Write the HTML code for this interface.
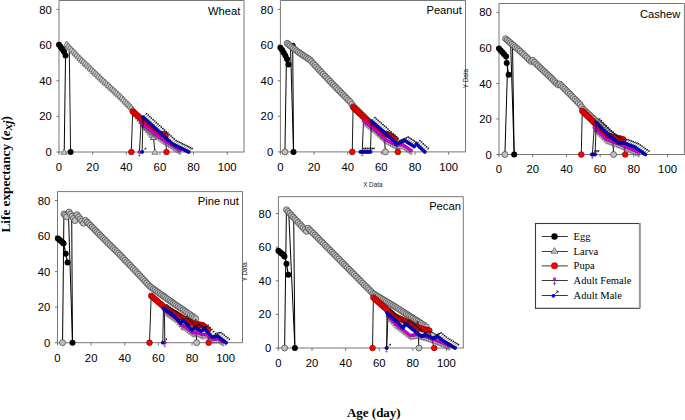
<!DOCTYPE html>
<html><head><meta charset="utf-8"><title>Life expectancy</title>
<style>
html,body{margin:0;padding:0;background:#fff;}
body{width:685px;height:420px;overflow:hidden;}
svg{display:block;}
.tk{font-family:"Liberation Sans",sans-serif;font-size:11.3px;fill:#000;}
.ti{font-family:"Liberation Sans",sans-serif;font-size:11.2px;fill:#000;}
.sm{font-family:"Liberation Sans",sans-serif;font-size:6.3px;fill:#222;}
.lg{font-family:"Liberation Serif",serif;font-size:11.3px;fill:#000;}
.ax{font-family:"Liberation Serif",serif;font-size:13px;font-weight:bold;fill:#000;}
</style></head>
<body>
<svg width="685" height="420" viewBox="0 0 685 420">
<rect width="685" height="420" fill="#fff"/>
<path d="M59.00 153.00V0.50H244.00V152.00M58.50 152.00H244.50" fill="none" stroke="#777" stroke-width="1"/>
<line x1="56.40" y1="152.00" x2="59.00" y2="152.00" stroke="#666" stroke-width="0.9"/>
<text x="51.80" y="156.10" class="tk" text-anchor="end">0</text>
<line x1="56.40" y1="116.35" x2="59.00" y2="116.35" stroke="#666" stroke-width="0.9"/>
<text x="51.80" y="120.45" class="tk" text-anchor="end">20</text>
<line x1="56.40" y1="80.71" x2="59.00" y2="80.71" stroke="#666" stroke-width="0.9"/>
<text x="51.80" y="84.81" class="tk" text-anchor="end">40</text>
<line x1="56.40" y1="45.06" x2="59.00" y2="45.06" stroke="#666" stroke-width="0.9"/>
<text x="51.80" y="49.16" class="tk" text-anchor="end">60</text>
<line x1="56.40" y1="9.41" x2="59.00" y2="9.41" stroke="#666" stroke-width="0.9"/>
<text x="51.80" y="13.51" class="tk" text-anchor="end">80</text>
<line x1="59.00" y1="152.00" x2="59.00" y2="154.80" stroke="#666" stroke-width="0.9"/>
<text x="59.00" y="170.90" class="tk" text-anchor="middle">0</text>
<line x1="92.64" y1="152.00" x2="92.64" y2="154.80" stroke="#666" stroke-width="0.9"/>
<text x="92.64" y="170.90" class="tk" text-anchor="middle">20</text>
<line x1="126.27" y1="152.00" x2="126.27" y2="154.80" stroke="#666" stroke-width="0.9"/>
<text x="126.27" y="170.90" class="tk" text-anchor="middle">40</text>
<line x1="159.91" y1="152.00" x2="159.91" y2="154.80" stroke="#666" stroke-width="0.9"/>
<text x="159.91" y="170.90" class="tk" text-anchor="middle">60</text>
<line x1="193.55" y1="152.00" x2="193.55" y2="154.80" stroke="#666" stroke-width="0.9"/>
<text x="193.55" y="170.90" class="tk" text-anchor="middle">80</text>
<line x1="227.18" y1="152.00" x2="227.18" y2="154.80" stroke="#666" stroke-width="0.9"/>
<text x="227.18" y="170.90" class="tk" text-anchor="middle">100</text>
<text x="240.40" y="15.00" class="ti" text-anchor="end">Wheat</text>
<path d="M280.40 152.90V0.50H465.50V151.90M279.90 151.90H466.00" fill="none" stroke="#777" stroke-width="1"/>
<line x1="277.80" y1="151.90" x2="280.40" y2="151.90" stroke="#666" stroke-width="0.9"/>
<text x="273.20" y="156.00" class="tk" text-anchor="end">0</text>
<line x1="277.80" y1="116.28" x2="280.40" y2="116.28" stroke="#666" stroke-width="0.9"/>
<text x="273.20" y="120.38" class="tk" text-anchor="end">20</text>
<line x1="277.80" y1="80.65" x2="280.40" y2="80.65" stroke="#666" stroke-width="0.9"/>
<text x="273.20" y="84.75" class="tk" text-anchor="end">40</text>
<line x1="277.80" y1="45.03" x2="280.40" y2="45.03" stroke="#666" stroke-width="0.9"/>
<text x="273.20" y="49.13" class="tk" text-anchor="end">60</text>
<line x1="277.80" y1="9.41" x2="280.40" y2="9.41" stroke="#666" stroke-width="0.9"/>
<text x="273.20" y="13.51" class="tk" text-anchor="end">80</text>
<line x1="280.40" y1="151.90" x2="280.40" y2="154.70" stroke="#666" stroke-width="0.9"/>
<text x="280.40" y="170.80" class="tk" text-anchor="middle">0</text>
<line x1="314.05" y1="151.90" x2="314.05" y2="154.70" stroke="#666" stroke-width="0.9"/>
<text x="314.05" y="170.80" class="tk" text-anchor="middle">20</text>
<line x1="347.71" y1="151.90" x2="347.71" y2="154.70" stroke="#666" stroke-width="0.9"/>
<text x="347.71" y="170.80" class="tk" text-anchor="middle">40</text>
<line x1="381.36" y1="151.90" x2="381.36" y2="154.70" stroke="#666" stroke-width="0.9"/>
<text x="381.36" y="170.80" class="tk" text-anchor="middle">60</text>
<line x1="415.02" y1="151.90" x2="415.02" y2="154.70" stroke="#666" stroke-width="0.9"/>
<text x="415.02" y="170.80" class="tk" text-anchor="middle">80</text>
<line x1="448.67" y1="151.90" x2="448.67" y2="154.70" stroke="#666" stroke-width="0.9"/>
<text x="448.67" y="170.80" class="tk" text-anchor="middle">100</text>
<text x="461.90" y="14.40" class="ti" text-anchor="end">Peanut</text>
<path d="M499.00 155.50V3.50H684.40V154.50M498.50 154.50H684.90" fill="none" stroke="#777" stroke-width="1"/>
<line x1="496.40" y1="154.50" x2="499.00" y2="154.50" stroke="#666" stroke-width="0.9"/>
<text x="491.80" y="158.60" class="tk" text-anchor="end">0</text>
<line x1="496.40" y1="118.97" x2="499.00" y2="118.97" stroke="#666" stroke-width="0.9"/>
<text x="491.80" y="123.07" class="tk" text-anchor="end">20</text>
<line x1="496.40" y1="83.44" x2="499.00" y2="83.44" stroke="#666" stroke-width="0.9"/>
<text x="491.80" y="87.54" class="tk" text-anchor="end">40</text>
<line x1="496.40" y1="47.91" x2="499.00" y2="47.91" stroke="#666" stroke-width="0.9"/>
<text x="491.80" y="52.01" class="tk" text-anchor="end">60</text>
<line x1="496.40" y1="12.38" x2="499.00" y2="12.38" stroke="#666" stroke-width="0.9"/>
<text x="491.80" y="16.48" class="tk" text-anchor="end">80</text>
<line x1="499.00" y1="154.50" x2="499.00" y2="157.30" stroke="#666" stroke-width="0.9"/>
<text x="499.00" y="173.40" class="tk" text-anchor="middle">0</text>
<line x1="532.71" y1="154.50" x2="532.71" y2="157.30" stroke="#666" stroke-width="0.9"/>
<text x="532.71" y="173.40" class="tk" text-anchor="middle">20</text>
<line x1="566.42" y1="154.50" x2="566.42" y2="157.30" stroke="#666" stroke-width="0.9"/>
<text x="566.42" y="173.40" class="tk" text-anchor="middle">40</text>
<line x1="600.13" y1="154.50" x2="600.13" y2="157.30" stroke="#666" stroke-width="0.9"/>
<text x="600.13" y="173.40" class="tk" text-anchor="middle">60</text>
<line x1="633.84" y1="154.50" x2="633.84" y2="157.30" stroke="#666" stroke-width="0.9"/>
<text x="633.84" y="173.40" class="tk" text-anchor="middle">80</text>
<line x1="667.55" y1="154.50" x2="667.55" y2="157.30" stroke="#666" stroke-width="0.9"/>
<text x="667.55" y="173.40" class="tk" text-anchor="middle">100</text>
<text x="680.30" y="17.90" class="ti" text-anchor="end">Cashew</text>
<path d="M57.50 343.70V191.60H242.50V342.70M57.00 342.70H243.00" fill="none" stroke="#777" stroke-width="1"/>
<line x1="54.90" y1="342.70" x2="57.50" y2="342.70" stroke="#666" stroke-width="0.9"/>
<text x="50.30" y="346.80" class="tk" text-anchor="end">0</text>
<line x1="54.90" y1="307.15" x2="57.50" y2="307.15" stroke="#666" stroke-width="0.9"/>
<text x="50.30" y="311.25" class="tk" text-anchor="end">20</text>
<line x1="54.90" y1="271.59" x2="57.50" y2="271.59" stroke="#666" stroke-width="0.9"/>
<text x="50.30" y="275.69" class="tk" text-anchor="end">40</text>
<line x1="54.90" y1="236.04" x2="57.50" y2="236.04" stroke="#666" stroke-width="0.9"/>
<text x="50.30" y="240.14" class="tk" text-anchor="end">60</text>
<line x1="54.90" y1="200.49" x2="57.50" y2="200.49" stroke="#666" stroke-width="0.9"/>
<text x="50.30" y="204.59" class="tk" text-anchor="end">80</text>
<line x1="57.50" y1="342.70" x2="57.50" y2="345.50" stroke="#666" stroke-width="0.9"/>
<text x="57.50" y="361.60" class="tk" text-anchor="middle">0</text>
<line x1="91.14" y1="342.70" x2="91.14" y2="345.50" stroke="#666" stroke-width="0.9"/>
<text x="91.14" y="361.60" class="tk" text-anchor="middle">20</text>
<line x1="124.77" y1="342.70" x2="124.77" y2="345.50" stroke="#666" stroke-width="0.9"/>
<text x="124.77" y="361.60" class="tk" text-anchor="middle">40</text>
<line x1="158.41" y1="342.70" x2="158.41" y2="345.50" stroke="#666" stroke-width="0.9"/>
<text x="158.41" y="361.60" class="tk" text-anchor="middle">60</text>
<line x1="192.05" y1="342.70" x2="192.05" y2="345.50" stroke="#666" stroke-width="0.9"/>
<text x="192.05" y="361.60" class="tk" text-anchor="middle">80</text>
<line x1="225.68" y1="342.70" x2="225.68" y2="345.50" stroke="#666" stroke-width="0.9"/>
<text x="225.68" y="361.60" class="tk" text-anchor="middle">100</text>
<text x="238.90" y="204.60" class="ti" text-anchor="end">Pine nut</text>
<path d="M278.40 349.00V196.70H463.30V348.00M277.90 348.00H463.80" fill="none" stroke="#777" stroke-width="1"/>
<line x1="275.80" y1="348.00" x2="278.40" y2="348.00" stroke="#666" stroke-width="0.9"/>
<text x="271.20" y="352.10" class="tk" text-anchor="end">0</text>
<line x1="275.80" y1="314.38" x2="278.40" y2="314.38" stroke="#666" stroke-width="0.9"/>
<text x="271.20" y="318.48" class="tk" text-anchor="end">20</text>
<line x1="275.80" y1="280.76" x2="278.40" y2="280.76" stroke="#666" stroke-width="0.9"/>
<text x="271.20" y="284.86" class="tk" text-anchor="end">40</text>
<line x1="275.80" y1="247.13" x2="278.40" y2="247.13" stroke="#666" stroke-width="0.9"/>
<text x="271.20" y="251.23" class="tk" text-anchor="end">60</text>
<line x1="275.80" y1="213.51" x2="278.40" y2="213.51" stroke="#666" stroke-width="0.9"/>
<text x="271.20" y="217.61" class="tk" text-anchor="end">80</text>
<line x1="278.40" y1="348.00" x2="278.40" y2="350.80" stroke="#666" stroke-width="0.9"/>
<text x="278.40" y="366.90" class="tk" text-anchor="middle">0</text>
<line x1="312.02" y1="348.00" x2="312.02" y2="350.80" stroke="#666" stroke-width="0.9"/>
<text x="312.02" y="366.90" class="tk" text-anchor="middle">20</text>
<line x1="345.64" y1="348.00" x2="345.64" y2="350.80" stroke="#666" stroke-width="0.9"/>
<text x="345.64" y="366.90" class="tk" text-anchor="middle">40</text>
<line x1="379.25" y1="348.00" x2="379.25" y2="350.80" stroke="#666" stroke-width="0.9"/>
<text x="379.25" y="366.90" class="tk" text-anchor="middle">60</text>
<line x1="412.87" y1="348.00" x2="412.87" y2="350.80" stroke="#666" stroke-width="0.9"/>
<text x="412.87" y="366.90" class="tk" text-anchor="middle">80</text>
<line x1="446.49" y1="348.00" x2="446.49" y2="350.80" stroke="#666" stroke-width="0.9"/>
<text x="446.49" y="366.90" class="tk" text-anchor="middle">100</text>
<text x="460.90" y="209.70" class="ti" text-anchor="end">Pecan</text>
<line x1="65.56" y1="55.40" x2="64.21" y2="152.00" stroke="#000" stroke-width="1.0"/>
<path d="M59.00 44.70 L60.68 47.02 L62.36 49.34 L64.05 51.83 L65.56 55.40" fill="none" stroke="#000" stroke-width="1.2"/>
<circle cx="59.00" cy="44.70" r="3" fill="#000"/><circle cx="60.68" cy="47.02" r="3" fill="#000"/><circle cx="62.36" cy="49.34" r="3" fill="#000"/><circle cx="64.05" cy="51.83" r="3" fill="#000"/><circle cx="65.56" cy="55.40" r="3" fill="#000"/>
<line x1="69.30" y1="52.00" x2="70.60" y2="152.00" stroke="#000" stroke-width="0.9"/>
<circle cx="70.60" cy="152.00" r="3" fill="#000"/>
<path d="M66.57 44.17 L68.25 45.93 L69.93 47.69 L71.61 49.45 L73.30 51.21 L74.98 52.97 L76.66 54.73 L78.34 56.49 L80.02 58.25 L81.69 59.85 L83.36 61.46 L85.03 63.06 L86.69 64.66 L88.36 66.27 L90.03 67.87 L91.70 69.48 L93.37 71.08 L95.03 72.69 L96.70 74.29 L98.37 75.89 L100.04 77.50 L101.70 79.04 L103.37 80.59 L105.04 82.13 L106.71 83.68 L108.38 85.22 L110.04 86.77 L111.71 88.31 L113.38 89.86 L115.05 91.40 L116.71 92.94 L118.38 94.49 L120.05 96.03 L121.66 97.66 L123.27 99.29 L124.88 100.92 L126.49 102.55 L128.10 104.18 L129.71 105.81 L131.32 107.44 L133.03 109.73 L134.73 112.02 L136.44 114.31 L138.15 116.60 L139.86 118.89 L141.56 121.18 L143.27 123.47 L144.98 125.76 L146.69 128.05 L148.40 130.34 L150.10 132.63 L151.81 134.92 L153.52 137.21" fill="none" stroke="#000" stroke-width="0.9"/>
<path d="M66.57 41.07L69.57 46.49L63.57 46.49Z" fill="#c8c8c8" stroke="#3a3a3a" stroke-width="0.6"/><path d="M68.25 42.83L71.25 48.25L65.25 48.25Z" fill="#c8c8c8" stroke="#3a3a3a" stroke-width="0.6"/><path d="M69.93 44.59L72.93 50.01L66.93 50.01Z" fill="#c8c8c8" stroke="#3a3a3a" stroke-width="0.6"/><path d="M71.61 46.35L74.61 51.77L68.61 51.77Z" fill="#c8c8c8" stroke="#3a3a3a" stroke-width="0.6"/><path d="M73.30 48.11L76.30 53.53L70.30 53.53Z" fill="#c8c8c8" stroke="#3a3a3a" stroke-width="0.6"/><path d="M74.98 49.87L77.98 55.29L71.98 55.29Z" fill="#c8c8c8" stroke="#3a3a3a" stroke-width="0.6"/><path d="M76.66 51.63L79.66 57.05L73.66 57.05Z" fill="#c8c8c8" stroke="#3a3a3a" stroke-width="0.6"/><path d="M78.34 53.39L81.34 58.81L75.34 58.81Z" fill="#c8c8c8" stroke="#3a3a3a" stroke-width="0.6"/><path d="M80.02 55.15L83.02 60.57L77.02 60.57Z" fill="#c8c8c8" stroke="#3a3a3a" stroke-width="0.6"/><path d="M81.69 56.75L84.69 62.18L78.69 62.18Z" fill="#c8c8c8" stroke="#3a3a3a" stroke-width="0.6"/><path d="M83.36 58.36L86.36 63.78L80.36 63.78Z" fill="#c8c8c8" stroke="#3a3a3a" stroke-width="0.6"/><path d="M85.03 59.96L88.03 65.39L82.03 65.39Z" fill="#c8c8c8" stroke="#3a3a3a" stroke-width="0.6"/><path d="M86.69 61.56L89.69 66.99L83.69 66.99Z" fill="#c8c8c8" stroke="#3a3a3a" stroke-width="0.6"/><path d="M88.36 63.17L91.36 68.59L85.36 68.59Z" fill="#c8c8c8" stroke="#3a3a3a" stroke-width="0.6"/><path d="M90.03 64.77L93.03 70.20L87.03 70.20Z" fill="#c8c8c8" stroke="#3a3a3a" stroke-width="0.6"/><path d="M91.70 66.38L94.70 71.80L88.70 71.80Z" fill="#c8c8c8" stroke="#3a3a3a" stroke-width="0.6"/><path d="M93.37 67.98L96.37 73.41L90.37 73.41Z" fill="#c8c8c8" stroke="#3a3a3a" stroke-width="0.6"/><path d="M95.03 69.59L98.03 75.01L92.03 75.01Z" fill="#c8c8c8" stroke="#3a3a3a" stroke-width="0.6"/><path d="M96.70 71.19L99.70 76.61L93.70 76.61Z" fill="#c8c8c8" stroke="#3a3a3a" stroke-width="0.6"/><path d="M98.37 72.79L101.37 78.22L95.37 78.22Z" fill="#c8c8c8" stroke="#3a3a3a" stroke-width="0.6"/><path d="M100.04 74.40L103.04 79.82L97.04 79.82Z" fill="#c8c8c8" stroke="#3a3a3a" stroke-width="0.6"/><path d="M101.70 75.94L104.70 81.37L98.70 81.37Z" fill="#c8c8c8" stroke="#3a3a3a" stroke-width="0.6"/><path d="M103.37 77.49L106.37 82.91L100.37 82.91Z" fill="#c8c8c8" stroke="#3a3a3a" stroke-width="0.6"/><path d="M105.04 79.03L108.04 84.46L102.04 84.46Z" fill="#c8c8c8" stroke="#3a3a3a" stroke-width="0.6"/><path d="M106.71 80.58L109.71 86.00L103.71 86.00Z" fill="#c8c8c8" stroke="#3a3a3a" stroke-width="0.6"/><path d="M108.38 82.12L111.38 87.55L105.38 87.55Z" fill="#c8c8c8" stroke="#3a3a3a" stroke-width="0.6"/><path d="M110.04 83.67L113.04 89.09L107.04 89.09Z" fill="#c8c8c8" stroke="#3a3a3a" stroke-width="0.6"/><path d="M111.71 85.21L114.71 90.64L108.71 90.64Z" fill="#c8c8c8" stroke="#3a3a3a" stroke-width="0.6"/><path d="M113.38 86.76L116.38 92.18L110.38 92.18Z" fill="#c8c8c8" stroke="#3a3a3a" stroke-width="0.6"/><path d="M115.05 88.30L118.05 93.73L112.05 93.73Z" fill="#c8c8c8" stroke="#3a3a3a" stroke-width="0.6"/><path d="M116.71 89.84L119.71 95.27L113.71 95.27Z" fill="#c8c8c8" stroke="#3a3a3a" stroke-width="0.6"/><path d="M118.38 91.39L121.38 96.81L115.38 96.81Z" fill="#c8c8c8" stroke="#3a3a3a" stroke-width="0.6"/><path d="M120.05 92.93L123.05 98.36L117.05 98.36Z" fill="#c8c8c8" stroke="#3a3a3a" stroke-width="0.6"/><path d="M121.66 94.56L124.66 99.99L118.66 99.99Z" fill="#c8c8c8" stroke="#3a3a3a" stroke-width="0.6"/><path d="M123.27 96.19L126.27 101.62L120.27 101.62Z" fill="#c8c8c8" stroke="#3a3a3a" stroke-width="0.6"/><path d="M124.88 97.82L127.88 103.25L121.88 103.25Z" fill="#c8c8c8" stroke="#3a3a3a" stroke-width="0.6"/><path d="M126.49 99.45L129.49 104.88L123.49 104.88Z" fill="#c8c8c8" stroke="#3a3a3a" stroke-width="0.6"/><path d="M128.10 101.08L131.10 106.51L125.10 106.51Z" fill="#c8c8c8" stroke="#3a3a3a" stroke-width="0.6"/><path d="M129.71 102.71L132.71 108.14L126.71 108.14Z" fill="#c8c8c8" stroke="#3a3a3a" stroke-width="0.6"/><path d="M131.32 104.34L134.32 109.77L128.32 109.77Z" fill="#c8c8c8" stroke="#3a3a3a" stroke-width="0.6"/><path d="M133.03 106.63L136.03 112.06L130.03 112.06Z" fill="#c8c8c8" stroke="#3a3a3a" stroke-width="0.6"/><path d="M134.73 108.92L137.73 114.35L131.73 114.35Z" fill="#c8c8c8" stroke="#3a3a3a" stroke-width="0.6"/><path d="M136.44 111.21L139.44 116.64L133.44 116.64Z" fill="#c8c8c8" stroke="#3a3a3a" stroke-width="0.6"/><path d="M138.15 113.50L141.15 118.92L135.15 118.92Z" fill="#c8c8c8" stroke="#3a3a3a" stroke-width="0.6"/><path d="M139.86 115.79L142.86 121.21L136.86 121.21Z" fill="#c8c8c8" stroke="#3a3a3a" stroke-width="0.6"/><path d="M141.56 118.08L144.56 123.50L138.56 123.50Z" fill="#c8c8c8" stroke="#3a3a3a" stroke-width="0.6"/><path d="M143.27 120.37L146.27 125.79L140.27 125.79Z" fill="#c8c8c8" stroke="#3a3a3a" stroke-width="0.6"/><path d="M144.98 122.66L147.98 128.08L141.98 128.08Z" fill="#c8c8c8" stroke="#3a3a3a" stroke-width="0.6"/><path d="M146.69 124.95L149.69 130.37L143.69 130.37Z" fill="#c8c8c8" stroke="#3a3a3a" stroke-width="0.6"/><path d="M148.40 127.24L151.40 132.66L145.40 132.66Z" fill="#c8c8c8" stroke="#3a3a3a" stroke-width="0.6"/><path d="M150.10 129.53L153.10 134.95L147.10 134.95Z" fill="#c8c8c8" stroke="#3a3a3a" stroke-width="0.6"/><path d="M151.81 131.82L154.81 137.24L148.81 137.24Z" fill="#c8c8c8" stroke="#3a3a3a" stroke-width="0.6"/><path d="M153.52 134.11L156.52 139.53L150.52 139.53Z" fill="#c8c8c8" stroke="#3a3a3a" stroke-width="0.6"/>
<path d="M153.52 137.21 L154.86 152.00" fill="none" stroke="#000" stroke-width="0.9"/>
<path d="M153.52 134.11L156.52 139.53L150.52 139.53Z" fill="#c8c8c8" stroke="#3a3a3a" stroke-width="0.6"/><path d="M154.86 148.90L157.86 154.32L151.86 154.32Z" fill="#c8c8c8" stroke="#3a3a3a" stroke-width="0.6"/>
<path d="M64.21 148.90L67.21 154.32L61.21 154.32Z" fill="#c8c8c8" stroke="#3a3a3a" stroke-width="0.6"/>
<path d="M131.32 152.00 L132.66 111.36 L134.37 112.86 L136.07 114.35 L137.77 115.84 L139.47 117.33 L141.18 118.83 L142.88 120.32 L144.58 121.81 L146.29 123.30 L147.99 124.80 L149.69 126.29 L151.39 127.78 L153.10 129.28 L154.80 130.77 L156.50 132.26 L158.21 133.75 L159.91 135.25 L162.10 134.18 L164.11 134.00 L165.63 135.60 L166.47 152.00" fill="none" stroke="#000" stroke-width="0.9"/>
<circle cx="131.32" cy="152.00" r="2.85" fill="#ff0000" stroke="#700000" stroke-width="0.6"/><circle cx="132.66" cy="111.36" r="2.85" fill="#ff0000" stroke="#700000" stroke-width="0.6"/><circle cx="134.37" cy="112.86" r="2.85" fill="#ff0000" stroke="#700000" stroke-width="0.6"/><circle cx="136.07" cy="114.35" r="2.85" fill="#ff0000" stroke="#700000" stroke-width="0.6"/><circle cx="137.77" cy="115.84" r="2.85" fill="#ff0000" stroke="#700000" stroke-width="0.6"/><circle cx="139.47" cy="117.33" r="2.85" fill="#ff0000" stroke="#700000" stroke-width="0.6"/><circle cx="141.18" cy="118.83" r="2.85" fill="#ff0000" stroke="#700000" stroke-width="0.6"/><circle cx="142.88" cy="120.32" r="2.85" fill="#ff0000" stroke="#700000" stroke-width="0.6"/><circle cx="144.58" cy="121.81" r="2.85" fill="#ff0000" stroke="#700000" stroke-width="0.6"/><circle cx="146.29" cy="123.30" r="2.85" fill="#ff0000" stroke="#700000" stroke-width="0.6"/><circle cx="147.99" cy="124.80" r="2.85" fill="#ff0000" stroke="#700000" stroke-width="0.6"/><circle cx="149.69" cy="126.29" r="2.85" fill="#ff0000" stroke="#700000" stroke-width="0.6"/><circle cx="151.39" cy="127.78" r="2.85" fill="#ff0000" stroke="#700000" stroke-width="0.6"/><circle cx="153.10" cy="129.28" r="2.85" fill="#ff0000" stroke="#700000" stroke-width="0.6"/><circle cx="154.80" cy="130.77" r="2.85" fill="#ff0000" stroke="#700000" stroke-width="0.6"/><circle cx="156.50" cy="132.26" r="2.85" fill="#ff0000" stroke="#700000" stroke-width="0.6"/><circle cx="158.21" cy="133.75" r="2.85" fill="#ff0000" stroke="#700000" stroke-width="0.6"/><circle cx="159.91" cy="135.25" r="2.85" fill="#ff0000" stroke="#700000" stroke-width="0.6"/><circle cx="162.10" cy="134.18" r="2.85" fill="#ff0000" stroke="#700000" stroke-width="0.6"/><circle cx="164.11" cy="134.00" r="2.85" fill="#ff0000" stroke="#700000" stroke-width="0.6"/><circle cx="165.63" cy="135.60" r="2.85" fill="#ff0000" stroke="#700000" stroke-width="0.6"/><circle cx="166.47" cy="152.00" r="2.85" fill="#ff0000" stroke="#700000" stroke-width="0.6"/>
<path d="M139.39 152.00 L141.07 123.13 L142.81 124.46 L144.55 125.80 L146.29 127.14 L148.02 128.47 L149.76 129.81 L151.50 131.15 L153.24 132.48 L154.98 133.82 L156.71 135.16 L158.45 136.49 L160.19 137.83 L161.93 139.17 L163.58 140.19 L165.23 141.21 L166.88 142.23 L168.53 143.25 L170.18 144.27 L171.83 145.29 L173.49 146.31 L175.14 147.33 L176.79 148.35 L178.44 149.38 L180.09 150.40" fill="none" stroke="#000" stroke-width="0.9"/>
<path d="M139.39 153.30V156.80M138.09 155.40H140.69" stroke="#555" stroke-width="0.6" fill="none"/><circle cx="139.39" cy="152.00" r="1.45" fill="#ff00ff" stroke="#800080" stroke-width="0.7"/><path d="M141.07 124.43V127.93M139.77 126.53H142.37" stroke="#555" stroke-width="0.6" fill="none"/><circle cx="141.07" cy="123.13" r="1.45" fill="#ff00ff" stroke="#800080" stroke-width="0.7"/><path d="M142.81 125.76V129.26M141.51 127.86H144.11" stroke="#555" stroke-width="0.6" fill="none"/><circle cx="142.81" cy="124.46" r="1.45" fill="#ff00ff" stroke="#800080" stroke-width="0.7"/><path d="M144.55 127.10V130.60M143.25 129.20H145.85" stroke="#555" stroke-width="0.6" fill="none"/><circle cx="144.55" cy="125.80" r="1.45" fill="#ff00ff" stroke="#800080" stroke-width="0.7"/><path d="M146.29 128.44V131.94M144.99 130.54H147.59" stroke="#555" stroke-width="0.6" fill="none"/><circle cx="146.29" cy="127.14" r="1.45" fill="#ff00ff" stroke="#800080" stroke-width="0.7"/><path d="M148.02 129.77V133.27M146.72 131.87H149.32" stroke="#555" stroke-width="0.6" fill="none"/><circle cx="148.02" cy="128.47" r="1.45" fill="#ff00ff" stroke="#800080" stroke-width="0.7"/><path d="M149.76 131.11V134.61M148.46 133.21H151.06" stroke="#555" stroke-width="0.6" fill="none"/><circle cx="149.76" cy="129.81" r="1.45" fill="#ff00ff" stroke="#800080" stroke-width="0.7"/><path d="M151.50 132.45V135.95M150.20 134.55H152.80" stroke="#555" stroke-width="0.6" fill="none"/><circle cx="151.50" cy="131.15" r="1.45" fill="#ff00ff" stroke="#800080" stroke-width="0.7"/><path d="M153.24 133.78V137.28M151.94 135.88H154.54" stroke="#555" stroke-width="0.6" fill="none"/><circle cx="153.24" cy="132.48" r="1.45" fill="#ff00ff" stroke="#800080" stroke-width="0.7"/><path d="M154.98 135.12V138.62M153.68 137.22H156.28" stroke="#555" stroke-width="0.6" fill="none"/><circle cx="154.98" cy="133.82" r="1.45" fill="#ff00ff" stroke="#800080" stroke-width="0.7"/><path d="M156.71 136.46V139.96M155.41 138.56H158.01" stroke="#555" stroke-width="0.6" fill="none"/><circle cx="156.71" cy="135.16" r="1.45" fill="#ff00ff" stroke="#800080" stroke-width="0.7"/><path d="M158.45 137.79V141.29M157.15 139.89H159.75" stroke="#555" stroke-width="0.6" fill="none"/><circle cx="158.45" cy="136.49" r="1.45" fill="#ff00ff" stroke="#800080" stroke-width="0.7"/><path d="M160.19 139.13V142.63M158.89 141.23H161.49" stroke="#555" stroke-width="0.6" fill="none"/><circle cx="160.19" cy="137.83" r="1.45" fill="#ff00ff" stroke="#800080" stroke-width="0.7"/><path d="M161.93 140.47V143.97M160.63 142.57H163.23" stroke="#555" stroke-width="0.6" fill="none"/><circle cx="161.93" cy="139.17" r="1.45" fill="#ff00ff" stroke="#800080" stroke-width="0.7"/><path d="M163.58 141.49V144.99M162.28 143.59H164.88" stroke="#555" stroke-width="0.6" fill="none"/><circle cx="163.58" cy="140.19" r="1.45" fill="#ff00ff" stroke="#800080" stroke-width="0.7"/><path d="M165.23 142.51V146.01M163.93 144.61H166.53" stroke="#555" stroke-width="0.6" fill="none"/><circle cx="165.23" cy="141.21" r="1.45" fill="#ff00ff" stroke="#800080" stroke-width="0.7"/><path d="M166.88 143.53V147.03M165.58 145.63H168.18" stroke="#555" stroke-width="0.6" fill="none"/><circle cx="166.88" cy="142.23" r="1.45" fill="#ff00ff" stroke="#800080" stroke-width="0.7"/><path d="M168.53 144.55V148.05M167.23 146.65H169.83" stroke="#555" stroke-width="0.6" fill="none"/><circle cx="168.53" cy="143.25" r="1.45" fill="#ff00ff" stroke="#800080" stroke-width="0.7"/><path d="M170.18 145.57V149.07M168.88 147.67H171.48" stroke="#555" stroke-width="0.6" fill="none"/><circle cx="170.18" cy="144.27" r="1.45" fill="#ff00ff" stroke="#800080" stroke-width="0.7"/><path d="M171.83 146.59V150.09M170.53 148.69H173.13" stroke="#555" stroke-width="0.6" fill="none"/><circle cx="171.83" cy="145.29" r="1.45" fill="#ff00ff" stroke="#800080" stroke-width="0.7"/><path d="M173.49 147.61V151.11M172.19 149.71H174.79" stroke="#555" stroke-width="0.6" fill="none"/><circle cx="173.49" cy="146.31" r="1.45" fill="#ff00ff" stroke="#800080" stroke-width="0.7"/><path d="M175.14 148.63V152.13M173.84 150.73H176.44" stroke="#555" stroke-width="0.6" fill="none"/><circle cx="175.14" cy="147.33" r="1.45" fill="#ff00ff" stroke="#800080" stroke-width="0.7"/><path d="M176.79 149.65V153.15M175.49 151.75H178.09" stroke="#555" stroke-width="0.6" fill="none"/><circle cx="176.79" cy="148.35" r="1.45" fill="#ff00ff" stroke="#800080" stroke-width="0.7"/><path d="M178.44 150.68V154.18M177.14 152.78H179.74" stroke="#555" stroke-width="0.6" fill="none"/><circle cx="178.44" cy="149.38" r="1.45" fill="#ff00ff" stroke="#800080" stroke-width="0.7"/><path d="M180.09 151.70V155.20M178.79 153.80H181.39" stroke="#555" stroke-width="0.6" fill="none"/><circle cx="180.09" cy="150.40" r="1.45" fill="#ff00ff" stroke="#800080" stroke-width="0.7"/>
<path d="M142.08 152.00 L143.09 117.07 L144.73 118.56 L146.36 120.06 L148.00 121.55 L149.63 123.05 L151.27 124.54 L152.90 126.04 L154.54 127.53 L156.17 129.03 L157.81 130.52 L159.44 132.02 L161.08 133.51 L162.71 135.01 L164.35 136.50 L165.98 138.00 L167.62 139.49 L169.25 140.99 L170.89 142.48 L172.52 143.98 L174.14 144.78 L175.75 145.58 L177.37 146.39 L178.98 147.19 L180.60 147.99 L182.21 148.79 L183.82 149.59 L185.44 150.40 L187.05 151.20 L188.67 152.00" fill="none" stroke="#000" stroke-width="0.9"/>
<path d="M143.08 151.00L145.48 148.60" stroke="#333" stroke-width="0.55" fill="none"/><path d="M146.38 147.70L144.38 148.10L145.98 149.70Z" fill="#000"/><circle cx="142.08" cy="152.00" r="1.55" fill="#0000ff" stroke="#000060" stroke-width="0.7"/><path d="M144.09 116.07L146.49 113.67" stroke="#333" stroke-width="0.55" fill="none"/><path d="M147.39 112.77L145.39 113.17L146.99 114.77Z" fill="#000"/><circle cx="143.09" cy="117.07" r="1.55" fill="#0000ff" stroke="#000060" stroke-width="0.7"/><path d="M145.73 117.56L148.13 115.16" stroke="#333" stroke-width="0.55" fill="none"/><path d="M149.03 114.26L147.03 114.66L148.63 116.26Z" fill="#000"/><circle cx="144.73" cy="118.56" r="1.55" fill="#0000ff" stroke="#000060" stroke-width="0.7"/><path d="M147.36 119.06L149.76 116.66" stroke="#333" stroke-width="0.55" fill="none"/><path d="M150.66 115.76L148.66 116.16L150.26 117.76Z" fill="#000"/><circle cx="146.36" cy="120.06" r="1.55" fill="#0000ff" stroke="#000060" stroke-width="0.7"/><path d="M149.00 120.55L151.40 118.15" stroke="#333" stroke-width="0.55" fill="none"/><path d="M152.30 117.25L150.30 117.65L151.90 119.25Z" fill="#000"/><circle cx="148.00" cy="121.55" r="1.55" fill="#0000ff" stroke="#000060" stroke-width="0.7"/><path d="M150.63 122.05L153.03 119.65" stroke="#333" stroke-width="0.55" fill="none"/><path d="M153.93 118.75L151.93 119.15L153.53 120.75Z" fill="#000"/><circle cx="149.63" cy="123.05" r="1.55" fill="#0000ff" stroke="#000060" stroke-width="0.7"/><path d="M152.27 123.54L154.67 121.14" stroke="#333" stroke-width="0.55" fill="none"/><path d="M155.57 120.24L153.57 120.64L155.17 122.24Z" fill="#000"/><circle cx="151.27" cy="124.54" r="1.55" fill="#0000ff" stroke="#000060" stroke-width="0.7"/><path d="M153.90 125.04L156.30 122.64" stroke="#333" stroke-width="0.55" fill="none"/><path d="M157.20 121.74L155.20 122.14L156.80 123.74Z" fill="#000"/><circle cx="152.90" cy="126.04" r="1.55" fill="#0000ff" stroke="#000060" stroke-width="0.7"/><path d="M155.54 126.53L157.94 124.13" stroke="#333" stroke-width="0.55" fill="none"/><path d="M158.84 123.23L156.84 123.63L158.44 125.23Z" fill="#000"/><circle cx="154.54" cy="127.53" r="1.55" fill="#0000ff" stroke="#000060" stroke-width="0.7"/><path d="M157.17 128.03L159.57 125.63" stroke="#333" stroke-width="0.55" fill="none"/><path d="M160.47 124.73L158.47 125.13L160.07 126.73Z" fill="#000"/><circle cx="156.17" cy="129.03" r="1.55" fill="#0000ff" stroke="#000060" stroke-width="0.7"/><path d="M158.81 129.52L161.21 127.12" stroke="#333" stroke-width="0.55" fill="none"/><path d="M162.11 126.22L160.11 126.62L161.71 128.22Z" fill="#000"/><circle cx="157.81" cy="130.52" r="1.55" fill="#0000ff" stroke="#000060" stroke-width="0.7"/><path d="M160.44 131.02L162.84 128.62" stroke="#333" stroke-width="0.55" fill="none"/><path d="M163.74 127.72L161.74 128.12L163.34 129.72Z" fill="#000"/><circle cx="159.44" cy="132.02" r="1.55" fill="#0000ff" stroke="#000060" stroke-width="0.7"/><path d="M162.08 132.51L164.48 130.11" stroke="#333" stroke-width="0.55" fill="none"/><path d="M165.38 129.21L163.38 129.61L164.98 131.21Z" fill="#000"/><circle cx="161.08" cy="133.51" r="1.55" fill="#0000ff" stroke="#000060" stroke-width="0.7"/><path d="M163.71 134.01L166.11 131.61" stroke="#333" stroke-width="0.55" fill="none"/><path d="M167.01 130.71L165.01 131.11L166.61 132.71Z" fill="#000"/><circle cx="162.71" cy="135.01" r="1.55" fill="#0000ff" stroke="#000060" stroke-width="0.7"/><path d="M165.35 135.50L167.75 133.10" stroke="#333" stroke-width="0.55" fill="none"/><path d="M168.65 132.20L166.65 132.60L168.25 134.20Z" fill="#000"/><circle cx="164.35" cy="136.50" r="1.55" fill="#0000ff" stroke="#000060" stroke-width="0.7"/><path d="M166.98 137.00L169.38 134.60" stroke="#333" stroke-width="0.55" fill="none"/><path d="M170.28 133.70L168.28 134.10L169.88 135.70Z" fill="#000"/><circle cx="165.98" cy="138.00" r="1.55" fill="#0000ff" stroke="#000060" stroke-width="0.7"/><path d="M168.62 138.49L171.02 136.09" stroke="#333" stroke-width="0.55" fill="none"/><path d="M171.92 135.19L169.92 135.59L171.52 137.19Z" fill="#000"/><circle cx="167.62" cy="139.49" r="1.55" fill="#0000ff" stroke="#000060" stroke-width="0.7"/><path d="M170.25 139.99L172.65 137.59" stroke="#333" stroke-width="0.55" fill="none"/><path d="M173.55 136.69L171.55 137.09L173.15 138.69Z" fill="#000"/><circle cx="169.25" cy="140.99" r="1.55" fill="#0000ff" stroke="#000060" stroke-width="0.7"/><path d="M171.89 141.48L174.29 139.08" stroke="#333" stroke-width="0.55" fill="none"/><path d="M175.19 138.18L173.19 138.58L174.79 140.18Z" fill="#000"/><circle cx="170.89" cy="142.48" r="1.55" fill="#0000ff" stroke="#000060" stroke-width="0.7"/><path d="M173.52 142.98L175.92 140.58" stroke="#333" stroke-width="0.55" fill="none"/><path d="M176.82 139.68L174.82 140.08L176.42 141.68Z" fill="#000"/><circle cx="172.52" cy="143.98" r="1.55" fill="#0000ff" stroke="#000060" stroke-width="0.7"/><path d="M175.14 143.78L177.54 141.38" stroke="#333" stroke-width="0.55" fill="none"/><path d="M178.44 140.48L176.44 140.88L178.04 142.48Z" fill="#000"/><circle cx="174.14" cy="144.78" r="1.55" fill="#0000ff" stroke="#000060" stroke-width="0.7"/><path d="M176.75 144.58L179.15 142.18" stroke="#333" stroke-width="0.55" fill="none"/><path d="M180.05 141.28L178.05 141.68L179.65 143.28Z" fill="#000"/><circle cx="175.75" cy="145.58" r="1.55" fill="#0000ff" stroke="#000060" stroke-width="0.7"/><path d="M178.37 145.39L180.77 142.99" stroke="#333" stroke-width="0.55" fill="none"/><path d="M181.67 142.09L179.67 142.49L181.27 144.09Z" fill="#000"/><circle cx="177.37" cy="146.39" r="1.55" fill="#0000ff" stroke="#000060" stroke-width="0.7"/><path d="M179.98 146.19L182.38 143.79" stroke="#333" stroke-width="0.55" fill="none"/><path d="M183.28 142.89L181.28 143.29L182.88 144.89Z" fill="#000"/><circle cx="178.98" cy="147.19" r="1.55" fill="#0000ff" stroke="#000060" stroke-width="0.7"/><path d="M181.60 146.99L184.00 144.59" stroke="#333" stroke-width="0.55" fill="none"/><path d="M184.90 143.69L182.90 144.09L184.50 145.69Z" fill="#000"/><circle cx="180.60" cy="147.99" r="1.55" fill="#0000ff" stroke="#000060" stroke-width="0.7"/><path d="M183.21 147.79L185.61 145.39" stroke="#333" stroke-width="0.55" fill="none"/><path d="M186.51 144.49L184.51 144.89L186.11 146.49Z" fill="#000"/><circle cx="182.21" cy="148.79" r="1.55" fill="#0000ff" stroke="#000060" stroke-width="0.7"/><path d="M184.82 148.59L187.22 146.19" stroke="#333" stroke-width="0.55" fill="none"/><path d="M188.12 145.29L186.12 145.69L187.72 147.29Z" fill="#000"/><circle cx="183.82" cy="149.59" r="1.55" fill="#0000ff" stroke="#000060" stroke-width="0.7"/><path d="M186.44 149.40L188.84 147.00" stroke="#333" stroke-width="0.55" fill="none"/><path d="M189.74 146.10L187.74 146.50L189.34 148.10Z" fill="#000"/><circle cx="185.44" cy="150.40" r="1.55" fill="#0000ff" stroke="#000060" stroke-width="0.7"/><path d="M188.05 150.20L190.45 147.80" stroke="#333" stroke-width="0.55" fill="none"/><path d="M191.35 146.90L189.35 147.30L190.95 148.90Z" fill="#000"/><circle cx="187.05" cy="151.20" r="1.55" fill="#0000ff" stroke="#000060" stroke-width="0.7"/><path d="M189.67 151.00L192.07 148.60" stroke="#333" stroke-width="0.55" fill="none"/><path d="M192.97 147.70L190.97 148.10L192.57 149.70Z" fill="#000"/><circle cx="188.67" cy="152.00" r="1.55" fill="#0000ff" stroke="#000060" stroke-width="0.7"/>
<path d="M280.40 47.70 L282.08 50.02 L283.77 52.87 L285.45 55.72 L287.13 59.28 L288.48 64.62" fill="none" stroke="#000" stroke-width="1.2"/>
<circle cx="280.40" cy="47.70" r="3" fill="#000"/><circle cx="282.08" cy="50.02" r="3" fill="#000"/><circle cx="283.77" cy="52.87" r="3" fill="#000"/><circle cx="285.45" cy="55.72" r="3" fill="#000"/><circle cx="287.13" cy="59.28" r="3" fill="#000"/><circle cx="288.48" cy="64.62" r="3" fill="#000"/>
<circle cx="292.68" cy="45.74" r="3" fill="#000"/>
<line x1="290.60" y1="50.00" x2="293.53" y2="151.90" stroke="#000" stroke-width="1.0"/>
<line x1="292.70" y1="46.00" x2="293.53" y2="151.90" stroke="#000" stroke-width="1.0"/>
<line x1="284.94" y1="151.90" x2="286.40" y2="60.00" stroke="#000" stroke-width="1.0"/>
<circle cx="284.94" cy="151.90" r="3.0" fill="#c0c0c0" stroke="#333" stroke-width="0.65"/>
<circle cx="293.53" cy="151.90" r="3" fill="#000"/>
<path d="M287.13 43.25 L288.56 44.50 L289.99 45.74 L291.65 46.99 L293.30 48.24 L294.96 49.48 L296.61 50.73 L298.26 51.98 L299.92 53.22 L301.60 54.32 L303.29 55.42 L304.97 56.52 L306.65 57.62 L308.33 58.71 L310.02 59.81 L311.67 61.62 L313.33 63.43 L314.98 65.25 L316.63 67.06 L318.29 68.87 L319.94 70.68 L321.63 72.46 L323.31 74.24 L324.99 76.02 L326.67 77.80 L328.36 79.58 L330.04 81.37 L331.70 83.06 L333.35 84.75 L335.00 86.44 L336.66 88.13 L338.31 89.83 L339.97 91.52 L341.65 93.21 L343.33 94.90 L345.02 96.59 L346.70 98.29 L348.38 99.98 L350.06 101.67 L351.83 104.08 L353.60 106.48 L355.31 108.16 L357.02 109.84 L358.73 111.53 L360.44 113.21 L362.15 114.89 L363.86 116.57 L365.57 118.26 L367.28 119.94 L369.00 121.62 L370.71 123.30 L372.42 124.98 L374.13 126.67 L375.84 128.35 L377.55 130.03 L379.26 131.71 L380.97 133.40 L382.68 135.08 L384.39 136.76" fill="none" stroke="#000" stroke-width="0.9"/>
<circle cx="287.13" cy="43.25" r="3.0" fill="#c0c0c0" stroke="#333" stroke-width="0.65"/><circle cx="288.56" cy="44.50" r="3.0" fill="#c0c0c0" stroke="#333" stroke-width="0.65"/><circle cx="289.99" cy="45.74" r="3.0" fill="#c0c0c0" stroke="#333" stroke-width="0.65"/><circle cx="291.65" cy="46.99" r="3.0" fill="#c0c0c0" stroke="#333" stroke-width="0.65"/><circle cx="293.30" cy="48.24" r="3.0" fill="#c0c0c0" stroke="#333" stroke-width="0.65"/><circle cx="294.96" cy="49.48" r="3.0" fill="#c0c0c0" stroke="#333" stroke-width="0.65"/><circle cx="296.61" cy="50.73" r="3.0" fill="#c0c0c0" stroke="#333" stroke-width="0.65"/><circle cx="298.26" cy="51.98" r="3.0" fill="#c0c0c0" stroke="#333" stroke-width="0.65"/><circle cx="299.92" cy="53.22" r="3.0" fill="#c0c0c0" stroke="#333" stroke-width="0.65"/><circle cx="301.60" cy="54.32" r="3.0" fill="#c0c0c0" stroke="#333" stroke-width="0.65"/><circle cx="303.29" cy="55.42" r="3.0" fill="#c0c0c0" stroke="#333" stroke-width="0.65"/><circle cx="304.97" cy="56.52" r="3.0" fill="#c0c0c0" stroke="#333" stroke-width="0.65"/><circle cx="306.65" cy="57.62" r="3.0" fill="#c0c0c0" stroke="#333" stroke-width="0.65"/><circle cx="308.33" cy="58.71" r="3.0" fill="#c0c0c0" stroke="#333" stroke-width="0.65"/><circle cx="310.02" cy="59.81" r="3.0" fill="#c0c0c0" stroke="#333" stroke-width="0.65"/><circle cx="311.67" cy="61.62" r="3.0" fill="#c0c0c0" stroke="#333" stroke-width="0.65"/><circle cx="313.33" cy="63.43" r="3.0" fill="#c0c0c0" stroke="#333" stroke-width="0.65"/><circle cx="314.98" cy="65.25" r="3.0" fill="#c0c0c0" stroke="#333" stroke-width="0.65"/><circle cx="316.63" cy="67.06" r="3.0" fill="#c0c0c0" stroke="#333" stroke-width="0.65"/><circle cx="318.29" cy="68.87" r="3.0" fill="#c0c0c0" stroke="#333" stroke-width="0.65"/><circle cx="319.94" cy="70.68" r="3.0" fill="#c0c0c0" stroke="#333" stroke-width="0.65"/><circle cx="321.63" cy="72.46" r="3.0" fill="#c0c0c0" stroke="#333" stroke-width="0.65"/><circle cx="323.31" cy="74.24" r="3.0" fill="#c0c0c0" stroke="#333" stroke-width="0.65"/><circle cx="324.99" cy="76.02" r="3.0" fill="#c0c0c0" stroke="#333" stroke-width="0.65"/><circle cx="326.67" cy="77.80" r="3.0" fill="#c0c0c0" stroke="#333" stroke-width="0.65"/><circle cx="328.36" cy="79.58" r="3.0" fill="#c0c0c0" stroke="#333" stroke-width="0.65"/><circle cx="330.04" cy="81.37" r="3.0" fill="#c0c0c0" stroke="#333" stroke-width="0.65"/><circle cx="331.70" cy="83.06" r="3.0" fill="#c0c0c0" stroke="#333" stroke-width="0.65"/><circle cx="333.35" cy="84.75" r="3.0" fill="#c0c0c0" stroke="#333" stroke-width="0.65"/><circle cx="335.00" cy="86.44" r="3.0" fill="#c0c0c0" stroke="#333" stroke-width="0.65"/><circle cx="336.66" cy="88.13" r="3.0" fill="#c0c0c0" stroke="#333" stroke-width="0.65"/><circle cx="338.31" cy="89.83" r="3.0" fill="#c0c0c0" stroke="#333" stroke-width="0.65"/><circle cx="339.97" cy="91.52" r="3.0" fill="#c0c0c0" stroke="#333" stroke-width="0.65"/><circle cx="341.65" cy="93.21" r="3.0" fill="#c0c0c0" stroke="#333" stroke-width="0.65"/><circle cx="343.33" cy="94.90" r="3.0" fill="#c0c0c0" stroke="#333" stroke-width="0.65"/><circle cx="345.02" cy="96.59" r="3.0" fill="#c0c0c0" stroke="#333" stroke-width="0.65"/><circle cx="346.70" cy="98.29" r="3.0" fill="#c0c0c0" stroke="#333" stroke-width="0.65"/><circle cx="348.38" cy="99.98" r="3.0" fill="#c0c0c0" stroke="#333" stroke-width="0.65"/><circle cx="350.06" cy="101.67" r="3.0" fill="#c0c0c0" stroke="#333" stroke-width="0.65"/><circle cx="351.83" cy="104.08" r="3.0" fill="#c0c0c0" stroke="#333" stroke-width="0.65"/><circle cx="353.60" cy="106.48" r="3.0" fill="#c0c0c0" stroke="#333" stroke-width="0.65"/><circle cx="355.31" cy="108.16" r="3.0" fill="#c0c0c0" stroke="#333" stroke-width="0.65"/><circle cx="357.02" cy="109.84" r="3.0" fill="#c0c0c0" stroke="#333" stroke-width="0.65"/><circle cx="358.73" cy="111.53" r="3.0" fill="#c0c0c0" stroke="#333" stroke-width="0.65"/><circle cx="360.44" cy="113.21" r="3.0" fill="#c0c0c0" stroke="#333" stroke-width="0.65"/><circle cx="362.15" cy="114.89" r="3.0" fill="#c0c0c0" stroke="#333" stroke-width="0.65"/><circle cx="363.86" cy="116.57" r="3.0" fill="#c0c0c0" stroke="#333" stroke-width="0.65"/><circle cx="365.57" cy="118.26" r="3.0" fill="#c0c0c0" stroke="#333" stroke-width="0.65"/><circle cx="367.28" cy="119.94" r="3.0" fill="#c0c0c0" stroke="#333" stroke-width="0.65"/><circle cx="369.00" cy="121.62" r="3.0" fill="#c0c0c0" stroke="#333" stroke-width="0.65"/><circle cx="370.71" cy="123.30" r="3.0" fill="#c0c0c0" stroke="#333" stroke-width="0.65"/><circle cx="372.42" cy="124.98" r="3.0" fill="#c0c0c0" stroke="#333" stroke-width="0.65"/><circle cx="374.13" cy="126.67" r="3.0" fill="#c0c0c0" stroke="#333" stroke-width="0.65"/><circle cx="375.84" cy="128.35" r="3.0" fill="#c0c0c0" stroke="#333" stroke-width="0.65"/><circle cx="377.55" cy="130.03" r="3.0" fill="#c0c0c0" stroke="#333" stroke-width="0.65"/><circle cx="379.26" cy="131.71" r="3.0" fill="#c0c0c0" stroke="#333" stroke-width="0.65"/><circle cx="380.97" cy="133.40" r="3.0" fill="#c0c0c0" stroke="#333" stroke-width="0.65"/><circle cx="382.68" cy="135.08" r="3.0" fill="#c0c0c0" stroke="#333" stroke-width="0.65"/><circle cx="384.39" cy="136.76" r="3.0" fill="#c0c0c0" stroke="#333" stroke-width="0.65"/>
<line x1="384.39" y1="136.76" x2="385.40" y2="151.90" stroke="#000" stroke-width="1.0"/>
<circle cx="385.40" cy="151.90" r="3.0" fill="#c0c0c0" stroke="#333" stroke-width="0.65"/>
<path d="M352.25 151.90 L353.09 107.19 L354.74 108.76 L356.39 110.33 L358.04 111.89 L359.69 113.46 L361.34 115.03 L362.99 116.60 L364.64 118.16 L366.29 119.73 L367.94 121.30 L369.58 122.87 L371.27 124.20 L372.95 125.54 L374.63 126.87 L376.32 128.21 L378.00 129.55 L379.68 130.88 L381.36 132.22 L383.05 133.55 L384.73 133.85 L386.41 134.15 L388.09 134.44 L389.90 135.60 L391.71 136.76 L393.52 137.92 L395.33 139.08 L397.85 151.90" fill="none" stroke="#000" stroke-width="0.9"/>
<circle cx="352.25" cy="151.90" r="2.85" fill="#ff0000" stroke="#700000" stroke-width="0.6"/><circle cx="353.09" cy="107.19" r="2.85" fill="#ff0000" stroke="#700000" stroke-width="0.6"/><circle cx="354.74" cy="108.76" r="2.85" fill="#ff0000" stroke="#700000" stroke-width="0.6"/><circle cx="356.39" cy="110.33" r="2.85" fill="#ff0000" stroke="#700000" stroke-width="0.6"/><circle cx="358.04" cy="111.89" r="2.85" fill="#ff0000" stroke="#700000" stroke-width="0.6"/><circle cx="359.69" cy="113.46" r="2.85" fill="#ff0000" stroke="#700000" stroke-width="0.6"/><circle cx="361.34" cy="115.03" r="2.85" fill="#ff0000" stroke="#700000" stroke-width="0.6"/><circle cx="362.99" cy="116.60" r="2.85" fill="#ff0000" stroke="#700000" stroke-width="0.6"/><circle cx="364.64" cy="118.16" r="2.85" fill="#ff0000" stroke="#700000" stroke-width="0.6"/><circle cx="366.29" cy="119.73" r="2.85" fill="#ff0000" stroke="#700000" stroke-width="0.6"/><circle cx="367.94" cy="121.30" r="2.85" fill="#ff0000" stroke="#700000" stroke-width="0.6"/><circle cx="369.58" cy="122.87" r="2.85" fill="#ff0000" stroke="#700000" stroke-width="0.6"/><circle cx="371.27" cy="124.20" r="2.85" fill="#ff0000" stroke="#700000" stroke-width="0.6"/><circle cx="372.95" cy="125.54" r="2.85" fill="#ff0000" stroke="#700000" stroke-width="0.6"/><circle cx="374.63" cy="126.87" r="2.85" fill="#ff0000" stroke="#700000" stroke-width="0.6"/><circle cx="376.32" cy="128.21" r="2.85" fill="#ff0000" stroke="#700000" stroke-width="0.6"/><circle cx="378.00" cy="129.55" r="2.85" fill="#ff0000" stroke="#700000" stroke-width="0.6"/><circle cx="379.68" cy="130.88" r="2.85" fill="#ff0000" stroke="#700000" stroke-width="0.6"/><circle cx="381.36" cy="132.22" r="2.85" fill="#ff0000" stroke="#700000" stroke-width="0.6"/><circle cx="383.05" cy="133.55" r="2.85" fill="#ff0000" stroke="#700000" stroke-width="0.6"/><circle cx="384.73" cy="133.85" r="2.85" fill="#ff0000" stroke="#700000" stroke-width="0.6"/><circle cx="386.41" cy="134.15" r="2.85" fill="#ff0000" stroke="#700000" stroke-width="0.6"/><circle cx="388.09" cy="134.44" r="2.85" fill="#ff0000" stroke="#700000" stroke-width="0.6"/><circle cx="389.90" cy="135.60" r="2.85" fill="#ff0000" stroke="#700000" stroke-width="0.6"/><circle cx="391.71" cy="136.76" r="2.85" fill="#ff0000" stroke="#700000" stroke-width="0.6"/><circle cx="393.52" cy="137.92" r="2.85" fill="#ff0000" stroke="#700000" stroke-width="0.6"/><circle cx="395.33" cy="139.08" r="2.85" fill="#ff0000" stroke="#700000" stroke-width="0.6"/><circle cx="397.85" cy="151.90" r="2.85" fill="#ff0000" stroke="#700000" stroke-width="0.6"/>
<path d="M362.18 151.90 L363.53 121.09 L365.31 122.49 L367.08 123.88 L368.86 125.28 L370.64 126.68 L372.42 128.08 L374.20 129.48 L375.98 130.88 L377.52 132.31 L379.06 133.73 L380.61 135.16 L382.15 136.58 L383.69 138.01 L385.23 139.43 L387.00 140.38 L388.77 141.33 L390.53 142.28 L392.30 143.23 L394.07 144.18 L395.84 145.13 L397.56 145.04 L399.28 144.95 L401.01 144.86 L402.73 144.78 L404.42 145.92 L406.10 147.06 L407.78 148.20 L409.47 149.34 L411.15 150.48" fill="none" stroke="#000" stroke-width="0.9"/>
<path d="M362.18 153.20V156.70M360.88 155.30H363.48" stroke="#555" stroke-width="0.6" fill="none"/><circle cx="362.18" cy="151.90" r="1.45" fill="#ff00ff" stroke="#800080" stroke-width="0.7"/><path d="M363.53 122.39V125.89M362.23 124.49H364.83" stroke="#555" stroke-width="0.6" fill="none"/><circle cx="363.53" cy="121.09" r="1.45" fill="#ff00ff" stroke="#800080" stroke-width="0.7"/><path d="M365.31 123.79V127.29M364.01 125.89H366.61" stroke="#555" stroke-width="0.6" fill="none"/><circle cx="365.31" cy="122.49" r="1.45" fill="#ff00ff" stroke="#800080" stroke-width="0.7"/><path d="M367.08 125.18V128.68M365.78 127.28H368.38" stroke="#555" stroke-width="0.6" fill="none"/><circle cx="367.08" cy="123.88" r="1.45" fill="#ff00ff" stroke="#800080" stroke-width="0.7"/><path d="M368.86 126.58V130.08M367.56 128.68H370.16" stroke="#555" stroke-width="0.6" fill="none"/><circle cx="368.86" cy="125.28" r="1.45" fill="#ff00ff" stroke="#800080" stroke-width="0.7"/><path d="M370.64 127.98V131.48M369.34 130.08H371.94" stroke="#555" stroke-width="0.6" fill="none"/><circle cx="370.64" cy="126.68" r="1.45" fill="#ff00ff" stroke="#800080" stroke-width="0.7"/><path d="M372.42 129.38V132.88M371.12 131.48H373.72" stroke="#555" stroke-width="0.6" fill="none"/><circle cx="372.42" cy="128.08" r="1.45" fill="#ff00ff" stroke="#800080" stroke-width="0.7"/><path d="M374.20 130.78V134.28M372.90 132.88H375.50" stroke="#555" stroke-width="0.6" fill="none"/><circle cx="374.20" cy="129.48" r="1.45" fill="#ff00ff" stroke="#800080" stroke-width="0.7"/><path d="M375.98 132.18V135.68M374.68 134.28H377.28" stroke="#555" stroke-width="0.6" fill="none"/><circle cx="375.98" cy="130.88" r="1.45" fill="#ff00ff" stroke="#800080" stroke-width="0.7"/><path d="M377.52 133.61V137.11M376.22 135.71H378.82" stroke="#555" stroke-width="0.6" fill="none"/><circle cx="377.52" cy="132.31" r="1.45" fill="#ff00ff" stroke="#800080" stroke-width="0.7"/><path d="M379.06 135.03V138.53M377.76 137.13H380.36" stroke="#555" stroke-width="0.6" fill="none"/><circle cx="379.06" cy="133.73" r="1.45" fill="#ff00ff" stroke="#800080" stroke-width="0.7"/><path d="M380.61 136.46V139.96M379.31 138.56H381.91" stroke="#555" stroke-width="0.6" fill="none"/><circle cx="380.61" cy="135.16" r="1.45" fill="#ff00ff" stroke="#800080" stroke-width="0.7"/><path d="M382.15 137.88V141.38M380.85 139.98H383.45" stroke="#555" stroke-width="0.6" fill="none"/><circle cx="382.15" cy="136.58" r="1.45" fill="#ff00ff" stroke="#800080" stroke-width="0.7"/><path d="M383.69 139.31V142.81M382.39 141.41H384.99" stroke="#555" stroke-width="0.6" fill="none"/><circle cx="383.69" cy="138.01" r="1.45" fill="#ff00ff" stroke="#800080" stroke-width="0.7"/><path d="M385.23 140.73V144.23M383.93 142.83H386.53" stroke="#555" stroke-width="0.6" fill="none"/><circle cx="385.23" cy="139.43" r="1.45" fill="#ff00ff" stroke="#800080" stroke-width="0.7"/><path d="M387.00 141.68V145.18M385.70 143.78H388.30" stroke="#555" stroke-width="0.6" fill="none"/><circle cx="387.00" cy="140.38" r="1.45" fill="#ff00ff" stroke="#800080" stroke-width="0.7"/><path d="M388.77 142.63V146.13M387.47 144.73H390.07" stroke="#555" stroke-width="0.6" fill="none"/><circle cx="388.77" cy="141.33" r="1.45" fill="#ff00ff" stroke="#800080" stroke-width="0.7"/><path d="M390.53 143.58V147.08M389.23 145.68H391.83" stroke="#555" stroke-width="0.6" fill="none"/><circle cx="390.53" cy="142.28" r="1.45" fill="#ff00ff" stroke="#800080" stroke-width="0.7"/><path d="M392.30 144.53V148.03M391.00 146.63H393.60" stroke="#555" stroke-width="0.6" fill="none"/><circle cx="392.30" cy="143.23" r="1.45" fill="#ff00ff" stroke="#800080" stroke-width="0.7"/><path d="M394.07 145.48V148.98M392.77 147.58H395.37" stroke="#555" stroke-width="0.6" fill="none"/><circle cx="394.07" cy="144.18" r="1.45" fill="#ff00ff" stroke="#800080" stroke-width="0.7"/><path d="M395.84 146.43V149.93M394.54 148.53H397.14" stroke="#555" stroke-width="0.6" fill="none"/><circle cx="395.84" cy="145.13" r="1.45" fill="#ff00ff" stroke="#800080" stroke-width="0.7"/><path d="M397.56 146.34V149.84M396.26 148.44H398.86" stroke="#555" stroke-width="0.6" fill="none"/><circle cx="397.56" cy="145.04" r="1.45" fill="#ff00ff" stroke="#800080" stroke-width="0.7"/><path d="M399.28 146.25V149.75M397.98 148.35H400.58" stroke="#555" stroke-width="0.6" fill="none"/><circle cx="399.28" cy="144.95" r="1.45" fill="#ff00ff" stroke="#800080" stroke-width="0.7"/><path d="M401.01 146.16V149.66M399.71 148.26H402.31" stroke="#555" stroke-width="0.6" fill="none"/><circle cx="401.01" cy="144.86" r="1.45" fill="#ff00ff" stroke="#800080" stroke-width="0.7"/><path d="M402.73 146.08V149.58M401.43 148.18H404.03" stroke="#555" stroke-width="0.6" fill="none"/><circle cx="402.73" cy="144.78" r="1.45" fill="#ff00ff" stroke="#800080" stroke-width="0.7"/><path d="M404.42 147.22V150.72M403.12 149.32H405.72" stroke="#555" stroke-width="0.6" fill="none"/><circle cx="404.42" cy="145.92" r="1.45" fill="#ff00ff" stroke="#800080" stroke-width="0.7"/><path d="M406.10 148.36V151.86M404.80 150.46H407.40" stroke="#555" stroke-width="0.6" fill="none"/><circle cx="406.10" cy="147.06" r="1.45" fill="#ff00ff" stroke="#800080" stroke-width="0.7"/><path d="M407.78 149.50V153.00M406.48 151.60H409.08" stroke="#555" stroke-width="0.6" fill="none"/><circle cx="407.78" cy="148.20" r="1.45" fill="#ff00ff" stroke="#800080" stroke-width="0.7"/><path d="M409.47 150.64V154.14M408.17 152.74H410.77" stroke="#555" stroke-width="0.6" fill="none"/><circle cx="409.47" cy="149.34" r="1.45" fill="#ff00ff" stroke="#800080" stroke-width="0.7"/><path d="M411.15 151.78V155.28M409.85 153.88H412.45" stroke="#555" stroke-width="0.6" fill="none"/><circle cx="411.15" cy="150.48" r="1.45" fill="#ff00ff" stroke="#800080" stroke-width="0.7"/>
<path d="M360.33 151.90 L362.01 151.90 L363.69 151.90 L365.38 151.90 L367.06 151.90 L368.74 151.90 L370.43 151.90 L371.44 121.09 L373.05 122.49 L374.66 123.88 L376.27 125.28 L377.88 126.68 L379.49 128.08 L381.10 129.48 L382.71 130.88 L384.42 132.43 L386.13 133.97 L387.84 135.51 L389.55 137.06 L391.26 138.60 L392.97 140.14 L394.57 142.10 L396.17 144.06 L397.89 143.35 L399.60 142.64 L401.32 141.93 L403.04 141.21 L404.75 140.50 L406.32 141.51 L407.89 142.52 L409.47 143.53 L411.04 144.54 L412.61 145.55 L414.18 146.56 L416.53 144.06 L418.18 145.63 L419.83 147.20 L421.48 148.77 L423.13 150.33 L424.78 151.90" fill="none" stroke="#000" stroke-width="0.9"/>
<path d="M361.33 150.90L363.73 148.50" stroke="#333" stroke-width="0.55" fill="none"/><path d="M364.63 147.60L362.63 148.00L364.23 149.60Z" fill="#000"/><circle cx="360.33" cy="151.90" r="1.55" fill="#0000ff" stroke="#000060" stroke-width="0.7"/><path d="M363.01 150.90L365.41 148.50" stroke="#333" stroke-width="0.55" fill="none"/><path d="M366.31 147.60L364.31 148.00L365.91 149.60Z" fill="#000"/><circle cx="362.01" cy="151.90" r="1.55" fill="#0000ff" stroke="#000060" stroke-width="0.7"/><path d="M364.69 150.90L367.09 148.50" stroke="#333" stroke-width="0.55" fill="none"/><path d="M368.00 147.60L366.00 148.00L367.59 149.60Z" fill="#000"/><circle cx="363.69" cy="151.90" r="1.55" fill="#0000ff" stroke="#000060" stroke-width="0.7"/><path d="M366.38 150.90L368.78 148.50" stroke="#333" stroke-width="0.55" fill="none"/><path d="M369.68 147.60L367.68 148.00L369.28 149.60Z" fill="#000"/><circle cx="365.38" cy="151.90" r="1.55" fill="#0000ff" stroke="#000060" stroke-width="0.7"/><path d="M368.06 150.90L370.46 148.50" stroke="#333" stroke-width="0.55" fill="none"/><path d="M371.36 147.60L369.36 148.00L370.96 149.60Z" fill="#000"/><circle cx="367.06" cy="151.90" r="1.55" fill="#0000ff" stroke="#000060" stroke-width="0.7"/><path d="M369.74 150.90L372.14 148.50" stroke="#333" stroke-width="0.55" fill="none"/><path d="M373.04 147.60L371.04 148.00L372.64 149.60Z" fill="#000"/><circle cx="368.74" cy="151.90" r="1.55" fill="#0000ff" stroke="#000060" stroke-width="0.7"/><path d="M371.43 150.90L373.83 148.50" stroke="#333" stroke-width="0.55" fill="none"/><path d="M374.73 147.60L372.73 148.00L374.33 149.60Z" fill="#000"/><circle cx="370.43" cy="151.90" r="1.55" fill="#0000ff" stroke="#000060" stroke-width="0.7"/><path d="M372.44 120.09L374.84 117.69" stroke="#333" stroke-width="0.55" fill="none"/><path d="M375.74 116.79L373.74 117.19L375.34 118.79Z" fill="#000"/><circle cx="371.44" cy="121.09" r="1.55" fill="#0000ff" stroke="#000060" stroke-width="0.7"/><path d="M374.05 121.49L376.45 119.09" stroke="#333" stroke-width="0.55" fill="none"/><path d="M377.35 118.19L375.35 118.59L376.95 120.19Z" fill="#000"/><circle cx="373.05" cy="122.49" r="1.55" fill="#0000ff" stroke="#000060" stroke-width="0.7"/><path d="M375.66 122.88L378.06 120.48" stroke="#333" stroke-width="0.55" fill="none"/><path d="M378.96 119.58L376.96 119.98L378.56 121.58Z" fill="#000"/><circle cx="374.66" cy="123.88" r="1.55" fill="#0000ff" stroke="#000060" stroke-width="0.7"/><path d="M377.27 124.28L379.67 121.88" stroke="#333" stroke-width="0.55" fill="none"/><path d="M380.57 120.98L378.57 121.38L380.17 122.98Z" fill="#000"/><circle cx="376.27" cy="125.28" r="1.55" fill="#0000ff" stroke="#000060" stroke-width="0.7"/><path d="M378.88 125.68L381.28 123.28" stroke="#333" stroke-width="0.55" fill="none"/><path d="M382.18 122.38L380.18 122.78L381.78 124.38Z" fill="#000"/><circle cx="377.88" cy="126.68" r="1.55" fill="#0000ff" stroke="#000060" stroke-width="0.7"/><path d="M380.49 127.08L382.89 124.68" stroke="#333" stroke-width="0.55" fill="none"/><path d="M383.79 123.78L381.79 124.18L383.39 125.78Z" fill="#000"/><circle cx="379.49" cy="128.08" r="1.55" fill="#0000ff" stroke="#000060" stroke-width="0.7"/><path d="M382.10 128.48L384.50 126.08" stroke="#333" stroke-width="0.55" fill="none"/><path d="M385.40 125.18L383.40 125.58L385.00 127.18Z" fill="#000"/><circle cx="381.10" cy="129.48" r="1.55" fill="#0000ff" stroke="#000060" stroke-width="0.7"/><path d="M383.71 129.88L386.11 127.48" stroke="#333" stroke-width="0.55" fill="none"/><path d="M387.01 126.58L385.01 126.98L386.61 128.58Z" fill="#000"/><circle cx="382.71" cy="130.88" r="1.55" fill="#0000ff" stroke="#000060" stroke-width="0.7"/><path d="M385.42 131.43L387.82 129.03" stroke="#333" stroke-width="0.55" fill="none"/><path d="M388.72 128.13L386.72 128.53L388.32 130.13Z" fill="#000"/><circle cx="384.42" cy="132.43" r="1.55" fill="#0000ff" stroke="#000060" stroke-width="0.7"/><path d="M387.13 132.97L389.53 130.57" stroke="#333" stroke-width="0.55" fill="none"/><path d="M390.43 129.67L388.43 130.07L390.03 131.67Z" fill="#000"/><circle cx="386.13" cy="133.97" r="1.55" fill="#0000ff" stroke="#000060" stroke-width="0.7"/><path d="M388.84 134.51L391.24 132.11" stroke="#333" stroke-width="0.55" fill="none"/><path d="M392.14 131.21L390.14 131.61L391.74 133.21Z" fill="#000"/><circle cx="387.84" cy="135.51" r="1.55" fill="#0000ff" stroke="#000060" stroke-width="0.7"/><path d="M390.55 136.06L392.95 133.66" stroke="#333" stroke-width="0.55" fill="none"/><path d="M393.85 132.76L391.85 133.16L393.45 134.76Z" fill="#000"/><circle cx="389.55" cy="137.06" r="1.55" fill="#0000ff" stroke="#000060" stroke-width="0.7"/><path d="M392.26 137.60L394.66 135.20" stroke="#333" stroke-width="0.55" fill="none"/><path d="M395.56 134.30L393.56 134.70L395.16 136.30Z" fill="#000"/><circle cx="391.26" cy="138.60" r="1.55" fill="#0000ff" stroke="#000060" stroke-width="0.7"/><path d="M393.97 139.14L396.37 136.74" stroke="#333" stroke-width="0.55" fill="none"/><path d="M397.27 135.84L395.27 136.24L396.87 137.84Z" fill="#000"/><circle cx="392.97" cy="140.14" r="1.55" fill="#0000ff" stroke="#000060" stroke-width="0.7"/><path d="M395.57 141.10L397.97 138.70" stroke="#333" stroke-width="0.55" fill="none"/><path d="M398.87 137.80L396.87 138.20L398.47 139.80Z" fill="#000"/><circle cx="394.57" cy="142.10" r="1.55" fill="#0000ff" stroke="#000060" stroke-width="0.7"/><path d="M397.17 143.06L399.57 140.66" stroke="#333" stroke-width="0.55" fill="none"/><path d="M400.47 139.76L398.47 140.16L400.07 141.76Z" fill="#000"/><circle cx="396.17" cy="144.06" r="1.55" fill="#0000ff" stroke="#000060" stroke-width="0.7"/><path d="M398.89 142.35L401.29 139.95" stroke="#333" stroke-width="0.55" fill="none"/><path d="M402.19 139.05L400.19 139.45L401.79 141.05Z" fill="#000"/><circle cx="397.89" cy="143.35" r="1.55" fill="#0000ff" stroke="#000060" stroke-width="0.7"/><path d="M400.60 141.64L403.00 139.24" stroke="#333" stroke-width="0.55" fill="none"/><path d="M403.90 138.34L401.90 138.74L403.50 140.34Z" fill="#000"/><circle cx="399.60" cy="142.64" r="1.55" fill="#0000ff" stroke="#000060" stroke-width="0.7"/><path d="M402.32 140.93L404.72 138.53" stroke="#333" stroke-width="0.55" fill="none"/><path d="M405.62 137.63L403.62 138.03L405.22 139.63Z" fill="#000"/><circle cx="401.32" cy="141.93" r="1.55" fill="#0000ff" stroke="#000060" stroke-width="0.7"/><path d="M404.04 140.21L406.44 137.81" stroke="#333" stroke-width="0.55" fill="none"/><path d="M407.34 136.91L405.34 137.31L406.94 138.91Z" fill="#000"/><circle cx="403.04" cy="141.21" r="1.55" fill="#0000ff" stroke="#000060" stroke-width="0.7"/><path d="M405.75 139.50L408.15 137.10" stroke="#333" stroke-width="0.55" fill="none"/><path d="M409.05 136.20L407.05 136.60L408.65 138.20Z" fill="#000"/><circle cx="404.75" cy="140.50" r="1.55" fill="#0000ff" stroke="#000060" stroke-width="0.7"/><path d="M407.32 140.51L409.72 138.11" stroke="#333" stroke-width="0.55" fill="none"/><path d="M410.62 137.21L408.62 137.61L410.22 139.21Z" fill="#000"/><circle cx="406.32" cy="141.51" r="1.55" fill="#0000ff" stroke="#000060" stroke-width="0.7"/><path d="M408.89 141.52L411.29 139.12" stroke="#333" stroke-width="0.55" fill="none"/><path d="M412.19 138.22L410.19 138.62L411.79 140.22Z" fill="#000"/><circle cx="407.89" cy="142.52" r="1.55" fill="#0000ff" stroke="#000060" stroke-width="0.7"/><path d="M410.47 142.53L412.87 140.13" stroke="#333" stroke-width="0.55" fill="none"/><path d="M413.77 139.23L411.77 139.63L413.37 141.23Z" fill="#000"/><circle cx="409.47" cy="143.53" r="1.55" fill="#0000ff" stroke="#000060" stroke-width="0.7"/><path d="M412.04 143.54L414.44 141.14" stroke="#333" stroke-width="0.55" fill="none"/><path d="M415.34 140.24L413.34 140.64L414.94 142.24Z" fill="#000"/><circle cx="411.04" cy="144.54" r="1.55" fill="#0000ff" stroke="#000060" stroke-width="0.7"/><path d="M413.61 144.55L416.01 142.15" stroke="#333" stroke-width="0.55" fill="none"/><path d="M416.91 141.25L414.91 141.65L416.51 143.25Z" fill="#000"/><circle cx="412.61" cy="145.55" r="1.55" fill="#0000ff" stroke="#000060" stroke-width="0.7"/><path d="M415.18 145.56L417.58 143.16" stroke="#333" stroke-width="0.55" fill="none"/><path d="M418.48 142.26L416.48 142.66L418.08 144.26Z" fill="#000"/><circle cx="414.18" cy="146.56" r="1.55" fill="#0000ff" stroke="#000060" stroke-width="0.7"/><path d="M417.53 143.06L419.93 140.66" stroke="#333" stroke-width="0.55" fill="none"/><path d="M420.83 139.76L418.83 140.16L420.43 141.76Z" fill="#000"/><circle cx="416.53" cy="144.06" r="1.55" fill="#0000ff" stroke="#000060" stroke-width="0.7"/><path d="M419.18 144.63L421.58 142.23" stroke="#333" stroke-width="0.55" fill="none"/><path d="M422.48 141.33L420.48 141.73L422.08 143.33Z" fill="#000"/><circle cx="418.18" cy="145.63" r="1.55" fill="#0000ff" stroke="#000060" stroke-width="0.7"/><path d="M420.83 146.20L423.23 143.80" stroke="#333" stroke-width="0.55" fill="none"/><path d="M424.13 142.90L422.13 143.30L423.73 144.90Z" fill="#000"/><circle cx="419.83" cy="147.20" r="1.55" fill="#0000ff" stroke="#000060" stroke-width="0.7"/><path d="M422.48 147.77L424.88 145.37" stroke="#333" stroke-width="0.55" fill="none"/><path d="M425.78 144.47L423.78 144.87L425.38 146.47Z" fill="#000"/><circle cx="421.48" cy="148.77" r="1.55" fill="#0000ff" stroke="#000060" stroke-width="0.7"/><path d="M424.13 149.33L426.53 146.93" stroke="#333" stroke-width="0.55" fill="none"/><path d="M427.43 146.03L425.43 146.43L427.03 148.03Z" fill="#000"/><circle cx="423.13" cy="150.33" r="1.55" fill="#0000ff" stroke="#000060" stroke-width="0.7"/><path d="M425.78 150.90L428.18 148.50" stroke="#333" stroke-width="0.55" fill="none"/><path d="M429.08 147.60L427.08 148.00L428.68 149.60Z" fill="#000"/><circle cx="424.78" cy="151.90" r="1.55" fill="#0000ff" stroke="#000060" stroke-width="0.7"/>
<path d="M499.00 48.62 L500.69 50.40 L502.37 52.18 L504.06 54.13 L506.08 56.62 L506.75 63.01 L508.61 74.74" fill="none" stroke="#000" stroke-width="1.2"/>
<circle cx="499.00" cy="48.62" r="3" fill="#000"/><circle cx="500.69" cy="50.40" r="3" fill="#000"/><circle cx="502.37" cy="52.18" r="3" fill="#000"/><circle cx="504.06" cy="54.13" r="3" fill="#000"/><circle cx="506.08" cy="56.62" r="3" fill="#000"/><circle cx="506.75" cy="63.01" r="3" fill="#000"/><circle cx="508.61" cy="74.74" r="3" fill="#000"/>
<line x1="507.70" y1="62.00" x2="504.90" y2="154.50" stroke="#000" stroke-width="1.0"/>
<line x1="510.70" y1="45.00" x2="514.17" y2="154.50" stroke="#000" stroke-width="1.0"/>
<line x1="512.50" y1="45.00" x2="514.17" y2="154.50" stroke="#000" stroke-width="1.0"/>
<circle cx="504.90" cy="154.50" r="3.0" fill="#c0c0c0" stroke="#333" stroke-width="0.65"/>
<circle cx="514.17" cy="154.50" r="3" fill="#000"/>
<path d="M505.57 38.67 L507.18 40.06 L508.79 41.44 L510.40 42.82 L512.02 44.20 L513.63 45.58 L515.24 46.96 L516.85 48.35 L518.46 49.73 L520.07 51.11 L521.89 52.83 L523.72 54.54 L525.55 56.26 L527.37 57.98 L529.20 59.70 L531.02 61.41 L532.71 60.35 L534.52 62.12 L536.33 63.90 L538.14 65.68 L539.96 67.45 L541.64 69.02 L543.33 70.59 L545.01 72.16 L546.70 73.73 L548.38 75.30 L550.07 76.87 L551.65 78.47 L553.24 80.07 L554.82 81.66 L556.41 83.26 L557.99 84.86 L559.68 83.97 L561.39 85.66 L563.10 87.35 L564.82 89.04 L566.53 90.72 L568.24 92.41 L569.96 94.10 L571.64 95.85 L573.33 97.59 L575.01 99.34 L576.70 101.09 L578.38 102.83 L580.07 104.58 L581.59 106.89 L583.10 109.20 L584.74 110.68 L586.38 112.16 L588.02 113.64 L589.66 115.12 L591.30 116.60 L592.94 118.08 L594.57 119.56 L596.21 121.04 L597.85 122.52 L599.49 124.00 L601.13 125.48 L602.77 126.96 L604.41 128.45 L606.05 129.93 L607.68 131.41 L609.32 132.89 L610.96 134.37 L612.60 135.85" fill="none" stroke="#000" stroke-width="0.9"/>
<circle cx="505.57" cy="38.67" r="3.0" fill="#c0c0c0" stroke="#333" stroke-width="0.65"/><circle cx="507.18" cy="40.06" r="3.0" fill="#c0c0c0" stroke="#333" stroke-width="0.65"/><circle cx="508.79" cy="41.44" r="3.0" fill="#c0c0c0" stroke="#333" stroke-width="0.65"/><circle cx="510.40" cy="42.82" r="3.0" fill="#c0c0c0" stroke="#333" stroke-width="0.65"/><circle cx="512.02" cy="44.20" r="3.0" fill="#c0c0c0" stroke="#333" stroke-width="0.65"/><circle cx="513.63" cy="45.58" r="3.0" fill="#c0c0c0" stroke="#333" stroke-width="0.65"/><circle cx="515.24" cy="46.96" r="3.0" fill="#c0c0c0" stroke="#333" stroke-width="0.65"/><circle cx="516.85" cy="48.35" r="3.0" fill="#c0c0c0" stroke="#333" stroke-width="0.65"/><circle cx="518.46" cy="49.73" r="3.0" fill="#c0c0c0" stroke="#333" stroke-width="0.65"/><circle cx="520.07" cy="51.11" r="3.0" fill="#c0c0c0" stroke="#333" stroke-width="0.65"/><circle cx="521.89" cy="52.83" r="3.0" fill="#c0c0c0" stroke="#333" stroke-width="0.65"/><circle cx="523.72" cy="54.54" r="3.0" fill="#c0c0c0" stroke="#333" stroke-width="0.65"/><circle cx="525.55" cy="56.26" r="3.0" fill="#c0c0c0" stroke="#333" stroke-width="0.65"/><circle cx="527.37" cy="57.98" r="3.0" fill="#c0c0c0" stroke="#333" stroke-width="0.65"/><circle cx="529.20" cy="59.70" r="3.0" fill="#c0c0c0" stroke="#333" stroke-width="0.65"/><circle cx="531.02" cy="61.41" r="3.0" fill="#c0c0c0" stroke="#333" stroke-width="0.65"/><circle cx="532.71" cy="60.35" r="3.0" fill="#c0c0c0" stroke="#333" stroke-width="0.65"/><circle cx="534.52" cy="62.12" r="3.0" fill="#c0c0c0" stroke="#333" stroke-width="0.65"/><circle cx="536.33" cy="63.90" r="3.0" fill="#c0c0c0" stroke="#333" stroke-width="0.65"/><circle cx="538.14" cy="65.68" r="3.0" fill="#c0c0c0" stroke="#333" stroke-width="0.65"/><circle cx="539.96" cy="67.45" r="3.0" fill="#c0c0c0" stroke="#333" stroke-width="0.65"/><circle cx="541.64" cy="69.02" r="3.0" fill="#c0c0c0" stroke="#333" stroke-width="0.65"/><circle cx="543.33" cy="70.59" r="3.0" fill="#c0c0c0" stroke="#333" stroke-width="0.65"/><circle cx="545.01" cy="72.16" r="3.0" fill="#c0c0c0" stroke="#333" stroke-width="0.65"/><circle cx="546.70" cy="73.73" r="3.0" fill="#c0c0c0" stroke="#333" stroke-width="0.65"/><circle cx="548.38" cy="75.30" r="3.0" fill="#c0c0c0" stroke="#333" stroke-width="0.65"/><circle cx="550.07" cy="76.87" r="3.0" fill="#c0c0c0" stroke="#333" stroke-width="0.65"/><circle cx="551.65" cy="78.47" r="3.0" fill="#c0c0c0" stroke="#333" stroke-width="0.65"/><circle cx="553.24" cy="80.07" r="3.0" fill="#c0c0c0" stroke="#333" stroke-width="0.65"/><circle cx="554.82" cy="81.66" r="3.0" fill="#c0c0c0" stroke="#333" stroke-width="0.65"/><circle cx="556.41" cy="83.26" r="3.0" fill="#c0c0c0" stroke="#333" stroke-width="0.65"/><circle cx="557.99" cy="84.86" r="3.0" fill="#c0c0c0" stroke="#333" stroke-width="0.65"/><circle cx="559.68" cy="83.97" r="3.0" fill="#c0c0c0" stroke="#333" stroke-width="0.65"/><circle cx="561.39" cy="85.66" r="3.0" fill="#c0c0c0" stroke="#333" stroke-width="0.65"/><circle cx="563.10" cy="87.35" r="3.0" fill="#c0c0c0" stroke="#333" stroke-width="0.65"/><circle cx="564.82" cy="89.04" r="3.0" fill="#c0c0c0" stroke="#333" stroke-width="0.65"/><circle cx="566.53" cy="90.72" r="3.0" fill="#c0c0c0" stroke="#333" stroke-width="0.65"/><circle cx="568.24" cy="92.41" r="3.0" fill="#c0c0c0" stroke="#333" stroke-width="0.65"/><circle cx="569.96" cy="94.10" r="3.0" fill="#c0c0c0" stroke="#333" stroke-width="0.65"/><circle cx="571.64" cy="95.85" r="3.0" fill="#c0c0c0" stroke="#333" stroke-width="0.65"/><circle cx="573.33" cy="97.59" r="3.0" fill="#c0c0c0" stroke="#333" stroke-width="0.65"/><circle cx="575.01" cy="99.34" r="3.0" fill="#c0c0c0" stroke="#333" stroke-width="0.65"/><circle cx="576.70" cy="101.09" r="3.0" fill="#c0c0c0" stroke="#333" stroke-width="0.65"/><circle cx="578.38" cy="102.83" r="3.0" fill="#c0c0c0" stroke="#333" stroke-width="0.65"/><circle cx="580.07" cy="104.58" r="3.0" fill="#c0c0c0" stroke="#333" stroke-width="0.65"/><circle cx="581.59" cy="106.89" r="3.0" fill="#c0c0c0" stroke="#333" stroke-width="0.65"/><circle cx="583.10" cy="109.20" r="3.0" fill="#c0c0c0" stroke="#333" stroke-width="0.65"/><circle cx="584.74" cy="110.68" r="3.0" fill="#c0c0c0" stroke="#333" stroke-width="0.65"/><circle cx="586.38" cy="112.16" r="3.0" fill="#c0c0c0" stroke="#333" stroke-width="0.65"/><circle cx="588.02" cy="113.64" r="3.0" fill="#c0c0c0" stroke="#333" stroke-width="0.65"/><circle cx="589.66" cy="115.12" r="3.0" fill="#c0c0c0" stroke="#333" stroke-width="0.65"/><circle cx="591.30" cy="116.60" r="3.0" fill="#c0c0c0" stroke="#333" stroke-width="0.65"/><circle cx="592.94" cy="118.08" r="3.0" fill="#c0c0c0" stroke="#333" stroke-width="0.65"/><circle cx="594.57" cy="119.56" r="3.0" fill="#c0c0c0" stroke="#333" stroke-width="0.65"/><circle cx="596.21" cy="121.04" r="3.0" fill="#c0c0c0" stroke="#333" stroke-width="0.65"/><circle cx="597.85" cy="122.52" r="3.0" fill="#c0c0c0" stroke="#333" stroke-width="0.65"/><circle cx="599.49" cy="124.00" r="3.0" fill="#c0c0c0" stroke="#333" stroke-width="0.65"/><circle cx="601.13" cy="125.48" r="3.0" fill="#c0c0c0" stroke="#333" stroke-width="0.65"/><circle cx="602.77" cy="126.96" r="3.0" fill="#c0c0c0" stroke="#333" stroke-width="0.65"/><circle cx="604.41" cy="128.45" r="3.0" fill="#c0c0c0" stroke="#333" stroke-width="0.65"/><circle cx="606.05" cy="129.93" r="3.0" fill="#c0c0c0" stroke="#333" stroke-width="0.65"/><circle cx="607.68" cy="131.41" r="3.0" fill="#c0c0c0" stroke="#333" stroke-width="0.65"/><circle cx="609.32" cy="132.89" r="3.0" fill="#c0c0c0" stroke="#333" stroke-width="0.65"/><circle cx="610.96" cy="134.37" r="3.0" fill="#c0c0c0" stroke="#333" stroke-width="0.65"/><circle cx="612.60" cy="135.85" r="3.0" fill="#c0c0c0" stroke="#333" stroke-width="0.65"/>
<line x1="612.60" y1="135.85" x2="613.61" y2="154.50" stroke="#000" stroke-width="1.0"/>
<circle cx="613.61" cy="154.50" r="3.0" fill="#c0c0c0" stroke="#333" stroke-width="0.65"/>
<path d="M581.25 154.50 L582.26 110.98 L584.06 112.72 L585.86 114.47 L587.65 116.22 L589.45 117.96 L591.25 119.71 L593.05 121.46 L594.69 123.19 L596.34 124.92 L597.98 126.65 L599.62 128.39 L601.26 130.12 L602.91 131.85 L604.55 133.58 L606.19 135.31 L607.99 135.73 L609.79 136.14 L611.59 136.56 L613.39 136.97 L615.18 137.39 L616.98 137.80 L618.54 138.20 L620.10 138.60 L621.66 139.00 L623.22 139.40 L625.24 154.50" fill="none" stroke="#000" stroke-width="0.9"/>
<circle cx="581.25" cy="154.50" r="2.85" fill="#ff0000" stroke="#700000" stroke-width="0.6"/><circle cx="582.26" cy="110.98" r="2.85" fill="#ff0000" stroke="#700000" stroke-width="0.6"/><circle cx="584.06" cy="112.72" r="2.85" fill="#ff0000" stroke="#700000" stroke-width="0.6"/><circle cx="585.86" cy="114.47" r="2.85" fill="#ff0000" stroke="#700000" stroke-width="0.6"/><circle cx="587.65" cy="116.22" r="2.85" fill="#ff0000" stroke="#700000" stroke-width="0.6"/><circle cx="589.45" cy="117.96" r="2.85" fill="#ff0000" stroke="#700000" stroke-width="0.6"/><circle cx="591.25" cy="119.71" r="2.85" fill="#ff0000" stroke="#700000" stroke-width="0.6"/><circle cx="593.05" cy="121.46" r="2.85" fill="#ff0000" stroke="#700000" stroke-width="0.6"/><circle cx="594.69" cy="123.19" r="2.85" fill="#ff0000" stroke="#700000" stroke-width="0.6"/><circle cx="596.34" cy="124.92" r="2.85" fill="#ff0000" stroke="#700000" stroke-width="0.6"/><circle cx="597.98" cy="126.65" r="2.85" fill="#ff0000" stroke="#700000" stroke-width="0.6"/><circle cx="599.62" cy="128.39" r="2.85" fill="#ff0000" stroke="#700000" stroke-width="0.6"/><circle cx="601.26" cy="130.12" r="2.85" fill="#ff0000" stroke="#700000" stroke-width="0.6"/><circle cx="602.91" cy="131.85" r="2.85" fill="#ff0000" stroke="#700000" stroke-width="0.6"/><circle cx="604.55" cy="133.58" r="2.85" fill="#ff0000" stroke="#700000" stroke-width="0.6"/><circle cx="606.19" cy="135.31" r="2.85" fill="#ff0000" stroke="#700000" stroke-width="0.6"/><circle cx="607.99" cy="135.73" r="2.85" fill="#ff0000" stroke="#700000" stroke-width="0.6"/><circle cx="609.79" cy="136.14" r="2.85" fill="#ff0000" stroke="#700000" stroke-width="0.6"/><circle cx="611.59" cy="136.56" r="2.85" fill="#ff0000" stroke="#700000" stroke-width="0.6"/><circle cx="613.39" cy="136.97" r="2.85" fill="#ff0000" stroke="#700000" stroke-width="0.6"/><circle cx="615.18" cy="137.39" r="2.85" fill="#ff0000" stroke="#700000" stroke-width="0.6"/><circle cx="616.98" cy="137.80" r="2.85" fill="#ff0000" stroke="#700000" stroke-width="0.6"/><circle cx="618.54" cy="138.20" r="2.85" fill="#ff0000" stroke="#700000" stroke-width="0.6"/><circle cx="620.10" cy="138.60" r="2.85" fill="#ff0000" stroke="#700000" stroke-width="0.6"/><circle cx="621.66" cy="139.00" r="2.85" fill="#ff0000" stroke="#700000" stroke-width="0.6"/><circle cx="623.22" cy="139.40" r="2.85" fill="#ff0000" stroke="#700000" stroke-width="0.6"/><circle cx="625.24" cy="154.50" r="2.85" fill="#ff0000" stroke="#700000" stroke-width="0.6"/>
<path d="M592.37 154.50 L594.23 127.68 L595.94 129.35 L597.65 131.03 L599.36 132.70 L601.07 134.38 L602.78 136.05 L604.49 137.73 L606.19 139.40 L607.94 140.05 L609.68 140.70 L611.42 141.35 L613.16 142.01 L614.90 142.66 L616.64 143.31 L618.39 143.96 L620.13 144.61 L621.87 145.26 L623.57 145.99 L625.27 146.72 L626.98 147.45 L628.68 148.18 L630.38 148.90 L632.08 149.63 L633.79 150.36 L635.49 151.09 L637.19 151.82 L638.89 152.55" fill="none" stroke="#000" stroke-width="0.9"/>
<path d="M592.37 155.80V159.30M591.07 157.90H593.67" stroke="#555" stroke-width="0.6" fill="none"/><circle cx="592.37" cy="154.50" r="1.45" fill="#ff00ff" stroke="#800080" stroke-width="0.7"/><path d="M594.23 128.98V132.48M592.93 131.08H595.53" stroke="#555" stroke-width="0.6" fill="none"/><circle cx="594.23" cy="127.68" r="1.45" fill="#ff00ff" stroke="#800080" stroke-width="0.7"/><path d="M595.94 130.65V134.15M594.64 132.75H597.24" stroke="#555" stroke-width="0.6" fill="none"/><circle cx="595.94" cy="129.35" r="1.45" fill="#ff00ff" stroke="#800080" stroke-width="0.7"/><path d="M597.65 132.33V135.83M596.35 134.43H598.95" stroke="#555" stroke-width="0.6" fill="none"/><circle cx="597.65" cy="131.03" r="1.45" fill="#ff00ff" stroke="#800080" stroke-width="0.7"/><path d="M599.36 134.00V137.50M598.06 136.10H600.66" stroke="#555" stroke-width="0.6" fill="none"/><circle cx="599.36" cy="132.70" r="1.45" fill="#ff00ff" stroke="#800080" stroke-width="0.7"/><path d="M601.07 135.68V139.18M599.77 137.78H602.37" stroke="#555" stroke-width="0.6" fill="none"/><circle cx="601.07" cy="134.38" r="1.45" fill="#ff00ff" stroke="#800080" stroke-width="0.7"/><path d="M602.78 137.35V140.85M601.48 139.45H604.08" stroke="#555" stroke-width="0.6" fill="none"/><circle cx="602.78" cy="136.05" r="1.45" fill="#ff00ff" stroke="#800080" stroke-width="0.7"/><path d="M604.49 139.03V142.53M603.19 141.13H605.79" stroke="#555" stroke-width="0.6" fill="none"/><circle cx="604.49" cy="137.73" r="1.45" fill="#ff00ff" stroke="#800080" stroke-width="0.7"/><path d="M606.19 140.70V144.20M604.89 142.80H607.49" stroke="#555" stroke-width="0.6" fill="none"/><circle cx="606.19" cy="139.40" r="1.45" fill="#ff00ff" stroke="#800080" stroke-width="0.7"/><path d="M607.94 141.35V144.85M606.64 143.45H609.24" stroke="#555" stroke-width="0.6" fill="none"/><circle cx="607.94" cy="140.05" r="1.45" fill="#ff00ff" stroke="#800080" stroke-width="0.7"/><path d="M609.68 142.00V145.50M608.38 144.10H610.98" stroke="#555" stroke-width="0.6" fill="none"/><circle cx="609.68" cy="140.70" r="1.45" fill="#ff00ff" stroke="#800080" stroke-width="0.7"/><path d="M611.42 142.65V146.15M610.12 144.75H612.72" stroke="#555" stroke-width="0.6" fill="none"/><circle cx="611.42" cy="141.35" r="1.45" fill="#ff00ff" stroke="#800080" stroke-width="0.7"/><path d="M613.16 143.31V146.81M611.86 145.41H614.46" stroke="#555" stroke-width="0.6" fill="none"/><circle cx="613.16" cy="142.01" r="1.45" fill="#ff00ff" stroke="#800080" stroke-width="0.7"/><path d="M614.90 143.96V147.46M613.60 146.06H616.20" stroke="#555" stroke-width="0.6" fill="none"/><circle cx="614.90" cy="142.66" r="1.45" fill="#ff00ff" stroke="#800080" stroke-width="0.7"/><path d="M616.64 144.61V148.11M615.34 146.71H617.94" stroke="#555" stroke-width="0.6" fill="none"/><circle cx="616.64" cy="143.31" r="1.45" fill="#ff00ff" stroke="#800080" stroke-width="0.7"/><path d="M618.39 145.26V148.76M617.09 147.36H619.69" stroke="#555" stroke-width="0.6" fill="none"/><circle cx="618.39" cy="143.96" r="1.45" fill="#ff00ff" stroke="#800080" stroke-width="0.7"/><path d="M620.13 145.91V149.41M618.83 148.01H621.43" stroke="#555" stroke-width="0.6" fill="none"/><circle cx="620.13" cy="144.61" r="1.45" fill="#ff00ff" stroke="#800080" stroke-width="0.7"/><path d="M621.87 146.56V150.06M620.57 148.66H623.17" stroke="#555" stroke-width="0.6" fill="none"/><circle cx="621.87" cy="145.26" r="1.45" fill="#ff00ff" stroke="#800080" stroke-width="0.7"/><path d="M623.57 147.29V150.79M622.27 149.39H624.87" stroke="#555" stroke-width="0.6" fill="none"/><circle cx="623.57" cy="145.99" r="1.45" fill="#ff00ff" stroke="#800080" stroke-width="0.7"/><path d="M625.27 148.02V151.52M623.97 150.12H626.57" stroke="#555" stroke-width="0.6" fill="none"/><circle cx="625.27" cy="146.72" r="1.45" fill="#ff00ff" stroke="#800080" stroke-width="0.7"/><path d="M626.98 148.75V152.25M625.68 150.85H628.28" stroke="#555" stroke-width="0.6" fill="none"/><circle cx="626.98" cy="147.45" r="1.45" fill="#ff00ff" stroke="#800080" stroke-width="0.7"/><path d="M628.68 149.48V152.98M627.38 151.58H629.98" stroke="#555" stroke-width="0.6" fill="none"/><circle cx="628.68" cy="148.18" r="1.45" fill="#ff00ff" stroke="#800080" stroke-width="0.7"/><path d="M630.38 150.20V153.70M629.08 152.30H631.68" stroke="#555" stroke-width="0.6" fill="none"/><circle cx="630.38" cy="148.90" r="1.45" fill="#ff00ff" stroke="#800080" stroke-width="0.7"/><path d="M632.08 150.93V154.43M630.78 153.03H633.38" stroke="#555" stroke-width="0.6" fill="none"/><circle cx="632.08" cy="149.63" r="1.45" fill="#ff00ff" stroke="#800080" stroke-width="0.7"/><path d="M633.79 151.66V155.16M632.49 153.76H635.09" stroke="#555" stroke-width="0.6" fill="none"/><circle cx="633.79" cy="150.36" r="1.45" fill="#ff00ff" stroke="#800080" stroke-width="0.7"/><path d="M635.49 152.39V155.89M634.19 154.49H636.79" stroke="#555" stroke-width="0.6" fill="none"/><circle cx="635.49" cy="151.09" r="1.45" fill="#ff00ff" stroke="#800080" stroke-width="0.7"/><path d="M637.19 153.12V156.62M635.89 155.22H638.49" stroke="#555" stroke-width="0.6" fill="none"/><circle cx="637.19" cy="151.82" r="1.45" fill="#ff00ff" stroke="#800080" stroke-width="0.7"/><path d="M638.89 153.85V157.35M637.59 155.95H640.19" stroke="#555" stroke-width="0.6" fill="none"/><circle cx="638.89" cy="152.55" r="1.45" fill="#ff00ff" stroke="#800080" stroke-width="0.7"/>
<path d="M591.70 154.50 L593.39 154.50 L595.07 154.50 L596.25 122.52 L597.91 124.24 L599.57 125.96 L601.22 127.68 L602.88 129.39 L604.54 131.11 L606.19 132.83 L607.88 134.25 L609.57 135.67 L611.25 137.09 L612.94 138.51 L614.62 139.93 L616.31 141.35 L617.99 142.78 L619.64 142.86 L621.28 142.95 L622.92 143.04 L624.57 143.13 L626.31 143.81 L628.05 144.49 L629.79 145.17 L631.53 145.85 L633.27 146.54 L635.02 147.22 L636.76 148.43 L638.50 149.64 L640.24 150.86 L641.98 152.07 L643.72 153.29 L645.47 154.50" fill="none" stroke="#000" stroke-width="0.9"/>
<path d="M592.70 153.50L595.10 151.10" stroke="#333" stroke-width="0.55" fill="none"/><path d="M596.00 150.20L594.00 150.60L595.60 152.20Z" fill="#000"/><circle cx="591.70" cy="154.50" r="1.55" fill="#0000ff" stroke="#000060" stroke-width="0.7"/><path d="M594.39 153.50L596.79 151.10" stroke="#333" stroke-width="0.55" fill="none"/><path d="M597.69 150.20L595.69 150.60L597.29 152.20Z" fill="#000"/><circle cx="593.39" cy="154.50" r="1.55" fill="#0000ff" stroke="#000060" stroke-width="0.7"/><path d="M596.07 153.50L598.47 151.10" stroke="#333" stroke-width="0.55" fill="none"/><path d="M599.37 150.20L597.37 150.60L598.97 152.20Z" fill="#000"/><circle cx="595.07" cy="154.50" r="1.55" fill="#0000ff" stroke="#000060" stroke-width="0.7"/><path d="M597.25 121.52L599.65 119.12" stroke="#333" stroke-width="0.55" fill="none"/><path d="M600.55 118.22L598.55 118.62L600.15 120.22Z" fill="#000"/><circle cx="596.25" cy="122.52" r="1.55" fill="#0000ff" stroke="#000060" stroke-width="0.7"/><path d="M598.91 123.24L601.31 120.84" stroke="#333" stroke-width="0.55" fill="none"/><path d="M602.21 119.94L600.21 120.34L601.81 121.94Z" fill="#000"/><circle cx="597.91" cy="124.24" r="1.55" fill="#0000ff" stroke="#000060" stroke-width="0.7"/><path d="M600.57 124.96L602.97 122.56" stroke="#333" stroke-width="0.55" fill="none"/><path d="M603.87 121.66L601.87 122.06L603.47 123.66Z" fill="#000"/><circle cx="599.57" cy="125.96" r="1.55" fill="#0000ff" stroke="#000060" stroke-width="0.7"/><path d="M602.22 126.68L604.62 124.28" stroke="#333" stroke-width="0.55" fill="none"/><path d="M605.52 123.38L603.52 123.78L605.12 125.38Z" fill="#000"/><circle cx="601.22" cy="127.68" r="1.55" fill="#0000ff" stroke="#000060" stroke-width="0.7"/><path d="M603.88 128.39L606.28 125.99" stroke="#333" stroke-width="0.55" fill="none"/><path d="M607.18 125.09L605.18 125.49L606.78 127.09Z" fill="#000"/><circle cx="602.88" cy="129.39" r="1.55" fill="#0000ff" stroke="#000060" stroke-width="0.7"/><path d="M605.54 130.11L607.94 127.71" stroke="#333" stroke-width="0.55" fill="none"/><path d="M608.84 126.81L606.84 127.21L608.44 128.81Z" fill="#000"/><circle cx="604.54" cy="131.11" r="1.55" fill="#0000ff" stroke="#000060" stroke-width="0.7"/><path d="M607.19 131.83L609.59 129.43" stroke="#333" stroke-width="0.55" fill="none"/><path d="M610.49 128.53L608.49 128.93L610.09 130.53Z" fill="#000"/><circle cx="606.19" cy="132.83" r="1.55" fill="#0000ff" stroke="#000060" stroke-width="0.7"/><path d="M608.88 133.25L611.28 130.85" stroke="#333" stroke-width="0.55" fill="none"/><path d="M612.18 129.95L610.18 130.35L611.78 131.95Z" fill="#000"/><circle cx="607.88" cy="134.25" r="1.55" fill="#0000ff" stroke="#000060" stroke-width="0.7"/><path d="M610.57 134.67L612.97 132.27" stroke="#333" stroke-width="0.55" fill="none"/><path d="M613.87 131.37L611.87 131.77L613.47 133.37Z" fill="#000"/><circle cx="609.57" cy="135.67" r="1.55" fill="#0000ff" stroke="#000060" stroke-width="0.7"/><path d="M612.25 136.09L614.65 133.69" stroke="#333" stroke-width="0.55" fill="none"/><path d="M615.55 132.79L613.55 133.19L615.15 134.79Z" fill="#000"/><circle cx="611.25" cy="137.09" r="1.55" fill="#0000ff" stroke="#000060" stroke-width="0.7"/><path d="M613.94 137.51L616.34 135.11" stroke="#333" stroke-width="0.55" fill="none"/><path d="M617.24 134.21L615.24 134.61L616.84 136.21Z" fill="#000"/><circle cx="612.94" cy="138.51" r="1.55" fill="#0000ff" stroke="#000060" stroke-width="0.7"/><path d="M615.62 138.93L618.02 136.53" stroke="#333" stroke-width="0.55" fill="none"/><path d="M618.92 135.63L616.92 136.03L618.52 137.63Z" fill="#000"/><circle cx="614.62" cy="139.93" r="1.55" fill="#0000ff" stroke="#000060" stroke-width="0.7"/><path d="M617.31 140.35L619.71 137.95" stroke="#333" stroke-width="0.55" fill="none"/><path d="M620.61 137.05L618.61 137.45L620.21 139.05Z" fill="#000"/><circle cx="616.31" cy="141.35" r="1.55" fill="#0000ff" stroke="#000060" stroke-width="0.7"/><path d="M618.99 141.78L621.39 139.38" stroke="#333" stroke-width="0.55" fill="none"/><path d="M622.29 138.48L620.29 138.88L621.89 140.48Z" fill="#000"/><circle cx="617.99" cy="142.78" r="1.55" fill="#0000ff" stroke="#000060" stroke-width="0.7"/><path d="M620.64 141.86L623.04 139.46" stroke="#333" stroke-width="0.55" fill="none"/><path d="M623.94 138.56L621.94 138.96L623.54 140.56Z" fill="#000"/><circle cx="619.64" cy="142.86" r="1.55" fill="#0000ff" stroke="#000060" stroke-width="0.7"/><path d="M622.28 141.95L624.68 139.55" stroke="#333" stroke-width="0.55" fill="none"/><path d="M625.58 138.65L623.58 139.05L625.18 140.65Z" fill="#000"/><circle cx="621.28" cy="142.95" r="1.55" fill="#0000ff" stroke="#000060" stroke-width="0.7"/><path d="M623.92 142.04L626.32 139.64" stroke="#333" stroke-width="0.55" fill="none"/><path d="M627.22 138.74L625.22 139.14L626.82 140.74Z" fill="#000"/><circle cx="622.92" cy="143.04" r="1.55" fill="#0000ff" stroke="#000060" stroke-width="0.7"/><path d="M625.57 142.13L627.97 139.73" stroke="#333" stroke-width="0.55" fill="none"/><path d="M628.87 138.83L626.87 139.23L628.47 140.83Z" fill="#000"/><circle cx="624.57" cy="143.13" r="1.55" fill="#0000ff" stroke="#000060" stroke-width="0.7"/><path d="M627.31 142.81L629.71 140.41" stroke="#333" stroke-width="0.55" fill="none"/><path d="M630.61 139.51L628.61 139.91L630.21 141.51Z" fill="#000"/><circle cx="626.31" cy="143.81" r="1.55" fill="#0000ff" stroke="#000060" stroke-width="0.7"/><path d="M629.05 143.49L631.45 141.09" stroke="#333" stroke-width="0.55" fill="none"/><path d="M632.35 140.19L630.35 140.59L631.95 142.19Z" fill="#000"/><circle cx="628.05" cy="144.49" r="1.55" fill="#0000ff" stroke="#000060" stroke-width="0.7"/><path d="M630.79 144.17L633.19 141.77" stroke="#333" stroke-width="0.55" fill="none"/><path d="M634.09 140.87L632.09 141.27L633.69 142.87Z" fill="#000"/><circle cx="629.79" cy="145.17" r="1.55" fill="#0000ff" stroke="#000060" stroke-width="0.7"/><path d="M632.53 144.85L634.93 142.45" stroke="#333" stroke-width="0.55" fill="none"/><path d="M635.83 141.55L633.83 141.95L635.43 143.55Z" fill="#000"/><circle cx="631.53" cy="145.85" r="1.55" fill="#0000ff" stroke="#000060" stroke-width="0.7"/><path d="M634.27 145.54L636.67 143.14" stroke="#333" stroke-width="0.55" fill="none"/><path d="M637.57 142.24L635.57 142.64L637.17 144.24Z" fill="#000"/><circle cx="633.27" cy="146.54" r="1.55" fill="#0000ff" stroke="#000060" stroke-width="0.7"/><path d="M636.02 146.22L638.42 143.82" stroke="#333" stroke-width="0.55" fill="none"/><path d="M639.32 142.92L637.32 143.32L638.92 144.92Z" fill="#000"/><circle cx="635.02" cy="147.22" r="1.55" fill="#0000ff" stroke="#000060" stroke-width="0.7"/><path d="M637.76 147.43L640.16 145.03" stroke="#333" stroke-width="0.55" fill="none"/><path d="M641.06 144.13L639.06 144.53L640.66 146.13Z" fill="#000"/><circle cx="636.76" cy="148.43" r="1.55" fill="#0000ff" stroke="#000060" stroke-width="0.7"/><path d="M639.50 148.64L641.90 146.24" stroke="#333" stroke-width="0.55" fill="none"/><path d="M642.80 145.34L640.80 145.74L642.40 147.34Z" fill="#000"/><circle cx="638.50" cy="149.64" r="1.55" fill="#0000ff" stroke="#000060" stroke-width="0.7"/><path d="M641.24 149.86L643.64 147.46" stroke="#333" stroke-width="0.55" fill="none"/><path d="M644.54 146.56L642.54 146.96L644.14 148.56Z" fill="#000"/><circle cx="640.24" cy="150.86" r="1.55" fill="#0000ff" stroke="#000060" stroke-width="0.7"/><path d="M642.98 151.07L645.38 148.67" stroke="#333" stroke-width="0.55" fill="none"/><path d="M646.28 147.77L644.28 148.17L645.88 149.77Z" fill="#000"/><circle cx="641.98" cy="152.07" r="1.55" fill="#0000ff" stroke="#000060" stroke-width="0.7"/><path d="M644.72 152.29L647.12 149.89" stroke="#333" stroke-width="0.55" fill="none"/><path d="M648.02 148.99L646.02 149.39L647.62 150.99Z" fill="#000"/><circle cx="643.72" cy="153.29" r="1.55" fill="#0000ff" stroke="#000060" stroke-width="0.7"/><path d="M646.47 153.50L648.87 151.10" stroke="#333" stroke-width="0.55" fill="none"/><path d="M649.77 150.20L647.77 150.60L649.37 152.20Z" fill="#000"/><circle cx="645.47" cy="154.50" r="1.55" fill="#0000ff" stroke="#000060" stroke-width="0.7"/>
<path d="M57.84 238.53 L59.18 239.60 L60.86 241.02 L62.55 242.44 L63.55 243.51 L65.74 253.64 L67.59 262.53" fill="none" stroke="#000" stroke-width="1.2"/>
<circle cx="57.84" cy="238.53" r="3" fill="#000"/><circle cx="59.18" cy="239.60" r="3" fill="#000"/><circle cx="60.86" cy="241.02" r="3" fill="#000"/><circle cx="62.55" cy="242.44" r="3" fill="#000"/><circle cx="63.55" cy="243.51" r="3" fill="#000"/><circle cx="65.74" cy="253.64" r="3" fill="#000"/><circle cx="67.59" cy="262.53" r="3" fill="#000"/>
<line x1="63.90" y1="216.00" x2="62.55" y2="342.70" stroke="#000" stroke-width="1.0"/>
<line x1="68.50" y1="215.00" x2="72.47" y2="342.70" stroke="#000" stroke-width="1.0"/>
<line x1="71.70" y1="214.00" x2="72.47" y2="342.70" stroke="#000" stroke-width="1.0"/>
<circle cx="62.55" cy="342.70" r="3.0" fill="#c0c0c0" stroke="#333" stroke-width="0.65"/>
<circle cx="72.47" cy="342.70" r="3" fill="#000"/>
<path d="M63.89 214.00 L65.24 215.42 L66.58 216.84 L69.10 212.04 L70.58 214.18 L72.05 216.31 L73.52 218.44 L74.99 220.58 L77.01 214.71 L78.61 216.84 L80.20 218.98 L81.80 221.11 L83.40 223.24 L85.59 220.40 L87.19 222.04 L88.80 223.68 L90.41 225.32 L92.01 226.96 L93.62 228.59 L95.23 230.23 L96.84 231.87 L98.44 233.51 L100.05 235.15 L101.72 236.80 L103.39 238.44 L105.05 240.09 L106.72 241.73 L108.39 243.37 L110.06 245.02 L111.72 246.66 L113.39 248.31 L115.06 249.95 L116.73 251.60 L118.40 253.24 L120.06 254.88 L121.73 256.63 L123.40 258.38 L125.07 260.13 L126.73 261.88 L128.40 263.62 L130.07 265.37 L131.74 267.12 L133.41 268.87 L135.07 270.62 L136.74 272.36 L138.41 274.11 L140.08 275.86 L141.73 277.64 L143.38 279.42 L145.04 281.19 L146.69 282.97 L148.35 284.75 L150.00 286.53 L151.66 287.71 L153.32 288.90 L154.98 290.08 L156.64 291.27 L158.30 292.45 L159.96 293.64 L161.62 294.82 L163.28 296.01 L164.93 297.19 L166.59 298.38 L168.25 299.56 L169.91 300.75 L171.57 301.93 L173.23 303.12 L174.89 304.30 L176.54 305.40 L178.20 306.50 L179.85 307.59 L181.51 308.69 L183.16 309.78 L184.81 310.88 L186.64 312.18 L188.46 313.49 L190.28 314.79 L192.10 316.09 L193.92 317.40 L195.75 318.70" fill="none" stroke="#000" stroke-width="0.9"/>
<circle cx="63.89" cy="214.00" r="3.0" fill="#c0c0c0" stroke="#333" stroke-width="0.65"/><circle cx="65.24" cy="215.42" r="3.0" fill="#c0c0c0" stroke="#333" stroke-width="0.65"/><circle cx="66.58" cy="216.84" r="3.0" fill="#c0c0c0" stroke="#333" stroke-width="0.65"/><circle cx="69.10" cy="212.04" r="3.0" fill="#c0c0c0" stroke="#333" stroke-width="0.65"/><circle cx="70.58" cy="214.18" r="3.0" fill="#c0c0c0" stroke="#333" stroke-width="0.65"/><circle cx="72.05" cy="216.31" r="3.0" fill="#c0c0c0" stroke="#333" stroke-width="0.65"/><circle cx="73.52" cy="218.44" r="3.0" fill="#c0c0c0" stroke="#333" stroke-width="0.65"/><circle cx="74.99" cy="220.58" r="3.0" fill="#c0c0c0" stroke="#333" stroke-width="0.65"/><circle cx="77.01" cy="214.71" r="3.0" fill="#c0c0c0" stroke="#333" stroke-width="0.65"/><circle cx="78.61" cy="216.84" r="3.0" fill="#c0c0c0" stroke="#333" stroke-width="0.65"/><circle cx="80.20" cy="218.98" r="3.0" fill="#c0c0c0" stroke="#333" stroke-width="0.65"/><circle cx="81.80" cy="221.11" r="3.0" fill="#c0c0c0" stroke="#333" stroke-width="0.65"/><circle cx="83.40" cy="223.24" r="3.0" fill="#c0c0c0" stroke="#333" stroke-width="0.65"/><circle cx="85.59" cy="220.40" r="3.0" fill="#c0c0c0" stroke="#333" stroke-width="0.65"/><circle cx="87.19" cy="222.04" r="3.0" fill="#c0c0c0" stroke="#333" stroke-width="0.65"/><circle cx="88.80" cy="223.68" r="3.0" fill="#c0c0c0" stroke="#333" stroke-width="0.65"/><circle cx="90.41" cy="225.32" r="3.0" fill="#c0c0c0" stroke="#333" stroke-width="0.65"/><circle cx="92.01" cy="226.96" r="3.0" fill="#c0c0c0" stroke="#333" stroke-width="0.65"/><circle cx="93.62" cy="228.59" r="3.0" fill="#c0c0c0" stroke="#333" stroke-width="0.65"/><circle cx="95.23" cy="230.23" r="3.0" fill="#c0c0c0" stroke="#333" stroke-width="0.65"/><circle cx="96.84" cy="231.87" r="3.0" fill="#c0c0c0" stroke="#333" stroke-width="0.65"/><circle cx="98.44" cy="233.51" r="3.0" fill="#c0c0c0" stroke="#333" stroke-width="0.65"/><circle cx="100.05" cy="235.15" r="3.0" fill="#c0c0c0" stroke="#333" stroke-width="0.65"/><circle cx="101.72" cy="236.80" r="3.0" fill="#c0c0c0" stroke="#333" stroke-width="0.65"/><circle cx="103.39" cy="238.44" r="3.0" fill="#c0c0c0" stroke="#333" stroke-width="0.65"/><circle cx="105.05" cy="240.09" r="3.0" fill="#c0c0c0" stroke="#333" stroke-width="0.65"/><circle cx="106.72" cy="241.73" r="3.0" fill="#c0c0c0" stroke="#333" stroke-width="0.65"/><circle cx="108.39" cy="243.37" r="3.0" fill="#c0c0c0" stroke="#333" stroke-width="0.65"/><circle cx="110.06" cy="245.02" r="3.0" fill="#c0c0c0" stroke="#333" stroke-width="0.65"/><circle cx="111.72" cy="246.66" r="3.0" fill="#c0c0c0" stroke="#333" stroke-width="0.65"/><circle cx="113.39" cy="248.31" r="3.0" fill="#c0c0c0" stroke="#333" stroke-width="0.65"/><circle cx="115.06" cy="249.95" r="3.0" fill="#c0c0c0" stroke="#333" stroke-width="0.65"/><circle cx="116.73" cy="251.60" r="3.0" fill="#c0c0c0" stroke="#333" stroke-width="0.65"/><circle cx="118.40" cy="253.24" r="3.0" fill="#c0c0c0" stroke="#333" stroke-width="0.65"/><circle cx="120.06" cy="254.88" r="3.0" fill="#c0c0c0" stroke="#333" stroke-width="0.65"/><circle cx="121.73" cy="256.63" r="3.0" fill="#c0c0c0" stroke="#333" stroke-width="0.65"/><circle cx="123.40" cy="258.38" r="3.0" fill="#c0c0c0" stroke="#333" stroke-width="0.65"/><circle cx="125.07" cy="260.13" r="3.0" fill="#c0c0c0" stroke="#333" stroke-width="0.65"/><circle cx="126.73" cy="261.88" r="3.0" fill="#c0c0c0" stroke="#333" stroke-width="0.65"/><circle cx="128.40" cy="263.62" r="3.0" fill="#c0c0c0" stroke="#333" stroke-width="0.65"/><circle cx="130.07" cy="265.37" r="3.0" fill="#c0c0c0" stroke="#333" stroke-width="0.65"/><circle cx="131.74" cy="267.12" r="3.0" fill="#c0c0c0" stroke="#333" stroke-width="0.65"/><circle cx="133.41" cy="268.87" r="3.0" fill="#c0c0c0" stroke="#333" stroke-width="0.65"/><circle cx="135.07" cy="270.62" r="3.0" fill="#c0c0c0" stroke="#333" stroke-width="0.65"/><circle cx="136.74" cy="272.36" r="3.0" fill="#c0c0c0" stroke="#333" stroke-width="0.65"/><circle cx="138.41" cy="274.11" r="3.0" fill="#c0c0c0" stroke="#333" stroke-width="0.65"/><circle cx="140.08" cy="275.86" r="3.0" fill="#c0c0c0" stroke="#333" stroke-width="0.65"/><circle cx="141.73" cy="277.64" r="3.0" fill="#c0c0c0" stroke="#333" stroke-width="0.65"/><circle cx="143.38" cy="279.42" r="3.0" fill="#c0c0c0" stroke="#333" stroke-width="0.65"/><circle cx="145.04" cy="281.19" r="3.0" fill="#c0c0c0" stroke="#333" stroke-width="0.65"/><circle cx="146.69" cy="282.97" r="3.0" fill="#c0c0c0" stroke="#333" stroke-width="0.65"/><circle cx="148.35" cy="284.75" r="3.0" fill="#c0c0c0" stroke="#333" stroke-width="0.65"/><circle cx="150.00" cy="286.53" r="3.0" fill="#c0c0c0" stroke="#333" stroke-width="0.65"/><circle cx="151.66" cy="287.71" r="3.0" fill="#c0c0c0" stroke="#333" stroke-width="0.65"/><circle cx="153.32" cy="288.90" r="3.0" fill="#c0c0c0" stroke="#333" stroke-width="0.65"/><circle cx="154.98" cy="290.08" r="3.0" fill="#c0c0c0" stroke="#333" stroke-width="0.65"/><circle cx="156.64" cy="291.27" r="3.0" fill="#c0c0c0" stroke="#333" stroke-width="0.65"/><circle cx="158.30" cy="292.45" r="3.0" fill="#c0c0c0" stroke="#333" stroke-width="0.65"/><circle cx="159.96" cy="293.64" r="3.0" fill="#c0c0c0" stroke="#333" stroke-width="0.65"/><circle cx="161.62" cy="294.82" r="3.0" fill="#c0c0c0" stroke="#333" stroke-width="0.65"/><circle cx="163.28" cy="296.01" r="3.0" fill="#c0c0c0" stroke="#333" stroke-width="0.65"/><circle cx="164.93" cy="297.19" r="3.0" fill="#c0c0c0" stroke="#333" stroke-width="0.65"/><circle cx="166.59" cy="298.38" r="3.0" fill="#c0c0c0" stroke="#333" stroke-width="0.65"/><circle cx="168.25" cy="299.56" r="3.0" fill="#c0c0c0" stroke="#333" stroke-width="0.65"/><circle cx="169.91" cy="300.75" r="3.0" fill="#c0c0c0" stroke="#333" stroke-width="0.65"/><circle cx="171.57" cy="301.93" r="3.0" fill="#c0c0c0" stroke="#333" stroke-width="0.65"/><circle cx="173.23" cy="303.12" r="3.0" fill="#c0c0c0" stroke="#333" stroke-width="0.65"/><circle cx="174.89" cy="304.30" r="3.0" fill="#c0c0c0" stroke="#333" stroke-width="0.65"/><circle cx="176.54" cy="305.40" r="3.0" fill="#c0c0c0" stroke="#333" stroke-width="0.65"/><circle cx="178.20" cy="306.50" r="3.0" fill="#c0c0c0" stroke="#333" stroke-width="0.65"/><circle cx="179.85" cy="307.59" r="3.0" fill="#c0c0c0" stroke="#333" stroke-width="0.65"/><circle cx="181.51" cy="308.69" r="3.0" fill="#c0c0c0" stroke="#333" stroke-width="0.65"/><circle cx="183.16" cy="309.78" r="3.0" fill="#c0c0c0" stroke="#333" stroke-width="0.65"/><circle cx="184.81" cy="310.88" r="3.0" fill="#c0c0c0" stroke="#333" stroke-width="0.65"/><circle cx="186.64" cy="312.18" r="3.0" fill="#c0c0c0" stroke="#333" stroke-width="0.65"/><circle cx="188.46" cy="313.49" r="3.0" fill="#c0c0c0" stroke="#333" stroke-width="0.65"/><circle cx="190.28" cy="314.79" r="3.0" fill="#c0c0c0" stroke="#333" stroke-width="0.65"/><circle cx="192.10" cy="316.09" r="3.0" fill="#c0c0c0" stroke="#333" stroke-width="0.65"/><circle cx="193.92" cy="317.40" r="3.0" fill="#c0c0c0" stroke="#333" stroke-width="0.65"/><circle cx="195.75" cy="318.70" r="3.0" fill="#c0c0c0" stroke="#333" stroke-width="0.65"/>
<line x1="195.75" y1="318.70" x2="196.59" y2="342.70" stroke="#000" stroke-width="1.0"/>
<circle cx="196.59" cy="342.70" r="3.0" fill="#c0c0c0" stroke="#333" stroke-width="0.65"/>
<path d="M149.50 342.70 L151.18 295.77 L152.96 297.33 L154.75 298.88 L156.54 300.44 L158.32 301.99 L160.11 303.55 L161.90 305.10 L163.69 306.66 L165.47 308.21 L167.04 309.04 L168.61 309.87 L170.18 310.70 L171.75 311.53 L173.32 312.36 L174.89 313.19 L176.54 314.20 L178.20 315.21 L179.85 316.21 L181.51 317.22 L183.16 318.23 L184.81 319.24 L186.60 320.12 L188.38 321.01 L190.16 321.90 L191.94 322.79 L193.73 323.68 L195.27 323.95 L196.81 324.21 L198.35 324.48 L199.89 324.75 L201.44 325.01 L202.98 325.28 L204.66 326.88 L206.34 328.48 L208.02 330.08 L208.70 342.70" fill="none" stroke="#000" stroke-width="0.9"/>
<circle cx="149.50" cy="342.70" r="2.85" fill="#ff0000" stroke="#700000" stroke-width="0.6"/><circle cx="151.18" cy="295.77" r="2.85" fill="#ff0000" stroke="#700000" stroke-width="0.6"/><circle cx="152.96" cy="297.33" r="2.85" fill="#ff0000" stroke="#700000" stroke-width="0.6"/><circle cx="154.75" cy="298.88" r="2.85" fill="#ff0000" stroke="#700000" stroke-width="0.6"/><circle cx="156.54" cy="300.44" r="2.85" fill="#ff0000" stroke="#700000" stroke-width="0.6"/><circle cx="158.32" cy="301.99" r="2.85" fill="#ff0000" stroke="#700000" stroke-width="0.6"/><circle cx="160.11" cy="303.55" r="2.85" fill="#ff0000" stroke="#700000" stroke-width="0.6"/><circle cx="161.90" cy="305.10" r="2.85" fill="#ff0000" stroke="#700000" stroke-width="0.6"/><circle cx="163.69" cy="306.66" r="2.85" fill="#ff0000" stroke="#700000" stroke-width="0.6"/><circle cx="165.47" cy="308.21" r="2.85" fill="#ff0000" stroke="#700000" stroke-width="0.6"/><circle cx="167.04" cy="309.04" r="2.85" fill="#ff0000" stroke="#700000" stroke-width="0.6"/><circle cx="168.61" cy="309.87" r="2.85" fill="#ff0000" stroke="#700000" stroke-width="0.6"/><circle cx="170.18" cy="310.70" r="2.85" fill="#ff0000" stroke="#700000" stroke-width="0.6"/><circle cx="171.75" cy="311.53" r="2.85" fill="#ff0000" stroke="#700000" stroke-width="0.6"/><circle cx="173.32" cy="312.36" r="2.85" fill="#ff0000" stroke="#700000" stroke-width="0.6"/><circle cx="174.89" cy="313.19" r="2.85" fill="#ff0000" stroke="#700000" stroke-width="0.6"/><circle cx="176.54" cy="314.20" r="2.85" fill="#ff0000" stroke="#700000" stroke-width="0.6"/><circle cx="178.20" cy="315.21" r="2.85" fill="#ff0000" stroke="#700000" stroke-width="0.6"/><circle cx="179.85" cy="316.21" r="2.85" fill="#ff0000" stroke="#700000" stroke-width="0.6"/><circle cx="181.51" cy="317.22" r="2.85" fill="#ff0000" stroke="#700000" stroke-width="0.6"/><circle cx="183.16" cy="318.23" r="2.85" fill="#ff0000" stroke="#700000" stroke-width="0.6"/><circle cx="184.81" cy="319.24" r="2.85" fill="#ff0000" stroke="#700000" stroke-width="0.6"/><circle cx="186.60" cy="320.12" r="2.85" fill="#ff0000" stroke="#700000" stroke-width="0.6"/><circle cx="188.38" cy="321.01" r="2.85" fill="#ff0000" stroke="#700000" stroke-width="0.6"/><circle cx="190.16" cy="321.90" r="2.85" fill="#ff0000" stroke="#700000" stroke-width="0.6"/><circle cx="191.94" cy="322.79" r="2.85" fill="#ff0000" stroke="#700000" stroke-width="0.6"/><circle cx="193.73" cy="323.68" r="2.85" fill="#ff0000" stroke="#700000" stroke-width="0.6"/><circle cx="195.27" cy="323.95" r="2.85" fill="#ff0000" stroke="#700000" stroke-width="0.6"/><circle cx="196.81" cy="324.21" r="2.85" fill="#ff0000" stroke="#700000" stroke-width="0.6"/><circle cx="198.35" cy="324.48" r="2.85" fill="#ff0000" stroke="#700000" stroke-width="0.6"/><circle cx="199.89" cy="324.75" r="2.85" fill="#ff0000" stroke="#700000" stroke-width="0.6"/><circle cx="201.44" cy="325.01" r="2.85" fill="#ff0000" stroke="#700000" stroke-width="0.6"/><circle cx="202.98" cy="325.28" r="2.85" fill="#ff0000" stroke="#700000" stroke-width="0.6"/><circle cx="204.66" cy="326.88" r="2.85" fill="#ff0000" stroke="#700000" stroke-width="0.6"/><circle cx="206.34" cy="328.48" r="2.85" fill="#ff0000" stroke="#700000" stroke-width="0.6"/><circle cx="208.02" cy="330.08" r="2.85" fill="#ff0000" stroke="#700000" stroke-width="0.6"/><circle cx="208.70" cy="342.70" r="2.85" fill="#ff0000" stroke="#700000" stroke-width="0.6"/>
<path d="M164.80 342.70 L164.46 310.52 L166.10 311.69 L167.73 312.86 L169.36 314.03 L171.00 315.20 L172.63 316.37 L174.27 317.53 L175.90 318.70 L177.81 320.89 L179.71 323.09 L181.62 325.28 L182.88 325.72 L184.14 326.17 L185.86 327.48 L187.57 328.80 L189.29 330.11 L191.00 331.43 L192.72 332.75 L194.18 332.63 L195.63 332.51 L197.09 332.39 L198.83 333.22 L200.57 334.05 L202.30 334.88 L203.99 334.52 L205.67 334.17 L207.52 335.46 L209.37 336.74 L211.22 338.03 L213.07 339.32 L214.86 339.20 L216.66 339.09 L218.45 338.97 L220.02 339.92 L221.59 340.86 L223.16 341.81" fill="none" stroke="#000" stroke-width="0.9"/>
<path d="M164.80 344.00V347.50M163.50 346.10H166.10" stroke="#555" stroke-width="0.6" fill="none"/><circle cx="164.80" cy="342.70" r="1.45" fill="#ff00ff" stroke="#800080" stroke-width="0.7"/><path d="M164.46 311.82V315.32M163.16 313.92H165.76" stroke="#555" stroke-width="0.6" fill="none"/><circle cx="164.46" cy="310.52" r="1.45" fill="#ff00ff" stroke="#800080" stroke-width="0.7"/><path d="M166.10 312.99V316.49M164.80 315.09H167.40" stroke="#555" stroke-width="0.6" fill="none"/><circle cx="166.10" cy="311.69" r="1.45" fill="#ff00ff" stroke="#800080" stroke-width="0.7"/><path d="M167.73 314.16V317.66M166.43 316.26H169.03" stroke="#555" stroke-width="0.6" fill="none"/><circle cx="167.73" cy="312.86" r="1.45" fill="#ff00ff" stroke="#800080" stroke-width="0.7"/><path d="M169.36 315.33V318.83M168.06 317.43H170.66" stroke="#555" stroke-width="0.6" fill="none"/><circle cx="169.36" cy="314.03" r="1.45" fill="#ff00ff" stroke="#800080" stroke-width="0.7"/><path d="M171.00 316.50V320.00M169.70 318.60H172.30" stroke="#555" stroke-width="0.6" fill="none"/><circle cx="171.00" cy="315.20" r="1.45" fill="#ff00ff" stroke="#800080" stroke-width="0.7"/><path d="M172.63 317.67V321.17M171.33 319.77H173.93" stroke="#555" stroke-width="0.6" fill="none"/><circle cx="172.63" cy="316.37" r="1.45" fill="#ff00ff" stroke="#800080" stroke-width="0.7"/><path d="M174.27 318.83V322.33M172.97 320.93H175.57" stroke="#555" stroke-width="0.6" fill="none"/><circle cx="174.27" cy="317.53" r="1.45" fill="#ff00ff" stroke="#800080" stroke-width="0.7"/><path d="M175.90 320.00V323.50M174.60 322.10H177.20" stroke="#555" stroke-width="0.6" fill="none"/><circle cx="175.90" cy="318.70" r="1.45" fill="#ff00ff" stroke="#800080" stroke-width="0.7"/><path d="M177.81 322.19V325.69M176.51 324.29H179.11" stroke="#555" stroke-width="0.6" fill="none"/><circle cx="177.81" cy="320.89" r="1.45" fill="#ff00ff" stroke="#800080" stroke-width="0.7"/><path d="M179.71 324.39V327.89M178.41 326.49H181.01" stroke="#555" stroke-width="0.6" fill="none"/><circle cx="179.71" cy="323.09" r="1.45" fill="#ff00ff" stroke="#800080" stroke-width="0.7"/><path d="M181.62 326.58V330.08M180.32 328.68H182.92" stroke="#555" stroke-width="0.6" fill="none"/><circle cx="181.62" cy="325.28" r="1.45" fill="#ff00ff" stroke="#800080" stroke-width="0.7"/><path d="M182.88 327.02V330.52M181.58 329.12H184.18" stroke="#555" stroke-width="0.6" fill="none"/><circle cx="182.88" cy="325.72" r="1.45" fill="#ff00ff" stroke="#800080" stroke-width="0.7"/><path d="M184.14 327.47V330.97M182.84 329.57H185.44" stroke="#555" stroke-width="0.6" fill="none"/><circle cx="184.14" cy="326.17" r="1.45" fill="#ff00ff" stroke="#800080" stroke-width="0.7"/><path d="M185.86 328.78V332.28M184.56 330.88H187.16" stroke="#555" stroke-width="0.6" fill="none"/><circle cx="185.86" cy="327.48" r="1.45" fill="#ff00ff" stroke="#800080" stroke-width="0.7"/><path d="M187.57 330.10V333.60M186.27 332.20H188.87" stroke="#555" stroke-width="0.6" fill="none"/><circle cx="187.57" cy="328.80" r="1.45" fill="#ff00ff" stroke="#800080" stroke-width="0.7"/><path d="M189.29 331.41V334.91M187.99 333.51H190.59" stroke="#555" stroke-width="0.6" fill="none"/><circle cx="189.29" cy="330.11" r="1.45" fill="#ff00ff" stroke="#800080" stroke-width="0.7"/><path d="M191.00 332.73V336.23M189.70 334.83H192.30" stroke="#555" stroke-width="0.6" fill="none"/><circle cx="191.00" cy="331.43" r="1.45" fill="#ff00ff" stroke="#800080" stroke-width="0.7"/><path d="M192.72 334.05V337.55M191.42 336.15H194.02" stroke="#555" stroke-width="0.6" fill="none"/><circle cx="192.72" cy="332.75" r="1.45" fill="#ff00ff" stroke="#800080" stroke-width="0.7"/><path d="M194.18 333.93V337.43M192.88 336.03H195.48" stroke="#555" stroke-width="0.6" fill="none"/><circle cx="194.18" cy="332.63" r="1.45" fill="#ff00ff" stroke="#800080" stroke-width="0.7"/><path d="M195.63 333.81V337.31M194.33 335.91H196.93" stroke="#555" stroke-width="0.6" fill="none"/><circle cx="195.63" cy="332.51" r="1.45" fill="#ff00ff" stroke="#800080" stroke-width="0.7"/><path d="M197.09 333.69V337.19M195.79 335.79H198.39" stroke="#555" stroke-width="0.6" fill="none"/><circle cx="197.09" cy="332.39" r="1.45" fill="#ff00ff" stroke="#800080" stroke-width="0.7"/><path d="M198.83 334.52V338.02M197.53 336.62H200.13" stroke="#555" stroke-width="0.6" fill="none"/><circle cx="198.83" cy="333.22" r="1.45" fill="#ff00ff" stroke="#800080" stroke-width="0.7"/><path d="M200.57 335.35V338.85M199.27 337.45H201.87" stroke="#555" stroke-width="0.6" fill="none"/><circle cx="200.57" cy="334.05" r="1.45" fill="#ff00ff" stroke="#800080" stroke-width="0.7"/><path d="M202.30 336.18V339.68M201.00 338.28H203.60" stroke="#555" stroke-width="0.6" fill="none"/><circle cx="202.30" cy="334.88" r="1.45" fill="#ff00ff" stroke="#800080" stroke-width="0.7"/><path d="M203.99 335.82V339.32M202.69 337.92H205.29" stroke="#555" stroke-width="0.6" fill="none"/><circle cx="203.99" cy="334.52" r="1.45" fill="#ff00ff" stroke="#800080" stroke-width="0.7"/><path d="M205.67 335.47V338.97M204.37 337.57H206.97" stroke="#555" stroke-width="0.6" fill="none"/><circle cx="205.67" cy="334.17" r="1.45" fill="#ff00ff" stroke="#800080" stroke-width="0.7"/><path d="M207.52 336.76V340.26M206.22 338.86H208.82" stroke="#555" stroke-width="0.6" fill="none"/><circle cx="207.52" cy="335.46" r="1.45" fill="#ff00ff" stroke="#800080" stroke-width="0.7"/><path d="M209.37 338.04V341.54M208.07 340.14H210.67" stroke="#555" stroke-width="0.6" fill="none"/><circle cx="209.37" cy="336.74" r="1.45" fill="#ff00ff" stroke="#800080" stroke-width="0.7"/><path d="M211.22 339.33V342.83M209.92 341.43H212.52" stroke="#555" stroke-width="0.6" fill="none"/><circle cx="211.22" cy="338.03" r="1.45" fill="#ff00ff" stroke="#800080" stroke-width="0.7"/><path d="M213.07 340.62V344.12M211.77 342.72H214.37" stroke="#555" stroke-width="0.6" fill="none"/><circle cx="213.07" cy="339.32" r="1.45" fill="#ff00ff" stroke="#800080" stroke-width="0.7"/><path d="M214.86 340.50V344.00M213.56 342.60H216.16" stroke="#555" stroke-width="0.6" fill="none"/><circle cx="214.86" cy="339.20" r="1.45" fill="#ff00ff" stroke="#800080" stroke-width="0.7"/><path d="M216.66 340.39V343.89M215.36 342.49H217.96" stroke="#555" stroke-width="0.6" fill="none"/><circle cx="216.66" cy="339.09" r="1.45" fill="#ff00ff" stroke="#800080" stroke-width="0.7"/><path d="M218.45 340.27V343.77M217.15 342.37H219.75" stroke="#555" stroke-width="0.6" fill="none"/><circle cx="218.45" cy="338.97" r="1.45" fill="#ff00ff" stroke="#800080" stroke-width="0.7"/><path d="M220.02 341.22V344.72M218.72 343.32H221.32" stroke="#555" stroke-width="0.6" fill="none"/><circle cx="220.02" cy="339.92" r="1.45" fill="#ff00ff" stroke="#800080" stroke-width="0.7"/><path d="M221.59 342.16V345.66M220.29 344.26H222.89" stroke="#555" stroke-width="0.6" fill="none"/><circle cx="221.59" cy="340.86" r="1.45" fill="#ff00ff" stroke="#800080" stroke-width="0.7"/><path d="M223.16 343.11V346.61M221.86 345.21H224.46" stroke="#555" stroke-width="0.6" fill="none"/><circle cx="223.16" cy="341.81" r="1.45" fill="#ff00ff" stroke="#800080" stroke-width="0.7"/>
<path d="M162.78 342.70 L163.45 308.39 L165.09 309.56 L166.72 310.73 L168.36 311.90 L169.99 313.06 L171.62 314.23 L173.26 315.40 L174.89 316.57 L176.80 318.82 L178.70 321.07 L180.61 323.32 L181.87 321.81 L183.13 320.30 L184.85 322.15 L186.56 324.00 L188.28 325.85 L189.99 327.70 L191.71 329.55 L193.17 328.95 L194.62 328.36 L196.08 327.77 L197.82 328.89 L199.56 330.02 L201.30 331.15 L202.98 329.99 L204.66 328.83 L206.51 330.88 L208.36 332.92 L210.21 334.97 L212.06 337.01 L213.85 336.66 L215.65 336.30 L217.44 335.94 L219.16 337.30 L220.87 338.65 L222.59 340.00 L224.30 341.35 L226.02 342.70" fill="none" stroke="#000" stroke-width="0.9"/>
<path d="M163.78 341.70L166.18 339.30" stroke="#333" stroke-width="0.55" fill="none"/><path d="M167.08 338.40L165.08 338.80L166.68 340.40Z" fill="#000"/><circle cx="162.78" cy="342.70" r="1.55" fill="#0000ff" stroke="#000060" stroke-width="0.7"/><path d="M164.45 307.39L166.85 304.99" stroke="#333" stroke-width="0.55" fill="none"/><path d="M167.75 304.09L165.75 304.49L167.35 306.09Z" fill="#000"/><circle cx="163.45" cy="308.39" r="1.55" fill="#0000ff" stroke="#000060" stroke-width="0.7"/><path d="M166.09 308.56L168.49 306.16" stroke="#333" stroke-width="0.55" fill="none"/><path d="M169.39 305.26L167.39 305.66L168.99 307.26Z" fill="#000"/><circle cx="165.09" cy="309.56" r="1.55" fill="#0000ff" stroke="#000060" stroke-width="0.7"/><path d="M167.72 309.73L170.12 307.33" stroke="#333" stroke-width="0.55" fill="none"/><path d="M171.02 306.43L169.02 306.83L170.62 308.43Z" fill="#000"/><circle cx="166.72" cy="310.73" r="1.55" fill="#0000ff" stroke="#000060" stroke-width="0.7"/><path d="M169.36 310.90L171.76 308.50" stroke="#333" stroke-width="0.55" fill="none"/><path d="M172.66 307.60L170.66 308.00L172.26 309.60Z" fill="#000"/><circle cx="168.36" cy="311.90" r="1.55" fill="#0000ff" stroke="#000060" stroke-width="0.7"/><path d="M170.99 312.06L173.39 309.66" stroke="#333" stroke-width="0.55" fill="none"/><path d="M174.29 308.76L172.29 309.16L173.89 310.76Z" fill="#000"/><circle cx="169.99" cy="313.06" r="1.55" fill="#0000ff" stroke="#000060" stroke-width="0.7"/><path d="M172.62 313.23L175.02 310.83" stroke="#333" stroke-width="0.55" fill="none"/><path d="M175.92 309.93L173.92 310.33L175.52 311.93Z" fill="#000"/><circle cx="171.62" cy="314.23" r="1.55" fill="#0000ff" stroke="#000060" stroke-width="0.7"/><path d="M174.26 314.40L176.66 312.00" stroke="#333" stroke-width="0.55" fill="none"/><path d="M177.56 311.10L175.56 311.50L177.16 313.10Z" fill="#000"/><circle cx="173.26" cy="315.40" r="1.55" fill="#0000ff" stroke="#000060" stroke-width="0.7"/><path d="M175.89 315.57L178.29 313.17" stroke="#333" stroke-width="0.55" fill="none"/><path d="M179.19 312.27L177.19 312.67L178.79 314.27Z" fill="#000"/><circle cx="174.89" cy="316.57" r="1.55" fill="#0000ff" stroke="#000060" stroke-width="0.7"/><path d="M177.80 317.82L180.20 315.42" stroke="#333" stroke-width="0.55" fill="none"/><path d="M181.10 314.52L179.10 314.92L180.70 316.52Z" fill="#000"/><circle cx="176.80" cy="318.82" r="1.55" fill="#0000ff" stroke="#000060" stroke-width="0.7"/><path d="M179.70 320.07L182.10 317.67" stroke="#333" stroke-width="0.55" fill="none"/><path d="M183.00 316.77L181.00 317.17L182.60 318.77Z" fill="#000"/><circle cx="178.70" cy="321.07" r="1.55" fill="#0000ff" stroke="#000060" stroke-width="0.7"/><path d="M181.61 322.32L184.01 319.92" stroke="#333" stroke-width="0.55" fill="none"/><path d="M184.91 319.02L182.91 319.42L184.51 321.02Z" fill="#000"/><circle cx="180.61" cy="323.32" r="1.55" fill="#0000ff" stroke="#000060" stroke-width="0.7"/><path d="M182.87 320.81L185.27 318.41" stroke="#333" stroke-width="0.55" fill="none"/><path d="M186.17 317.51L184.17 317.91L185.77 319.51Z" fill="#000"/><circle cx="181.87" cy="321.81" r="1.55" fill="#0000ff" stroke="#000060" stroke-width="0.7"/><path d="M184.13 319.30L186.53 316.90" stroke="#333" stroke-width="0.55" fill="none"/><path d="M187.43 316.00L185.43 316.40L187.03 318.00Z" fill="#000"/><circle cx="183.13" cy="320.30" r="1.55" fill="#0000ff" stroke="#000060" stroke-width="0.7"/><path d="M185.85 321.15L188.25 318.75" stroke="#333" stroke-width="0.55" fill="none"/><path d="M189.15 317.85L187.15 318.25L188.75 319.85Z" fill="#000"/><circle cx="184.85" cy="322.15" r="1.55" fill="#0000ff" stroke="#000060" stroke-width="0.7"/><path d="M187.56 323.00L189.96 320.60" stroke="#333" stroke-width="0.55" fill="none"/><path d="M190.86 319.70L188.86 320.10L190.46 321.70Z" fill="#000"/><circle cx="186.56" cy="324.00" r="1.55" fill="#0000ff" stroke="#000060" stroke-width="0.7"/><path d="M189.28 324.85L191.68 322.45" stroke="#333" stroke-width="0.55" fill="none"/><path d="M192.58 321.55L190.58 321.95L192.18 323.55Z" fill="#000"/><circle cx="188.28" cy="325.85" r="1.55" fill="#0000ff" stroke="#000060" stroke-width="0.7"/><path d="M190.99 326.70L193.39 324.30" stroke="#333" stroke-width="0.55" fill="none"/><path d="M194.29 323.40L192.29 323.80L193.89 325.40Z" fill="#000"/><circle cx="189.99" cy="327.70" r="1.55" fill="#0000ff" stroke="#000060" stroke-width="0.7"/><path d="M192.71 328.55L195.11 326.15" stroke="#333" stroke-width="0.55" fill="none"/><path d="M196.01 325.25L194.01 325.65L195.61 327.25Z" fill="#000"/><circle cx="191.71" cy="329.55" r="1.55" fill="#0000ff" stroke="#000060" stroke-width="0.7"/><path d="M194.17 327.95L196.57 325.55" stroke="#333" stroke-width="0.55" fill="none"/><path d="M197.47 324.65L195.47 325.05L197.07 326.65Z" fill="#000"/><circle cx="193.17" cy="328.95" r="1.55" fill="#0000ff" stroke="#000060" stroke-width="0.7"/><path d="M195.62 327.36L198.02 324.96" stroke="#333" stroke-width="0.55" fill="none"/><path d="M198.92 324.06L196.92 324.46L198.52 326.06Z" fill="#000"/><circle cx="194.62" cy="328.36" r="1.55" fill="#0000ff" stroke="#000060" stroke-width="0.7"/><path d="M197.08 326.77L199.48 324.37" stroke="#333" stroke-width="0.55" fill="none"/><path d="M200.38 323.47L198.38 323.87L199.98 325.47Z" fill="#000"/><circle cx="196.08" cy="327.77" r="1.55" fill="#0000ff" stroke="#000060" stroke-width="0.7"/><path d="M198.82 327.89L201.22 325.49" stroke="#333" stroke-width="0.55" fill="none"/><path d="M202.12 324.59L200.12 324.99L201.72 326.59Z" fill="#000"/><circle cx="197.82" cy="328.89" r="1.55" fill="#0000ff" stroke="#000060" stroke-width="0.7"/><path d="M200.56 329.02L202.96 326.62" stroke="#333" stroke-width="0.55" fill="none"/><path d="M203.86 325.72L201.86 326.12L203.46 327.72Z" fill="#000"/><circle cx="199.56" cy="330.02" r="1.55" fill="#0000ff" stroke="#000060" stroke-width="0.7"/><path d="M202.30 330.15L204.70 327.75" stroke="#333" stroke-width="0.55" fill="none"/><path d="M205.60 326.85L203.60 327.25L205.20 328.85Z" fill="#000"/><circle cx="201.30" cy="331.15" r="1.55" fill="#0000ff" stroke="#000060" stroke-width="0.7"/><path d="M203.98 328.99L206.38 326.59" stroke="#333" stroke-width="0.55" fill="none"/><path d="M207.28 325.69L205.28 326.09L206.88 327.69Z" fill="#000"/><circle cx="202.98" cy="329.99" r="1.55" fill="#0000ff" stroke="#000060" stroke-width="0.7"/><path d="M205.66 327.83L208.06 325.43" stroke="#333" stroke-width="0.55" fill="none"/><path d="M208.96 324.53L206.96 324.93L208.56 326.53Z" fill="#000"/><circle cx="204.66" cy="328.83" r="1.55" fill="#0000ff" stroke="#000060" stroke-width="0.7"/><path d="M207.51 329.88L209.91 327.48" stroke="#333" stroke-width="0.55" fill="none"/><path d="M210.81 326.58L208.81 326.98L210.41 328.58Z" fill="#000"/><circle cx="206.51" cy="330.88" r="1.55" fill="#0000ff" stroke="#000060" stroke-width="0.7"/><path d="M209.36 331.92L211.76 329.52" stroke="#333" stroke-width="0.55" fill="none"/><path d="M212.66 328.62L210.66 329.02L212.26 330.62Z" fill="#000"/><circle cx="208.36" cy="332.92" r="1.55" fill="#0000ff" stroke="#000060" stroke-width="0.7"/><path d="M211.21 333.97L213.61 331.57" stroke="#333" stroke-width="0.55" fill="none"/><path d="M214.51 330.67L212.51 331.07L214.11 332.67Z" fill="#000"/><circle cx="210.21" cy="334.97" r="1.55" fill="#0000ff" stroke="#000060" stroke-width="0.7"/><path d="M213.06 336.01L215.46 333.61" stroke="#333" stroke-width="0.55" fill="none"/><path d="M216.36 332.71L214.36 333.11L215.96 334.71Z" fill="#000"/><circle cx="212.06" cy="337.01" r="1.55" fill="#0000ff" stroke="#000060" stroke-width="0.7"/><path d="M214.85 335.66L217.25 333.26" stroke="#333" stroke-width="0.55" fill="none"/><path d="M218.15 332.36L216.15 332.76L217.75 334.36Z" fill="#000"/><circle cx="213.85" cy="336.66" r="1.55" fill="#0000ff" stroke="#000060" stroke-width="0.7"/><path d="M216.65 335.30L219.05 332.90" stroke="#333" stroke-width="0.55" fill="none"/><path d="M219.95 332.00L217.95 332.40L219.55 334.00Z" fill="#000"/><circle cx="215.65" cy="336.30" r="1.55" fill="#0000ff" stroke="#000060" stroke-width="0.7"/><path d="M218.44 334.94L220.84 332.54" stroke="#333" stroke-width="0.55" fill="none"/><path d="M221.74 331.64L219.74 332.04L221.34 333.64Z" fill="#000"/><circle cx="217.44" cy="335.94" r="1.55" fill="#0000ff" stroke="#000060" stroke-width="0.7"/><path d="M220.16 336.30L222.56 333.90" stroke="#333" stroke-width="0.55" fill="none"/><path d="M223.46 333.00L221.46 333.40L223.06 335.00Z" fill="#000"/><circle cx="219.16" cy="337.30" r="1.55" fill="#0000ff" stroke="#000060" stroke-width="0.7"/><path d="M221.87 337.65L224.27 335.25" stroke="#333" stroke-width="0.55" fill="none"/><path d="M225.17 334.35L223.17 334.75L224.77 336.35Z" fill="#000"/><circle cx="220.87" cy="338.65" r="1.55" fill="#0000ff" stroke="#000060" stroke-width="0.7"/><path d="M223.59 339.00L225.99 336.60" stroke="#333" stroke-width="0.55" fill="none"/><path d="M226.89 335.70L224.89 336.10L226.49 337.70Z" fill="#000"/><circle cx="222.59" cy="340.00" r="1.55" fill="#0000ff" stroke="#000060" stroke-width="0.7"/><path d="M225.30 340.35L227.70 337.95" stroke="#333" stroke-width="0.55" fill="none"/><path d="M228.60 337.05L226.60 337.45L228.20 339.05Z" fill="#000"/><circle cx="224.30" cy="341.35" r="1.55" fill="#0000ff" stroke="#000060" stroke-width="0.7"/><path d="M227.02 341.70L229.42 339.30" stroke="#333" stroke-width="0.55" fill="none"/><path d="M230.32 338.40L228.32 338.80L229.92 340.40Z" fill="#000"/><circle cx="226.02" cy="342.70" r="1.55" fill="#0000ff" stroke="#000060" stroke-width="0.7"/>
<path d="M278.40 250.83 L280.08 252.18 L281.76 253.52 L283.44 254.87 L284.45 256.38 L286.47 263.78 L288.32 274.70" fill="none" stroke="#000" stroke-width="1.2"/>
<circle cx="278.40" cy="250.83" r="3" fill="#000"/><circle cx="280.08" cy="252.18" r="3" fill="#000"/><circle cx="281.76" cy="253.52" r="3" fill="#000"/><circle cx="283.44" cy="254.87" r="3" fill="#000"/><circle cx="284.45" cy="256.38" r="3" fill="#000"/><circle cx="286.47" cy="263.78" r="3" fill="#000"/><circle cx="288.32" cy="274.70" r="3" fill="#000"/>
<line x1="286.40" y1="211.00" x2="284.62" y2="348.00" stroke="#000" stroke-width="1.0"/>
<line x1="288.70" y1="212.00" x2="294.87" y2="348.00" stroke="#000" stroke-width="1.0"/>
<line x1="293.70" y1="216.00" x2="294.87" y2="348.00" stroke="#000" stroke-width="1.0"/>
<circle cx="284.62" cy="348.00" r="3.0" fill="#c0c0c0" stroke="#333" stroke-width="0.65"/>
<circle cx="294.87" cy="348.00" r="3" fill="#000"/>
<path d="M286.47 209.81 L288.14 211.61 L289.80 213.40 L291.47 215.19 L293.14 216.99 L294.80 218.78 L296.47 220.57 L298.14 222.36 L299.80 224.16 L301.47 225.95 L303.14 227.74 L304.80 229.54 L306.47 231.33 L308.15 228.14 L309.86 229.85 L311.56 231.57 L313.26 233.29 L314.96 235.00 L316.67 236.72 L318.37 238.44 L320.07 240.15 L321.78 241.87 L323.48 243.59 L325.18 245.30 L326.89 247.02 L328.59 248.73 L330.29 250.45 L331.99 252.17 L333.70 253.88 L335.40 255.60 L337.10 257.32 L338.81 259.03 L340.51 260.75 L342.21 262.47 L343.92 264.18 L345.62 265.90 L347.32 267.62 L349.02 269.33 L350.73 271.05 L352.43 272.77 L354.13 274.48 L355.84 276.20 L357.54 277.92 L359.24 279.63 L360.95 281.35 L362.65 283.06 L364.35 284.78 L366.05 286.50 L367.76 288.21 L369.46 289.93 L371.16 291.65 L372.87 293.36 L374.55 294.37 L376.23 295.38 L377.91 296.39 L379.59 297.40 L381.27 298.41 L382.95 299.42 L384.63 300.42 L386.31 301.43 L388.00 302.44 L389.68 303.45 L391.36 304.46 L393.04 305.47 L394.72 306.48 L396.38 307.54 L398.04 308.61 L399.71 309.67 L401.37 310.74 L403.03 311.80 L404.69 312.86 L406.35 313.93 L408.02 314.99 L409.68 316.06 L411.29 317.07 L412.91 318.08 L414.52 319.08 L416.13 320.09 L417.75 321.10 L419.46 322.25 L421.18 323.39 L422.89 324.53 L424.61 325.67 L426.32 326.82" fill="none" stroke="#000" stroke-width="0.9"/>
<circle cx="286.47" cy="209.81" r="3.0" fill="#c0c0c0" stroke="#333" stroke-width="0.65"/><circle cx="288.14" cy="211.61" r="3.0" fill="#c0c0c0" stroke="#333" stroke-width="0.65"/><circle cx="289.80" cy="213.40" r="3.0" fill="#c0c0c0" stroke="#333" stroke-width="0.65"/><circle cx="291.47" cy="215.19" r="3.0" fill="#c0c0c0" stroke="#333" stroke-width="0.65"/><circle cx="293.14" cy="216.99" r="3.0" fill="#c0c0c0" stroke="#333" stroke-width="0.65"/><circle cx="294.80" cy="218.78" r="3.0" fill="#c0c0c0" stroke="#333" stroke-width="0.65"/><circle cx="296.47" cy="220.57" r="3.0" fill="#c0c0c0" stroke="#333" stroke-width="0.65"/><circle cx="298.14" cy="222.36" r="3.0" fill="#c0c0c0" stroke="#333" stroke-width="0.65"/><circle cx="299.80" cy="224.16" r="3.0" fill="#c0c0c0" stroke="#333" stroke-width="0.65"/><circle cx="301.47" cy="225.95" r="3.0" fill="#c0c0c0" stroke="#333" stroke-width="0.65"/><circle cx="303.14" cy="227.74" r="3.0" fill="#c0c0c0" stroke="#333" stroke-width="0.65"/><circle cx="304.80" cy="229.54" r="3.0" fill="#c0c0c0" stroke="#333" stroke-width="0.65"/><circle cx="306.47" cy="231.33" r="3.0" fill="#c0c0c0" stroke="#333" stroke-width="0.65"/><circle cx="308.15" cy="228.14" r="3.0" fill="#c0c0c0" stroke="#333" stroke-width="0.65"/><circle cx="309.86" cy="229.85" r="3.0" fill="#c0c0c0" stroke="#333" stroke-width="0.65"/><circle cx="311.56" cy="231.57" r="3.0" fill="#c0c0c0" stroke="#333" stroke-width="0.65"/><circle cx="313.26" cy="233.29" r="3.0" fill="#c0c0c0" stroke="#333" stroke-width="0.65"/><circle cx="314.96" cy="235.00" r="3.0" fill="#c0c0c0" stroke="#333" stroke-width="0.65"/><circle cx="316.67" cy="236.72" r="3.0" fill="#c0c0c0" stroke="#333" stroke-width="0.65"/><circle cx="318.37" cy="238.44" r="3.0" fill="#c0c0c0" stroke="#333" stroke-width="0.65"/><circle cx="320.07" cy="240.15" r="3.0" fill="#c0c0c0" stroke="#333" stroke-width="0.65"/><circle cx="321.78" cy="241.87" r="3.0" fill="#c0c0c0" stroke="#333" stroke-width="0.65"/><circle cx="323.48" cy="243.59" r="3.0" fill="#c0c0c0" stroke="#333" stroke-width="0.65"/><circle cx="325.18" cy="245.30" r="3.0" fill="#c0c0c0" stroke="#333" stroke-width="0.65"/><circle cx="326.89" cy="247.02" r="3.0" fill="#c0c0c0" stroke="#333" stroke-width="0.65"/><circle cx="328.59" cy="248.73" r="3.0" fill="#c0c0c0" stroke="#333" stroke-width="0.65"/><circle cx="330.29" cy="250.45" r="3.0" fill="#c0c0c0" stroke="#333" stroke-width="0.65"/><circle cx="331.99" cy="252.17" r="3.0" fill="#c0c0c0" stroke="#333" stroke-width="0.65"/><circle cx="333.70" cy="253.88" r="3.0" fill="#c0c0c0" stroke="#333" stroke-width="0.65"/><circle cx="335.40" cy="255.60" r="3.0" fill="#c0c0c0" stroke="#333" stroke-width="0.65"/><circle cx="337.10" cy="257.32" r="3.0" fill="#c0c0c0" stroke="#333" stroke-width="0.65"/><circle cx="338.81" cy="259.03" r="3.0" fill="#c0c0c0" stroke="#333" stroke-width="0.65"/><circle cx="340.51" cy="260.75" r="3.0" fill="#c0c0c0" stroke="#333" stroke-width="0.65"/><circle cx="342.21" cy="262.47" r="3.0" fill="#c0c0c0" stroke="#333" stroke-width="0.65"/><circle cx="343.92" cy="264.18" r="3.0" fill="#c0c0c0" stroke="#333" stroke-width="0.65"/><circle cx="345.62" cy="265.90" r="3.0" fill="#c0c0c0" stroke="#333" stroke-width="0.65"/><circle cx="347.32" cy="267.62" r="3.0" fill="#c0c0c0" stroke="#333" stroke-width="0.65"/><circle cx="349.02" cy="269.33" r="3.0" fill="#c0c0c0" stroke="#333" stroke-width="0.65"/><circle cx="350.73" cy="271.05" r="3.0" fill="#c0c0c0" stroke="#333" stroke-width="0.65"/><circle cx="352.43" cy="272.77" r="3.0" fill="#c0c0c0" stroke="#333" stroke-width="0.65"/><circle cx="354.13" cy="274.48" r="3.0" fill="#c0c0c0" stroke="#333" stroke-width="0.65"/><circle cx="355.84" cy="276.20" r="3.0" fill="#c0c0c0" stroke="#333" stroke-width="0.65"/><circle cx="357.54" cy="277.92" r="3.0" fill="#c0c0c0" stroke="#333" stroke-width="0.65"/><circle cx="359.24" cy="279.63" r="3.0" fill="#c0c0c0" stroke="#333" stroke-width="0.65"/><circle cx="360.95" cy="281.35" r="3.0" fill="#c0c0c0" stroke="#333" stroke-width="0.65"/><circle cx="362.65" cy="283.06" r="3.0" fill="#c0c0c0" stroke="#333" stroke-width="0.65"/><circle cx="364.35" cy="284.78" r="3.0" fill="#c0c0c0" stroke="#333" stroke-width="0.65"/><circle cx="366.05" cy="286.50" r="3.0" fill="#c0c0c0" stroke="#333" stroke-width="0.65"/><circle cx="367.76" cy="288.21" r="3.0" fill="#c0c0c0" stroke="#333" stroke-width="0.65"/><circle cx="369.46" cy="289.93" r="3.0" fill="#c0c0c0" stroke="#333" stroke-width="0.65"/><circle cx="371.16" cy="291.65" r="3.0" fill="#c0c0c0" stroke="#333" stroke-width="0.65"/><circle cx="372.87" cy="293.36" r="3.0" fill="#c0c0c0" stroke="#333" stroke-width="0.65"/><circle cx="374.55" cy="294.37" r="3.0" fill="#c0c0c0" stroke="#333" stroke-width="0.65"/><circle cx="376.23" cy="295.38" r="3.0" fill="#c0c0c0" stroke="#333" stroke-width="0.65"/><circle cx="377.91" cy="296.39" r="3.0" fill="#c0c0c0" stroke="#333" stroke-width="0.65"/><circle cx="379.59" cy="297.40" r="3.0" fill="#c0c0c0" stroke="#333" stroke-width="0.65"/><circle cx="381.27" cy="298.41" r="3.0" fill="#c0c0c0" stroke="#333" stroke-width="0.65"/><circle cx="382.95" cy="299.42" r="3.0" fill="#c0c0c0" stroke="#333" stroke-width="0.65"/><circle cx="384.63" cy="300.42" r="3.0" fill="#c0c0c0" stroke="#333" stroke-width="0.65"/><circle cx="386.31" cy="301.43" r="3.0" fill="#c0c0c0" stroke="#333" stroke-width="0.65"/><circle cx="388.00" cy="302.44" r="3.0" fill="#c0c0c0" stroke="#333" stroke-width="0.65"/><circle cx="389.68" cy="303.45" r="3.0" fill="#c0c0c0" stroke="#333" stroke-width="0.65"/><circle cx="391.36" cy="304.46" r="3.0" fill="#c0c0c0" stroke="#333" stroke-width="0.65"/><circle cx="393.04" cy="305.47" r="3.0" fill="#c0c0c0" stroke="#333" stroke-width="0.65"/><circle cx="394.72" cy="306.48" r="3.0" fill="#c0c0c0" stroke="#333" stroke-width="0.65"/><circle cx="396.38" cy="307.54" r="3.0" fill="#c0c0c0" stroke="#333" stroke-width="0.65"/><circle cx="398.04" cy="308.61" r="3.0" fill="#c0c0c0" stroke="#333" stroke-width="0.65"/><circle cx="399.71" cy="309.67" r="3.0" fill="#c0c0c0" stroke="#333" stroke-width="0.65"/><circle cx="401.37" cy="310.74" r="3.0" fill="#c0c0c0" stroke="#333" stroke-width="0.65"/><circle cx="403.03" cy="311.80" r="3.0" fill="#c0c0c0" stroke="#333" stroke-width="0.65"/><circle cx="404.69" cy="312.86" r="3.0" fill="#c0c0c0" stroke="#333" stroke-width="0.65"/><circle cx="406.35" cy="313.93" r="3.0" fill="#c0c0c0" stroke="#333" stroke-width="0.65"/><circle cx="408.02" cy="314.99" r="3.0" fill="#c0c0c0" stroke="#333" stroke-width="0.65"/><circle cx="409.68" cy="316.06" r="3.0" fill="#c0c0c0" stroke="#333" stroke-width="0.65"/><circle cx="411.29" cy="317.07" r="3.0" fill="#c0c0c0" stroke="#333" stroke-width="0.65"/><circle cx="412.91" cy="318.08" r="3.0" fill="#c0c0c0" stroke="#333" stroke-width="0.65"/><circle cx="414.52" cy="319.08" r="3.0" fill="#c0c0c0" stroke="#333" stroke-width="0.65"/><circle cx="416.13" cy="320.09" r="3.0" fill="#c0c0c0" stroke="#333" stroke-width="0.65"/><circle cx="417.75" cy="321.10" r="3.0" fill="#c0c0c0" stroke="#333" stroke-width="0.65"/><circle cx="419.46" cy="322.25" r="3.0" fill="#c0c0c0" stroke="#333" stroke-width="0.65"/><circle cx="421.18" cy="323.39" r="3.0" fill="#c0c0c0" stroke="#333" stroke-width="0.65"/><circle cx="422.89" cy="324.53" r="3.0" fill="#c0c0c0" stroke="#333" stroke-width="0.65"/><circle cx="424.61" cy="325.67" r="3.0" fill="#c0c0c0" stroke="#333" stroke-width="0.65"/><circle cx="426.32" cy="326.82" r="3.0" fill="#c0c0c0" stroke="#333" stroke-width="0.65"/>
<line x1="417.75" y1="321.10" x2="418.92" y2="348.00" stroke="#000" stroke-width="1.0"/>
<circle cx="418.92" cy="348.00" r="3.0" fill="#c0c0c0" stroke="#333" stroke-width="0.65"/>
<path d="M372.53 348.00 L373.37 297.57 L375.03 299.04 L376.69 300.51 L378.35 301.98 L380.01 303.45 L381.67 304.92 L383.33 306.39 L384.99 307.86 L386.65 309.33 L388.33 310.75 L390.01 312.16 L391.69 313.57 L393.37 314.98 L395.06 316.40 L396.82 317.19 L398.58 317.99 L400.35 318.79 L402.11 319.59 L403.68 320.32 L405.25 321.05 L406.82 321.77 L408.33 322.70 L409.85 323.62 L411.36 324.55 L412.87 325.47 L414.51 326.15 L416.15 326.82 L417.79 327.49 L419.43 328.16 L421.08 328.56 L422.73 328.95 L424.39 329.34 L426.04 329.73 L427.69 330.12 L429.35 330.52 L434.22 348.00" fill="none" stroke="#000" stroke-width="0.9"/>
<circle cx="372.53" cy="348.00" r="2.85" fill="#ff0000" stroke="#700000" stroke-width="0.6"/><circle cx="373.37" cy="297.57" r="2.85" fill="#ff0000" stroke="#700000" stroke-width="0.6"/><circle cx="375.03" cy="299.04" r="2.85" fill="#ff0000" stroke="#700000" stroke-width="0.6"/><circle cx="376.69" cy="300.51" r="2.85" fill="#ff0000" stroke="#700000" stroke-width="0.6"/><circle cx="378.35" cy="301.98" r="2.85" fill="#ff0000" stroke="#700000" stroke-width="0.6"/><circle cx="380.01" cy="303.45" r="2.85" fill="#ff0000" stroke="#700000" stroke-width="0.6"/><circle cx="381.67" cy="304.92" r="2.85" fill="#ff0000" stroke="#700000" stroke-width="0.6"/><circle cx="383.33" cy="306.39" r="2.85" fill="#ff0000" stroke="#700000" stroke-width="0.6"/><circle cx="384.99" cy="307.86" r="2.85" fill="#ff0000" stroke="#700000" stroke-width="0.6"/><circle cx="386.65" cy="309.33" r="2.85" fill="#ff0000" stroke="#700000" stroke-width="0.6"/><circle cx="388.33" cy="310.75" r="2.85" fill="#ff0000" stroke="#700000" stroke-width="0.6"/><circle cx="390.01" cy="312.16" r="2.85" fill="#ff0000" stroke="#700000" stroke-width="0.6"/><circle cx="391.69" cy="313.57" r="2.85" fill="#ff0000" stroke="#700000" stroke-width="0.6"/><circle cx="393.37" cy="314.98" r="2.85" fill="#ff0000" stroke="#700000" stroke-width="0.6"/><circle cx="395.06" cy="316.40" r="2.85" fill="#ff0000" stroke="#700000" stroke-width="0.6"/><circle cx="396.82" cy="317.19" r="2.85" fill="#ff0000" stroke="#700000" stroke-width="0.6"/><circle cx="398.58" cy="317.99" r="2.85" fill="#ff0000" stroke="#700000" stroke-width="0.6"/><circle cx="400.35" cy="318.79" r="2.85" fill="#ff0000" stroke="#700000" stroke-width="0.6"/><circle cx="402.11" cy="319.59" r="2.85" fill="#ff0000" stroke="#700000" stroke-width="0.6"/><circle cx="403.68" cy="320.32" r="2.85" fill="#ff0000" stroke="#700000" stroke-width="0.6"/><circle cx="405.25" cy="321.05" r="2.85" fill="#ff0000" stroke="#700000" stroke-width="0.6"/><circle cx="406.82" cy="321.77" r="2.85" fill="#ff0000" stroke="#700000" stroke-width="0.6"/><circle cx="408.33" cy="322.70" r="2.85" fill="#ff0000" stroke="#700000" stroke-width="0.6"/><circle cx="409.85" cy="323.62" r="2.85" fill="#ff0000" stroke="#700000" stroke-width="0.6"/><circle cx="411.36" cy="324.55" r="2.85" fill="#ff0000" stroke="#700000" stroke-width="0.6"/><circle cx="412.87" cy="325.47" r="2.85" fill="#ff0000" stroke="#700000" stroke-width="0.6"/><circle cx="414.51" cy="326.15" r="2.85" fill="#ff0000" stroke="#700000" stroke-width="0.6"/><circle cx="416.15" cy="326.82" r="2.85" fill="#ff0000" stroke="#700000" stroke-width="0.6"/><circle cx="417.79" cy="327.49" r="2.85" fill="#ff0000" stroke="#700000" stroke-width="0.6"/><circle cx="419.43" cy="328.16" r="2.85" fill="#ff0000" stroke="#700000" stroke-width="0.6"/><circle cx="421.08" cy="328.56" r="2.85" fill="#ff0000" stroke="#700000" stroke-width="0.6"/><circle cx="422.73" cy="328.95" r="2.85" fill="#ff0000" stroke="#700000" stroke-width="0.6"/><circle cx="424.39" cy="329.34" r="2.85" fill="#ff0000" stroke="#700000" stroke-width="0.6"/><circle cx="426.04" cy="329.73" r="2.85" fill="#ff0000" stroke="#700000" stroke-width="0.6"/><circle cx="427.69" cy="330.12" r="2.85" fill="#ff0000" stroke="#700000" stroke-width="0.6"/><circle cx="429.35" cy="330.52" r="2.85" fill="#ff0000" stroke="#700000" stroke-width="0.6"/><circle cx="434.22" cy="348.00" r="2.85" fill="#ff0000" stroke="#700000" stroke-width="0.6"/>
<path d="M386.65 348.00 L388.00 316.06 L389.76 317.99 L391.53 319.93 L393.29 321.86 L395.06 323.79 L396.75 325.10 L398.45 326.41 L400.15 327.71 L401.85 329.02 L403.55 330.33 L405.25 331.64 L406.95 332.94 L408.65 334.25 L410.35 335.56 L411.95 335.31 L413.55 335.06 L415.14 334.80 L416.74 334.55 L418.39 334.97 L420.04 335.39 L421.70 335.81 L423.35 336.23 L425.00 336.65 L426.66 337.07 L428.47 337.71 L430.29 338.35 L432.10 338.99 L433.92 339.63 L435.73 340.27 L437.29 340.86 L438.84 341.44 L440.40 342.03 L441.95 342.62 L443.72 343.46 L445.48 344.30 L447.25 345.14 L449.01 345.98" fill="none" stroke="#000" stroke-width="0.9"/>
<path d="M386.65 349.30V352.80M385.35 351.40H387.95" stroke="#555" stroke-width="0.6" fill="none"/><circle cx="386.65" cy="348.00" r="1.45" fill="#ff00ff" stroke="#800080" stroke-width="0.7"/><path d="M388.00 317.36V320.86M386.70 319.46H389.30" stroke="#555" stroke-width="0.6" fill="none"/><circle cx="388.00" cy="316.06" r="1.45" fill="#ff00ff" stroke="#800080" stroke-width="0.7"/><path d="M389.76 319.29V322.79M388.46 321.39H391.06" stroke="#555" stroke-width="0.6" fill="none"/><circle cx="389.76" cy="317.99" r="1.45" fill="#ff00ff" stroke="#800080" stroke-width="0.7"/><path d="M391.53 321.23V324.73M390.23 323.33H392.83" stroke="#555" stroke-width="0.6" fill="none"/><circle cx="391.53" cy="319.93" r="1.45" fill="#ff00ff" stroke="#800080" stroke-width="0.7"/><path d="M393.29 323.16V326.66M391.99 325.26H394.59" stroke="#555" stroke-width="0.6" fill="none"/><circle cx="393.29" cy="321.86" r="1.45" fill="#ff00ff" stroke="#800080" stroke-width="0.7"/><path d="M395.06 325.09V328.59M393.76 327.19H396.36" stroke="#555" stroke-width="0.6" fill="none"/><circle cx="395.06" cy="323.79" r="1.45" fill="#ff00ff" stroke="#800080" stroke-width="0.7"/><path d="M396.75 326.40V329.90M395.45 328.50H398.05" stroke="#555" stroke-width="0.6" fill="none"/><circle cx="396.75" cy="325.10" r="1.45" fill="#ff00ff" stroke="#800080" stroke-width="0.7"/><path d="M398.45 327.71V331.21M397.15 329.81H399.75" stroke="#555" stroke-width="0.6" fill="none"/><circle cx="398.45" cy="326.41" r="1.45" fill="#ff00ff" stroke="#800080" stroke-width="0.7"/><path d="M400.15 329.01V332.51M398.85 331.11H401.45" stroke="#555" stroke-width="0.6" fill="none"/><circle cx="400.15" cy="327.71" r="1.45" fill="#ff00ff" stroke="#800080" stroke-width="0.7"/><path d="M401.85 330.32V333.82M400.55 332.42H403.15" stroke="#555" stroke-width="0.6" fill="none"/><circle cx="401.85" cy="329.02" r="1.45" fill="#ff00ff" stroke="#800080" stroke-width="0.7"/><path d="M403.55 331.63V335.13M402.25 333.73H404.85" stroke="#555" stroke-width="0.6" fill="none"/><circle cx="403.55" cy="330.33" r="1.45" fill="#ff00ff" stroke="#800080" stroke-width="0.7"/><path d="M405.25 332.94V336.44M403.95 335.04H406.55" stroke="#555" stroke-width="0.6" fill="none"/><circle cx="405.25" cy="331.64" r="1.45" fill="#ff00ff" stroke="#800080" stroke-width="0.7"/><path d="M406.95 334.24V337.74M405.65 336.34H408.25" stroke="#555" stroke-width="0.6" fill="none"/><circle cx="406.95" cy="332.94" r="1.45" fill="#ff00ff" stroke="#800080" stroke-width="0.7"/><path d="M408.65 335.55V339.05M407.35 337.65H409.95" stroke="#555" stroke-width="0.6" fill="none"/><circle cx="408.65" cy="334.25" r="1.45" fill="#ff00ff" stroke="#800080" stroke-width="0.7"/><path d="M410.35 336.86V340.36M409.05 338.96H411.65" stroke="#555" stroke-width="0.6" fill="none"/><circle cx="410.35" cy="335.56" r="1.45" fill="#ff00ff" stroke="#800080" stroke-width="0.7"/><path d="M411.95 336.61V340.11M410.65 338.71H413.25" stroke="#555" stroke-width="0.6" fill="none"/><circle cx="411.95" cy="335.31" r="1.45" fill="#ff00ff" stroke="#800080" stroke-width="0.7"/><path d="M413.55 336.36V339.86M412.25 338.46H414.85" stroke="#555" stroke-width="0.6" fill="none"/><circle cx="413.55" cy="335.06" r="1.45" fill="#ff00ff" stroke="#800080" stroke-width="0.7"/><path d="M415.14 336.10V339.60M413.84 338.20H416.44" stroke="#555" stroke-width="0.6" fill="none"/><circle cx="415.14" cy="334.80" r="1.45" fill="#ff00ff" stroke="#800080" stroke-width="0.7"/><path d="M416.74 335.85V339.35M415.44 337.95H418.04" stroke="#555" stroke-width="0.6" fill="none"/><circle cx="416.74" cy="334.55" r="1.45" fill="#ff00ff" stroke="#800080" stroke-width="0.7"/><path d="M418.39 336.27V339.77M417.09 338.37H419.69" stroke="#555" stroke-width="0.6" fill="none"/><circle cx="418.39" cy="334.97" r="1.45" fill="#ff00ff" stroke="#800080" stroke-width="0.7"/><path d="M420.04 336.69V340.19M418.74 338.79H421.34" stroke="#555" stroke-width="0.6" fill="none"/><circle cx="420.04" cy="335.39" r="1.45" fill="#ff00ff" stroke="#800080" stroke-width="0.7"/><path d="M421.70 337.11V340.61M420.40 339.21H423.00" stroke="#555" stroke-width="0.6" fill="none"/><circle cx="421.70" cy="335.81" r="1.45" fill="#ff00ff" stroke="#800080" stroke-width="0.7"/><path d="M423.35 337.53V341.03M422.05 339.63H424.65" stroke="#555" stroke-width="0.6" fill="none"/><circle cx="423.35" cy="336.23" r="1.45" fill="#ff00ff" stroke="#800080" stroke-width="0.7"/><path d="M425.00 337.95V341.45M423.70 340.05H426.30" stroke="#555" stroke-width="0.6" fill="none"/><circle cx="425.00" cy="336.65" r="1.45" fill="#ff00ff" stroke="#800080" stroke-width="0.7"/><path d="M426.66 338.37V341.87M425.36 340.47H427.96" stroke="#555" stroke-width="0.6" fill="none"/><circle cx="426.66" cy="337.07" r="1.45" fill="#ff00ff" stroke="#800080" stroke-width="0.7"/><path d="M428.47 339.01V342.51M427.17 341.11H429.77" stroke="#555" stroke-width="0.6" fill="none"/><circle cx="428.47" cy="337.71" r="1.45" fill="#ff00ff" stroke="#800080" stroke-width="0.7"/><path d="M430.29 339.65V343.15M428.99 341.75H431.59" stroke="#555" stroke-width="0.6" fill="none"/><circle cx="430.29" cy="338.35" r="1.45" fill="#ff00ff" stroke="#800080" stroke-width="0.7"/><path d="M432.10 340.29V343.79M430.80 342.39H433.40" stroke="#555" stroke-width="0.6" fill="none"/><circle cx="432.10" cy="338.99" r="1.45" fill="#ff00ff" stroke="#800080" stroke-width="0.7"/><path d="M433.92 340.93V344.43M432.62 343.03H435.22" stroke="#555" stroke-width="0.6" fill="none"/><circle cx="433.92" cy="339.63" r="1.45" fill="#ff00ff" stroke="#800080" stroke-width="0.7"/><path d="M435.73 341.57V345.07M434.43 343.67H437.03" stroke="#555" stroke-width="0.6" fill="none"/><circle cx="435.73" cy="340.27" r="1.45" fill="#ff00ff" stroke="#800080" stroke-width="0.7"/><path d="M437.29 342.16V345.66M435.99 344.26H438.59" stroke="#555" stroke-width="0.6" fill="none"/><circle cx="437.29" cy="340.86" r="1.45" fill="#ff00ff" stroke="#800080" stroke-width="0.7"/><path d="M438.84 342.74V346.24M437.54 344.84H440.14" stroke="#555" stroke-width="0.6" fill="none"/><circle cx="438.84" cy="341.44" r="1.45" fill="#ff00ff" stroke="#800080" stroke-width="0.7"/><path d="M440.40 343.33V346.83M439.10 345.43H441.70" stroke="#555" stroke-width="0.6" fill="none"/><circle cx="440.40" cy="342.03" r="1.45" fill="#ff00ff" stroke="#800080" stroke-width="0.7"/><path d="M441.95 343.92V347.42M440.65 346.02H443.25" stroke="#555" stroke-width="0.6" fill="none"/><circle cx="441.95" cy="342.62" r="1.45" fill="#ff00ff" stroke="#800080" stroke-width="0.7"/><path d="M443.72 344.76V348.26M442.42 346.86H445.02" stroke="#555" stroke-width="0.6" fill="none"/><circle cx="443.72" cy="343.46" r="1.45" fill="#ff00ff" stroke="#800080" stroke-width="0.7"/><path d="M445.48 345.60V349.10M444.18 347.70H446.78" stroke="#555" stroke-width="0.6" fill="none"/><circle cx="445.48" cy="344.30" r="1.45" fill="#ff00ff" stroke="#800080" stroke-width="0.7"/><path d="M447.25 346.44V349.94M445.95 348.54H448.55" stroke="#555" stroke-width="0.6" fill="none"/><circle cx="447.25" cy="345.14" r="1.45" fill="#ff00ff" stroke="#800080" stroke-width="0.7"/><path d="M449.01 347.28V350.78M447.71 349.38H450.31" stroke="#555" stroke-width="0.6" fill="none"/><circle cx="449.01" cy="345.98" r="1.45" fill="#ff00ff" stroke="#800080" stroke-width="0.7"/>
<path d="M386.65 348.00 L386.99 312.86 L388.60 314.36 L390.21 315.86 L391.83 317.35 L393.44 318.85 L395.06 320.35 L396.67 321.84 L398.28 323.34 L399.90 324.83 L401.51 326.33 L403.12 327.83 L404.47 325.81 L405.81 323.79 L407.53 325.19 L409.25 326.59 L410.97 327.99 L412.69 329.40 L414.40 330.80 L416.12 332.20 L417.84 333.60 L419.56 335.00 L421.28 336.40 L422.73 335.78 L424.19 335.17 L425.65 334.55 L427.50 335.48 L429.35 336.40 L431.19 337.32 L433.04 338.25 L434.56 337.63 L436.07 337.02 L437.58 336.40 L439.35 337.75 L441.11 339.09 L442.88 340.44 L444.64 341.78 L446.38 342.82 L448.12 343.85 L449.85 344.89 L451.59 345.93 L453.33 346.96 L455.06 348.00" fill="none" stroke="#000" stroke-width="0.9"/>
<path d="M387.65 347.00L390.05 344.60" stroke="#333" stroke-width="0.55" fill="none"/><path d="M390.95 343.70L388.95 344.10L390.55 345.70Z" fill="#000"/><circle cx="386.65" cy="348.00" r="1.55" fill="#0000ff" stroke="#000060" stroke-width="0.7"/><path d="M387.99 311.86L390.39 309.46" stroke="#333" stroke-width="0.55" fill="none"/><path d="M391.29 308.56L389.29 308.96L390.89 310.56Z" fill="#000"/><circle cx="386.99" cy="312.86" r="1.55" fill="#0000ff" stroke="#000060" stroke-width="0.7"/><path d="M389.60 313.36L392.00 310.96" stroke="#333" stroke-width="0.55" fill="none"/><path d="M392.90 310.06L390.90 310.46L392.50 312.06Z" fill="#000"/><circle cx="388.60" cy="314.36" r="1.55" fill="#0000ff" stroke="#000060" stroke-width="0.7"/><path d="M391.21 314.86L393.61 312.46" stroke="#333" stroke-width="0.55" fill="none"/><path d="M394.51 311.56L392.51 311.96L394.11 313.56Z" fill="#000"/><circle cx="390.21" cy="315.86" r="1.55" fill="#0000ff" stroke="#000060" stroke-width="0.7"/><path d="M392.83 316.35L395.23 313.95" stroke="#333" stroke-width="0.55" fill="none"/><path d="M396.13 313.05L394.13 313.45L395.73 315.05Z" fill="#000"/><circle cx="391.83" cy="317.35" r="1.55" fill="#0000ff" stroke="#000060" stroke-width="0.7"/><path d="M394.44 317.85L396.84 315.45" stroke="#333" stroke-width="0.55" fill="none"/><path d="M397.74 314.55L395.74 314.95L397.34 316.55Z" fill="#000"/><circle cx="393.44" cy="318.85" r="1.55" fill="#0000ff" stroke="#000060" stroke-width="0.7"/><path d="M396.06 319.35L398.46 316.95" stroke="#333" stroke-width="0.55" fill="none"/><path d="M399.36 316.05L397.36 316.45L398.96 318.05Z" fill="#000"/><circle cx="395.06" cy="320.35" r="1.55" fill="#0000ff" stroke="#000060" stroke-width="0.7"/><path d="M397.67 320.84L400.07 318.44" stroke="#333" stroke-width="0.55" fill="none"/><path d="M400.97 317.54L398.97 317.94L400.57 319.54Z" fill="#000"/><circle cx="396.67" cy="321.84" r="1.55" fill="#0000ff" stroke="#000060" stroke-width="0.7"/><path d="M399.28 322.34L401.68 319.94" stroke="#333" stroke-width="0.55" fill="none"/><path d="M402.58 319.04L400.58 319.44L402.18 321.04Z" fill="#000"/><circle cx="398.28" cy="323.34" r="1.55" fill="#0000ff" stroke="#000060" stroke-width="0.7"/><path d="M400.90 323.83L403.30 321.43" stroke="#333" stroke-width="0.55" fill="none"/><path d="M404.20 320.53L402.20 320.93L403.80 322.53Z" fill="#000"/><circle cx="399.90" cy="324.83" r="1.55" fill="#0000ff" stroke="#000060" stroke-width="0.7"/><path d="M402.51 325.33L404.91 322.93" stroke="#333" stroke-width="0.55" fill="none"/><path d="M405.81 322.03L403.81 322.43L405.41 324.03Z" fill="#000"/><circle cx="401.51" cy="326.33" r="1.55" fill="#0000ff" stroke="#000060" stroke-width="0.7"/><path d="M404.12 326.83L406.52 324.43" stroke="#333" stroke-width="0.55" fill="none"/><path d="M407.42 323.53L405.42 323.93L407.02 325.53Z" fill="#000"/><circle cx="403.12" cy="327.83" r="1.55" fill="#0000ff" stroke="#000060" stroke-width="0.7"/><path d="M405.47 324.81L407.87 322.41" stroke="#333" stroke-width="0.55" fill="none"/><path d="M408.77 321.51L406.77 321.91L408.37 323.51Z" fill="#000"/><circle cx="404.47" cy="325.81" r="1.55" fill="#0000ff" stroke="#000060" stroke-width="0.7"/><path d="M406.81 322.79L409.21 320.39" stroke="#333" stroke-width="0.55" fill="none"/><path d="M410.11 319.49L408.11 319.89L409.71 321.49Z" fill="#000"/><circle cx="405.81" cy="323.79" r="1.55" fill="#0000ff" stroke="#000060" stroke-width="0.7"/><path d="M408.53 324.19L410.93 321.79" stroke="#333" stroke-width="0.55" fill="none"/><path d="M411.83 320.89L409.83 321.29L411.43 322.89Z" fill="#000"/><circle cx="407.53" cy="325.19" r="1.55" fill="#0000ff" stroke="#000060" stroke-width="0.7"/><path d="M410.25 325.59L412.65 323.19" stroke="#333" stroke-width="0.55" fill="none"/><path d="M413.55 322.29L411.55 322.69L413.15 324.29Z" fill="#000"/><circle cx="409.25" cy="326.59" r="1.55" fill="#0000ff" stroke="#000060" stroke-width="0.7"/><path d="M411.97 326.99L414.37 324.59" stroke="#333" stroke-width="0.55" fill="none"/><path d="M415.27 323.69L413.27 324.09L414.87 325.69Z" fill="#000"/><circle cx="410.97" cy="327.99" r="1.55" fill="#0000ff" stroke="#000060" stroke-width="0.7"/><path d="M413.69 328.40L416.09 326.00" stroke="#333" stroke-width="0.55" fill="none"/><path d="M416.99 325.10L414.99 325.50L416.59 327.10Z" fill="#000"/><circle cx="412.69" cy="329.40" r="1.55" fill="#0000ff" stroke="#000060" stroke-width="0.7"/><path d="M415.40 329.80L417.80 327.40" stroke="#333" stroke-width="0.55" fill="none"/><path d="M418.70 326.50L416.70 326.90L418.30 328.50Z" fill="#000"/><circle cx="414.40" cy="330.80" r="1.55" fill="#0000ff" stroke="#000060" stroke-width="0.7"/><path d="M417.12 331.20L419.52 328.80" stroke="#333" stroke-width="0.55" fill="none"/><path d="M420.42 327.90L418.42 328.30L420.02 329.90Z" fill="#000"/><circle cx="416.12" cy="332.20" r="1.55" fill="#0000ff" stroke="#000060" stroke-width="0.7"/><path d="M418.84 332.60L421.24 330.20" stroke="#333" stroke-width="0.55" fill="none"/><path d="M422.14 329.30L420.14 329.70L421.74 331.30Z" fill="#000"/><circle cx="417.84" cy="333.60" r="1.55" fill="#0000ff" stroke="#000060" stroke-width="0.7"/><path d="M420.56 334.00L422.96 331.60" stroke="#333" stroke-width="0.55" fill="none"/><path d="M423.86 330.70L421.86 331.10L423.46 332.70Z" fill="#000"/><circle cx="419.56" cy="335.00" r="1.55" fill="#0000ff" stroke="#000060" stroke-width="0.7"/><path d="M422.28 335.40L424.68 333.00" stroke="#333" stroke-width="0.55" fill="none"/><path d="M425.58 332.10L423.58 332.50L425.18 334.10Z" fill="#000"/><circle cx="421.28" cy="336.40" r="1.55" fill="#0000ff" stroke="#000060" stroke-width="0.7"/><path d="M423.73 334.78L426.13 332.38" stroke="#333" stroke-width="0.55" fill="none"/><path d="M427.03 331.48L425.03 331.88L426.63 333.48Z" fill="#000"/><circle cx="422.73" cy="335.78" r="1.55" fill="#0000ff" stroke="#000060" stroke-width="0.7"/><path d="M425.19 334.17L427.59 331.77" stroke="#333" stroke-width="0.55" fill="none"/><path d="M428.49 330.87L426.49 331.27L428.09 332.87Z" fill="#000"/><circle cx="424.19" cy="335.17" r="1.55" fill="#0000ff" stroke="#000060" stroke-width="0.7"/><path d="M426.65 333.55L429.05 331.15" stroke="#333" stroke-width="0.55" fill="none"/><path d="M429.95 330.25L427.95 330.65L429.55 332.25Z" fill="#000"/><circle cx="425.65" cy="334.55" r="1.55" fill="#0000ff" stroke="#000060" stroke-width="0.7"/><path d="M428.50 334.48L430.90 332.08" stroke="#333" stroke-width="0.55" fill="none"/><path d="M431.80 331.18L429.80 331.58L431.40 333.18Z" fill="#000"/><circle cx="427.50" cy="335.48" r="1.55" fill="#0000ff" stroke="#000060" stroke-width="0.7"/><path d="M430.35 335.40L432.75 333.00" stroke="#333" stroke-width="0.55" fill="none"/><path d="M433.65 332.10L431.65 332.50L433.25 334.10Z" fill="#000"/><circle cx="429.35" cy="336.40" r="1.55" fill="#0000ff" stroke="#000060" stroke-width="0.7"/><path d="M432.19 336.32L434.59 333.92" stroke="#333" stroke-width="0.55" fill="none"/><path d="M435.49 333.02L433.49 333.42L435.09 335.02Z" fill="#000"/><circle cx="431.19" cy="337.32" r="1.55" fill="#0000ff" stroke="#000060" stroke-width="0.7"/><path d="M434.04 337.25L436.44 334.85" stroke="#333" stroke-width="0.55" fill="none"/><path d="M437.34 333.95L435.34 334.35L436.94 335.95Z" fill="#000"/><circle cx="433.04" cy="338.25" r="1.55" fill="#0000ff" stroke="#000060" stroke-width="0.7"/><path d="M435.56 336.63L437.96 334.23" stroke="#333" stroke-width="0.55" fill="none"/><path d="M438.86 333.33L436.86 333.73L438.46 335.33Z" fill="#000"/><circle cx="434.56" cy="337.63" r="1.55" fill="#0000ff" stroke="#000060" stroke-width="0.7"/><path d="M437.07 336.02L439.47 333.62" stroke="#333" stroke-width="0.55" fill="none"/><path d="M440.37 332.72L438.37 333.12L439.97 334.72Z" fill="#000"/><circle cx="436.07" cy="337.02" r="1.55" fill="#0000ff" stroke="#000060" stroke-width="0.7"/><path d="M438.58 335.40L440.98 333.00" stroke="#333" stroke-width="0.55" fill="none"/><path d="M441.88 332.10L439.88 332.50L441.48 334.10Z" fill="#000"/><circle cx="437.58" cy="336.40" r="1.55" fill="#0000ff" stroke="#000060" stroke-width="0.7"/><path d="M440.35 336.75L442.75 334.35" stroke="#333" stroke-width="0.55" fill="none"/><path d="M443.65 333.45L441.65 333.85L443.25 335.45Z" fill="#000"/><circle cx="439.35" cy="337.75" r="1.55" fill="#0000ff" stroke="#000060" stroke-width="0.7"/><path d="M442.11 338.09L444.51 335.69" stroke="#333" stroke-width="0.55" fill="none"/><path d="M445.41 334.79L443.41 335.19L445.01 336.79Z" fill="#000"/><circle cx="441.11" cy="339.09" r="1.55" fill="#0000ff" stroke="#000060" stroke-width="0.7"/><path d="M443.88 339.44L446.28 337.04" stroke="#333" stroke-width="0.55" fill="none"/><path d="M447.18 336.13L445.18 336.54L446.78 338.13Z" fill="#000"/><circle cx="442.88" cy="340.44" r="1.55" fill="#0000ff" stroke="#000060" stroke-width="0.7"/><path d="M445.64 340.78L448.04 338.38" stroke="#333" stroke-width="0.55" fill="none"/><path d="M448.94 337.48L446.94 337.88L448.54 339.48Z" fill="#000"/><circle cx="444.64" cy="341.78" r="1.55" fill="#0000ff" stroke="#000060" stroke-width="0.7"/><path d="M447.38 341.82L449.78 339.42" stroke="#333" stroke-width="0.55" fill="none"/><path d="M450.68 338.52L448.68 338.92L450.28 340.52Z" fill="#000"/><circle cx="446.38" cy="342.82" r="1.55" fill="#0000ff" stroke="#000060" stroke-width="0.7"/><path d="M449.12 342.85L451.52 340.45" stroke="#333" stroke-width="0.55" fill="none"/><path d="M452.42 339.55L450.42 339.95L452.02 341.55Z" fill="#000"/><circle cx="448.12" cy="343.85" r="1.55" fill="#0000ff" stroke="#000060" stroke-width="0.7"/><path d="M450.85 343.89L453.25 341.49" stroke="#333" stroke-width="0.55" fill="none"/><path d="M454.15 340.59L452.15 340.99L453.75 342.59Z" fill="#000"/><circle cx="449.85" cy="344.89" r="1.55" fill="#0000ff" stroke="#000060" stroke-width="0.7"/><path d="M452.59 344.93L454.99 342.53" stroke="#333" stroke-width="0.55" fill="none"/><path d="M455.89 341.63L453.89 342.03L455.49 343.63Z" fill="#000"/><circle cx="451.59" cy="345.93" r="1.55" fill="#0000ff" stroke="#000060" stroke-width="0.7"/><path d="M454.33 345.96L456.73 343.56" stroke="#333" stroke-width="0.55" fill="none"/><path d="M457.63 342.66L455.63 343.06L457.23 344.66Z" fill="#000"/><circle cx="453.33" cy="346.96" r="1.55" fill="#0000ff" stroke="#000060" stroke-width="0.7"/><path d="M456.06 347.00L458.46 344.60" stroke="#333" stroke-width="0.55" fill="none"/><path d="M459.36 343.70L457.36 344.10L458.96 345.70Z" fill="#000"/><circle cx="455.06" cy="348.00" r="1.55" fill="#0000ff" stroke="#000060" stroke-width="0.7"/>
<text x="372.8" y="187" class="sm" text-anchor="middle">X Data</text>
<text transform="translate(468.2 78.6) rotate(-90)" class="sm" text-anchor="middle">Y Data</text>
<text transform="translate(247.4 271.7) rotate(-90)" class="sm" text-anchor="middle">Y Data</text>
<rect x="535.5" y="223.5" width="104.0" height="84.80000000000001" fill="#fff" stroke="#3a3a3a" stroke-width="1.1"/>
<line x1="639.9" y1="223" x2="639.9" y2="308.5" stroke="#9a9a9a" stroke-width="2"/>
<line x1="541.8" y1="236.50" x2="567.8" y2="236.50" stroke="#222" stroke-width="0.9"/>
<circle cx="554.5" cy="236.50" r="3.2" fill="#000"/>
<text transform="translate(573.6 240.10) scale(0.935 1)" class="lg">Egg</text>
<line x1="541.8" y1="251.50" x2="567.8" y2="251.50" stroke="#222" stroke-width="0.9"/>
<path d="M554.5 247.55L558.0 253.35L551.0 253.35Z" fill="#c0c0c0" stroke="#444" stroke-width="0.6"/>
<text transform="translate(573.6 254.75) scale(0.935 1)" class="lg">Larva</text>
<line x1="541.8" y1="265.90" x2="567.8" y2="265.90" stroke="#222" stroke-width="0.9"/>
<circle cx="554.5" cy="265.80" r="3.3" fill="#ff0000" stroke="#700" stroke-width="0.3"/>
<text transform="translate(573.6 269.40) scale(0.935 1)" class="lg">Pupa</text>
<line x1="541.8" y1="280.50" x2="567.8" y2="280.50" stroke="#222" stroke-width="0.9"/>
<path d="M554.5 280.45V285.45M553.1 283.65H555.9" stroke="#444" stroke-width="0.7"/><circle cx="554.5" cy="278.95" r="1.7" fill="#ff00ff"/>
<text transform="translate(573.6 284.05) scale(0.935 1)" class="lg">Adult Female</text>
<line x1="541.8" y1="295.50" x2="567.8" y2="295.50" stroke="#222" stroke-width="0.9"/>
<path d="M554.5 294.60L557.6 291.50M556.4 291.10H558.0V292.70" stroke="#111" stroke-width="0.75"/><circle cx="553.3" cy="295.90" r="1.8" fill="#0000ff"/>
<text transform="translate(573.6 298.70) scale(0.935 1)" class="lg">Adult Male</text>
<text x="373.8" y="416.6" class="ax" text-anchor="middle">Age (day)</text>
<text transform="translate(9.9 174.3) rotate(-90)" class="ax" style="font-size:13.25px" text-anchor="middle">Life expectancy (<tspan font-style="italic">e</tspan><tspan font-style="italic" font-size="12.6" dy="2">xj</tspan><tspan dy="-2">)</tspan></text>
</svg>
</body></html>
